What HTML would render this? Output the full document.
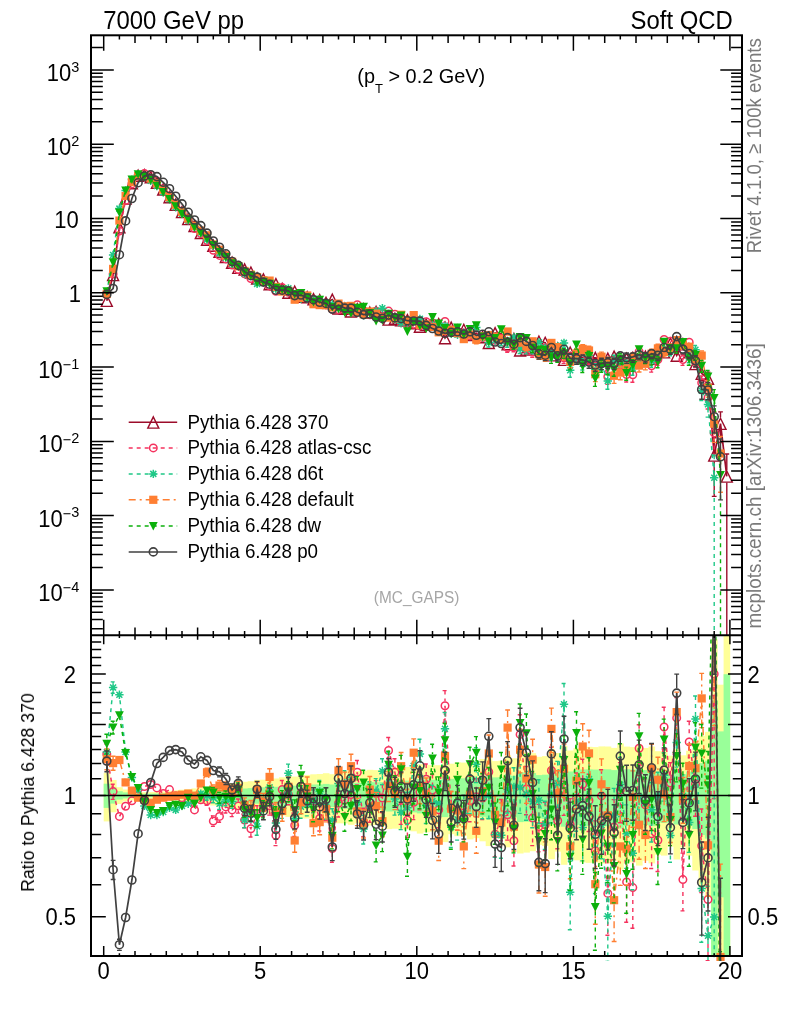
<!DOCTYPE html>
<html><head><meta charset="utf-8"><title>plot</title><style>html,body{margin:0;padding:0;background:#fff}svg{display:block}</style></head><body>
<svg width="786" height="1024" viewBox="0 0 786 1024" font-family="'Liberation Sans', sans-serif">
<rect width="786" height="1024" fill="#fff"/>
<defs><clipPath id="cm"><rect x="91.0" y="35.3" width="651.0" height="599.9"/></clipPath><clipPath id="cr"><rect x="91.0" y="635.2" width="651.0" height="325.8"/></clipPath></defs>
<g clip-path="url(#cr)">
<rect x="103.7" y="772.8" width="6.6" height="48.6" fill="#ffff99"/>
<rect x="110.0" y="780.0" width="6.6" height="32.3" fill="#ffff99"/>
<rect x="116.2" y="787.2" width="6.6" height="16.8" fill="#ffff99"/>
<rect x="122.5" y="789.5" width="6.6" height="11.9" fill="#ffff99"/>
<rect x="128.7" y="790.6" width="6.6" height="9.8" fill="#ffff99"/>
<rect x="135.0" y="792.1" width="6.6" height="6.6" fill="#ffff99"/>
<rect x="141.3" y="792.2" width="6.6" height="6.6" fill="#ffff99"/>
<rect x="147.5" y="792.1" width="6.6" height="6.8" fill="#ffff99"/>
<rect x="153.8" y="791.8" width="6.6" height="7.3" fill="#ffff99"/>
<rect x="160.1" y="791.4" width="6.6" height="8.2" fill="#ffff99"/>
<rect x="166.3" y="790.9" width="6.6" height="9.2" fill="#ffff99"/>
<rect x="172.6" y="790.3" width="6.6" height="10.4" fill="#ffff99"/>
<rect x="178.8" y="789.7" width="6.6" height="11.6" fill="#ffff99"/>
<rect x="185.1" y="789.1" width="6.6" height="12.9" fill="#ffff99"/>
<rect x="191.4" y="788.4" width="6.6" height="14.4" fill="#ffff99"/>
<rect x="197.6" y="787.6" width="6.6" height="16.0" fill="#ffff99"/>
<rect x="203.9" y="786.7" width="6.6" height="17.8" fill="#ffff99"/>
<rect x="210.2" y="785.9" width="6.6" height="19.6" fill="#ffff99"/>
<rect x="216.4" y="785.0" width="6.6" height="21.5" fill="#ffff99"/>
<rect x="222.7" y="784.1" width="6.6" height="23.3" fill="#ffff99"/>
<rect x="228.9" y="783.1" width="6.6" height="25.4" fill="#ffff99"/>
<rect x="235.2" y="782.2" width="6.6" height="27.6" fill="#ffff99"/>
<rect x="241.5" y="781.8" width="6.6" height="28.3" fill="#ffff99"/>
<rect x="247.7" y="781.2" width="6.6" height="29.7" fill="#ffff99"/>
<rect x="254.0" y="779.9" width="6.6" height="32.5" fill="#ffff99"/>
<rect x="260.2" y="779.7" width="6.6" height="33.1" fill="#ffff99"/>
<rect x="266.5" y="778.5" width="6.6" height="35.6" fill="#ffff99"/>
<rect x="272.8" y="778.5" width="6.6" height="35.6" fill="#ffff99"/>
<rect x="279.0" y="777.3" width="6.6" height="38.3" fill="#ffff99"/>
<rect x="285.3" y="776.3" width="6.6" height="40.6" fill="#ffff99"/>
<rect x="291.6" y="776.6" width="6.6" height="39.9" fill="#ffff99"/>
<rect x="297.8" y="775.1" width="6.6" height="43.3" fill="#ffff99"/>
<rect x="304.1" y="774.9" width="6.6" height="43.6" fill="#ffff99"/>
<rect x="310.3" y="774.3" width="6.6" height="45.1" fill="#ffff99"/>
<rect x="316.6" y="774.0" width="6.6" height="45.8" fill="#ffff99"/>
<rect x="322.9" y="773.2" width="6.6" height="47.7" fill="#ffff99"/>
<rect x="329.1" y="774.2" width="6.6" height="45.4" fill="#ffff99"/>
<rect x="335.4" y="771.3" width="6.6" height="52.0" fill="#ffff99"/>
<rect x="341.7" y="771.3" width="6.6" height="52.1" fill="#ffff99"/>
<rect x="347.9" y="770.3" width="6.6" height="54.5" fill="#ffff99"/>
<rect x="354.2" y="771.1" width="6.6" height="52.5" fill="#ffff99"/>
<rect x="360.4" y="771.0" width="6.6" height="52.7" fill="#ffff99"/>
<rect x="366.7" y="769.8" width="6.6" height="55.7" fill="#ffff99"/>
<rect x="373.0" y="770.1" width="6.6" height="54.9" fill="#ffff99"/>
<rect x="379.2" y="769.7" width="6.6" height="55.8" fill="#ffff99"/>
<rect x="385.5" y="767.1" width="6.6" height="62.0" fill="#ffff99"/>
<rect x="391.8" y="767.5" width="6.6" height="61.2" fill="#ffff99"/>
<rect x="398.0" y="766.8" width="6.6" height="62.8" fill="#ffff99"/>
<rect x="404.3" y="766.9" width="6.6" height="62.6" fill="#ffff99"/>
<rect x="410.5" y="765.7" width="6.6" height="65.6" fill="#ffff99"/>
<rect x="416.8" y="764.1" width="6.6" height="69.5" fill="#ffff99"/>
<rect x="423.1" y="764.9" width="6.6" height="67.4" fill="#ffff99"/>
<rect x="429.3" y="765.2" width="6.6" height="66.6" fill="#ffff99"/>
<rect x="435.6" y="765.2" width="6.6" height="66.6" fill="#ffff99"/>
<rect x="441.8" y="758.6" width="6.6" height="83.5" fill="#ffff99"/>
<rect x="448.1" y="763.7" width="6.6" height="70.5" fill="#ffff99"/>
<rect x="454.4" y="762.4" width="6.6" height="73.8" fill="#ffff99"/>
<rect x="460.6" y="762.6" width="6.6" height="73.1" fill="#ffff99"/>
<rect x="466.9" y="760.2" width="6.6" height="79.2" fill="#ffff99"/>
<rect x="473.2" y="761.0" width="6.6" height="77.2" fill="#ffff99"/>
<rect x="479.4" y="759.1" width="6.6" height="82.2" fill="#ffff99"/>
<rect x="485.7" y="756.1" width="6.6" height="90.0" fill="#ffff99"/>
<rect x="491.9" y="761.1" width="6.6" height="77.0" fill="#ffff99"/>
<rect x="498.2" y="760.7" width="6.6" height="78.1" fill="#ffff99"/>
<rect x="504.5" y="755.4" width="6.6" height="91.9" fill="#ffff99"/>
<rect x="510.7" y="758.3" width="6.6" height="84.4" fill="#ffff99"/>
<rect x="517.0" y="751.8" width="6.6" height="101.7" fill="#ffff99"/>
<rect x="523.3" y="752.4" width="6.6" height="100.2" fill="#ffff99"/>
<rect x="529.5" y="753.2" width="6.6" height="98.0" fill="#ffff99"/>
<rect x="535.8" y="756.8" width="6.6" height="88.1" fill="#ffff99"/>
<rect x="542.0" y="756.1" width="6.6" height="89.9" fill="#ffff99"/>
<rect x="548.3" y="748.8" width="6.6" height="110.4" fill="#ffff99"/>
<rect x="554.6" y="753.0" width="6.6" height="98.6" fill="#ffff99"/>
<rect x="560.8" y="745.8" width="6.6" height="119.0" fill="#ffff99"/>
<rect x="567.1" y="750.5" width="6.6" height="105.4" fill="#ffff99"/>
<rect x="573.4" y="748.2" width="6.6" height="112.1" fill="#ffff99"/>
<rect x="579.6" y="747.0" width="6.6" height="115.5" fill="#ffff99"/>
<rect x="585.9" y="746.8" width="6.6" height="116.1" fill="#ffff99"/>
<rect x="592.1" y="747.1" width="6.6" height="115.4" fill="#ffff99"/>
<rect x="598.4" y="746.4" width="6.6" height="117.2" fill="#ffff99"/>
<rect x="604.7" y="746.5" width="6.6" height="116.9" fill="#ffff99"/>
<rect x="610.9" y="747.9" width="6.6" height="112.8" fill="#ffff99"/>
<rect x="617.2" y="743.4" width="6.6" height="126.2" fill="#ffff99"/>
<rect x="623.4" y="746.6" width="6.6" height="116.8" fill="#ffff99"/>
<rect x="629.7" y="747.1" width="6.6" height="115.3" fill="#ffff99"/>
<rect x="636.0" y="745.5" width="6.6" height="120.1" fill="#ffff99"/>
<rect x="642.2" y="748.0" width="6.6" height="112.7" fill="#ffff99"/>
<rect x="648.5" y="746.5" width="6.6" height="116.9" fill="#ffff99"/>
<rect x="654.8" y="751.2" width="6.6" height="103.5" fill="#ffff99"/>
<rect x="661.0" y="750.7" width="6.6" height="104.9" fill="#ffff99"/>
<rect x="667.3" y="755.7" width="6.6" height="91.0" fill="#ffff99"/>
<rect x="673.5" y="748.6" width="6.6" height="110.9" fill="#ffff99"/>
<rect x="679.8" y="755.3" width="6.6" height="92.1" fill="#ffff99"/>
<rect x="686.1" y="750.7" width="6.6" height="105.0" fill="#ffff99"/>
<rect x="692.3" y="743.0" width="6.6" height="127.5" fill="#ffff99"/>
<rect x="698.6" y="735.8" width="6.6" height="150.6" fill="#ffff99"/>
<rect x="704.9" y="731.8" width="6.6" height="164.5" fill="#ffff99"/>
<rect x="711.1" y="639.2" width="6.6" height="316.8" fill="#ffff99"/>
<rect x="717.4" y="684.7" width="6.6" height="271.3" fill="#ffff99"/>
<rect x="723.6" y="635.2" width="6.6" height="320.8" fill="#ffff99"/>
<rect x="103.7" y="783.7" width="6.6" height="24.2" fill="#99ff99"/>
<rect x="110.0" y="787.5" width="6.6" height="16.1" fill="#99ff99"/>
<rect x="116.2" y="791.2" width="6.6" height="8.4" fill="#99ff99"/>
<rect x="122.5" y="792.4" width="6.6" height="6.0" fill="#99ff99"/>
<rect x="128.7" y="793.0" width="6.6" height="4.9" fill="#99ff99"/>
<rect x="135.0" y="793.8" width="6.6" height="3.3" fill="#99ff99"/>
<rect x="141.3" y="793.8" width="6.6" height="3.3" fill="#99ff99"/>
<rect x="147.5" y="793.7" width="6.6" height="3.4" fill="#99ff99"/>
<rect x="153.8" y="793.6" width="6.6" height="3.7" fill="#99ff99"/>
<rect x="160.1" y="793.4" width="6.6" height="4.1" fill="#99ff99"/>
<rect x="166.3" y="793.1" width="6.6" height="4.6" fill="#99ff99"/>
<rect x="172.6" y="792.8" width="6.6" height="5.2" fill="#99ff99"/>
<rect x="178.8" y="792.5" width="6.6" height="5.8" fill="#99ff99"/>
<rect x="185.1" y="792.2" width="6.6" height="6.5" fill="#99ff99"/>
<rect x="191.4" y="791.8" width="6.6" height="7.2" fill="#99ff99"/>
<rect x="197.6" y="791.4" width="6.6" height="8.0" fill="#99ff99"/>
<rect x="203.9" y="791.0" width="6.6" height="8.9" fill="#99ff99"/>
<rect x="210.2" y="790.6" width="6.6" height="9.8" fill="#99ff99"/>
<rect x="216.4" y="790.1" width="6.6" height="10.7" fill="#99ff99"/>
<rect x="222.7" y="789.7" width="6.6" height="11.6" fill="#99ff99"/>
<rect x="228.9" y="789.2" width="6.6" height="12.7" fill="#99ff99"/>
<rect x="235.2" y="788.7" width="6.6" height="13.8" fill="#99ff99"/>
<rect x="241.5" y="788.5" width="6.6" height="14.1" fill="#99ff99"/>
<rect x="247.7" y="788.1" width="6.6" height="14.8" fill="#99ff99"/>
<rect x="254.0" y="787.5" width="6.6" height="16.2" fill="#99ff99"/>
<rect x="260.2" y="787.3" width="6.6" height="16.5" fill="#99ff99"/>
<rect x="266.5" y="786.8" width="6.6" height="17.7" fill="#99ff99"/>
<rect x="272.8" y="786.8" width="6.6" height="17.7" fill="#99ff99"/>
<rect x="279.0" y="786.1" width="6.6" height="19.1" fill="#99ff99"/>
<rect x="285.3" y="785.6" width="6.6" height="20.2" fill="#99ff99"/>
<rect x="291.6" y="785.7" width="6.6" height="19.9" fill="#99ff99"/>
<rect x="297.8" y="784.9" width="6.6" height="21.6" fill="#99ff99"/>
<rect x="304.1" y="784.9" width="6.6" height="21.7" fill="#99ff99"/>
<rect x="310.3" y="784.5" width="6.6" height="22.4" fill="#99ff99"/>
<rect x="316.6" y="784.4" width="6.6" height="22.8" fill="#99ff99"/>
<rect x="322.9" y="783.9" width="6.6" height="23.7" fill="#99ff99"/>
<rect x="329.1" y="784.5" width="6.6" height="22.6" fill="#99ff99"/>
<rect x="335.4" y="782.9" width="6.6" height="25.9" fill="#99ff99"/>
<rect x="341.7" y="782.9" width="6.6" height="25.9" fill="#99ff99"/>
<rect x="347.9" y="782.4" width="6.6" height="27.1" fill="#99ff99"/>
<rect x="354.2" y="782.8" width="6.6" height="26.1" fill="#99ff99"/>
<rect x="360.4" y="782.8" width="6.6" height="26.2" fill="#99ff99"/>
<rect x="366.7" y="782.1" width="6.6" height="27.7" fill="#99ff99"/>
<rect x="373.0" y="782.3" width="6.6" height="27.3" fill="#99ff99"/>
<rect x="379.2" y="782.1" width="6.6" height="27.7" fill="#99ff99"/>
<rect x="385.5" y="780.7" width="6.6" height="30.8" fill="#99ff99"/>
<rect x="391.8" y="780.9" width="6.6" height="30.4" fill="#99ff99"/>
<rect x="398.0" y="780.5" width="6.6" height="31.1" fill="#99ff99"/>
<rect x="404.3" y="780.6" width="6.6" height="31.1" fill="#99ff99"/>
<rect x="410.5" y="779.9" width="6.6" height="32.5" fill="#99ff99"/>
<rect x="416.8" y="779.0" width="6.6" height="34.4" fill="#99ff99"/>
<rect x="423.1" y="779.5" width="6.6" height="33.4" fill="#99ff99"/>
<rect x="429.3" y="779.7" width="6.6" height="33.0" fill="#99ff99"/>
<rect x="435.6" y="779.7" width="6.6" height="33.0" fill="#99ff99"/>
<rect x="441.8" y="776.0" width="6.6" height="41.1" fill="#99ff99"/>
<rect x="448.1" y="778.8" width="6.6" height="34.9" fill="#99ff99"/>
<rect x="454.4" y="778.1" width="6.6" height="36.5" fill="#99ff99"/>
<rect x="460.6" y="778.3" width="6.6" height="36.1" fill="#99ff99"/>
<rect x="466.9" y="776.9" width="6.6" height="39.1" fill="#99ff99"/>
<rect x="473.2" y="777.4" width="6.6" height="38.1" fill="#99ff99"/>
<rect x="479.4" y="776.3" width="6.6" height="40.5" fill="#99ff99"/>
<rect x="485.7" y="774.7" width="6.6" height="44.3" fill="#99ff99"/>
<rect x="491.9" y="777.4" width="6.6" height="38.0" fill="#99ff99"/>
<rect x="498.2" y="777.2" width="6.6" height="38.6" fill="#99ff99"/>
<rect x="504.5" y="774.3" width="6.6" height="45.2" fill="#99ff99"/>
<rect x="510.7" y="775.8" width="6.6" height="41.6" fill="#99ff99"/>
<rect x="517.0" y="772.3" width="6.6" height="49.8" fill="#99ff99"/>
<rect x="523.3" y="772.6" width="6.6" height="49.1" fill="#99ff99"/>
<rect x="529.5" y="773.0" width="6.6" height="48.0" fill="#99ff99"/>
<rect x="535.8" y="775.1" width="6.6" height="43.4" fill="#99ff99"/>
<rect x="542.0" y="774.7" width="6.6" height="44.2" fill="#99ff99"/>
<rect x="548.3" y="770.5" width="6.6" height="53.8" fill="#99ff99"/>
<rect x="554.6" y="772.9" width="6.6" height="48.3" fill="#99ff99"/>
<rect x="560.8" y="768.9" width="6.6" height="57.8" fill="#99ff99"/>
<rect x="567.1" y="771.5" width="6.6" height="51.5" fill="#99ff99"/>
<rect x="573.4" y="770.2" width="6.6" height="54.6" fill="#99ff99"/>
<rect x="579.6" y="769.5" width="6.6" height="56.2" fill="#99ff99"/>
<rect x="585.9" y="769.4" width="6.6" height="56.5" fill="#99ff99"/>
<rect x="592.1" y="769.6" width="6.6" height="56.2" fill="#99ff99"/>
<rect x="598.4" y="769.2" width="6.6" height="57.0" fill="#99ff99"/>
<rect x="604.7" y="769.3" width="6.6" height="56.9" fill="#99ff99"/>
<rect x="610.9" y="770.1" width="6.6" height="55.0" fill="#99ff99"/>
<rect x="617.2" y="767.5" width="6.6" height="61.1" fill="#99ff99"/>
<rect x="623.4" y="769.3" width="6.6" height="56.8" fill="#99ff99"/>
<rect x="629.7" y="769.6" width="6.6" height="56.1" fill="#99ff99"/>
<rect x="636.0" y="768.7" width="6.6" height="58.3" fill="#99ff99"/>
<rect x="642.2" y="770.1" width="6.6" height="54.9" fill="#99ff99"/>
<rect x="648.5" y="769.3" width="6.6" height="56.9" fill="#99ff99"/>
<rect x="654.8" y="771.9" width="6.6" height="50.6" fill="#99ff99"/>
<rect x="661.0" y="771.6" width="6.6" height="51.3" fill="#99ff99"/>
<rect x="667.3" y="774.4" width="6.6" height="44.8" fill="#99ff99"/>
<rect x="673.5" y="770.4" width="6.6" height="54.1" fill="#99ff99"/>
<rect x="679.8" y="774.2" width="6.6" height="45.3" fill="#99ff99"/>
<rect x="686.1" y="771.6" width="6.6" height="51.3" fill="#99ff99"/>
<rect x="692.3" y="767.3" width="6.6" height="61.7" fill="#99ff99"/>
<rect x="698.6" y="763.1" width="6.6" height="72.0" fill="#99ff99"/>
<rect x="704.9" y="760.7" width="6.6" height="77.9" fill="#99ff99"/>
<rect x="711.1" y="700.5" width="6.6" height="255.5" fill="#99ff99"/>
<rect x="717.4" y="731.4" width="6.6" height="165.9" fill="#99ff99"/>
<rect x="723.6" y="674.2" width="6.6" height="281.8" fill="#99ff99"/>
</g>
<g clip-path="url(#cr)">
<polyline points="106.8,753.9 113.1,791.6 119.4,816.4 125.6,806.3 131.9,800.8 138.1,795.7 144.4,786.5 150.7,784.5 156.9,787.9 163.2,793.6 169.5,789.6 175.7,795.7 182.0,797.7 188.2,799.7 194.5,809.9 200.8,799.7 207.0,800.8 213.3,821.1 219.5,816.4 225.8,806.9 232.1,809.9 238.3,805.9 244.6,820.1 250.9,828.7 257.1,814.0 263.4,807.7 269.6,805.7 275.9,835.4 282.2,789.6 288.4,794.5 294.7,825.2 301.0,793.2 307.2,795.2 313.5,800.8 319.7,818.4 326.0,807.5 332.3,848.6 338.5,803.3 344.8,799.7 351.0,794.6 357.3,772.3 363.6,821.9 369.8,807.3 376.1,793.6 382.4,798.0 388.6,750.5 394.9,772.3 401.1,807.6 407.4,820.1 413.7,802.3 419.9,792.1 426.2,779.2 432.5,790.0 438.7,809.7 445.0,705.8 451.2,808.7 457.5,810.0 463.8,813.1 470.0,800.7 476.3,796.8 482.6,798.0 488.8,772.0 495.1,834.2 501.3,818.9 507.6,814.7 513.9,840.7 520.1,734.4 526.4,789.0 532.6,818.0 538.9,826.5 545.2,824.7 551.4,770.5 557.7,820.8 564.0,785.1 570.2,824.4 576.5,798.4 582.7,784.4 589.0,800.5 595.3,850.8 601.5,795.9 607.8,893.4 614.1,827.1 620.3,790.1 626.6,881.9 632.8,887.6 639.1,748.3 645.4,804.9 651.6,833.8 657.9,840.3 664.1,727.0 670.4,783.1 676.7,717.9 682.9,879.6 689.2,741.9 695.5,783.9 701.7,845.8 708.0,899.5 714.2,674.0" fill="none" stroke="#f5325e" stroke-width="1.5" stroke-dasharray="4 4"/>
<path d="M106.8 744.0 L106.8 749.4 M104.4 744.0 L109.2 744.0 M106.8 758.4 L106.8 764.4 M104.4 764.4 L109.2 764.4 M113.1 784.2 L113.1 787.1 M110.7 784.2 L115.5 784.2 M113.1 796.1 L113.1 799.4 M110.7 799.4 L115.5 799.4 M207.0 805.3 L207.0 805.4 M204.6 805.4 L209.4 805.4 M213.3 815.9 L213.3 816.6 M210.9 815.9 L215.7 815.9 M213.3 825.6 L213.3 826.4 M210.9 826.4 L215.7 826.4 M219.5 810.8 L219.5 811.9 M217.1 810.8 L221.9 810.8 M219.5 820.9 L219.5 822.2 M217.1 822.2 L221.9 822.2 M225.8 801.0 L225.8 802.4 M223.4 801.0 L228.2 801.0 M225.8 811.4 L225.8 813.0 M223.4 813.0 L228.2 813.0 M232.1 803.4 L232.1 805.4 M229.7 803.4 L234.5 803.4 M232.1 814.4 L232.1 816.6 M229.7 816.6 L234.5 816.6 M238.3 799.0 L238.3 801.4 M235.9 799.0 L240.7 799.0 M238.3 810.4 L238.3 813.1 M235.9 813.1 L240.7 813.1 M244.6 812.7 L244.6 815.6 M242.2 812.7 L247.0 812.7 M244.6 824.6 L244.6 827.8 M242.2 827.8 L247.0 827.8 M250.9 820.7 L250.9 824.2 M248.5 820.7 L253.3 820.7 M250.9 833.2 L250.9 837.0 M248.5 837.0 L253.3 837.0 M257.1 805.7 L257.1 809.5 M254.7 805.7 L259.5 805.7 M257.1 818.5 L257.1 822.8 M254.7 822.8 L259.5 822.8 M263.4 799.4 L263.4 803.2 M261.0 799.4 L265.8 799.4 M263.4 812.2 L263.4 816.4 M261.0 816.4 L265.8 816.4 M269.6 796.8 L269.6 801.2 M267.2 796.8 L272.0 796.8 M269.6 810.2 L269.6 815.1 M267.2 815.1 L272.0 815.1 M275.9 825.7 L275.9 830.9 M273.5 825.7 L278.3 825.7 M275.9 839.9 L275.9 845.6 M273.5 845.6 L278.3 845.6 M282.2 780.5 L282.2 785.1 M279.8 780.5 L284.6 780.5 M282.2 794.1 L282.2 799.2 M279.8 799.2 L284.6 799.2 M288.4 784.7 L288.4 790.0 M286.0 784.7 L290.8 784.7 M288.4 799.0 L288.4 804.8 M286.0 804.8 L290.8 804.8 M294.7 814.7 L294.7 820.7 M292.3 814.7 L297.1 814.7 M294.7 829.7 L294.7 836.4 M292.3 836.4 L297.1 836.4 M301.0 782.8 L301.0 788.7 M298.6 782.8 L303.4 782.8 M301.0 797.7 L301.0 804.2 M298.6 804.2 L303.4 804.2 M307.2 784.7 L307.2 790.7 M304.8 784.7 L309.6 784.7 M307.2 799.7 L307.2 806.4 M304.8 806.4 L309.6 806.4 M313.5 789.7 L313.5 796.3 M311.1 789.7 L315.9 789.7 M313.5 805.3 L313.5 812.5 M311.1 812.5 L315.9 812.5 M319.7 806.6 L319.7 813.9 M317.3 806.6 L322.1 806.6 M319.7 822.9 L319.7 831.0 M317.3 831.0 L322.1 831.0 M326.0 795.7 L326.0 803.0 M323.6 795.7 L328.4 795.7 M326.0 812.0 L326.0 820.2 M323.6 820.2 L328.4 820.2 M332.3 835.9 L332.3 844.1 M329.9 835.9 L334.7 835.9 M332.3 853.1 L332.3 862.3 M329.9 862.3 L334.7 862.3 M338.5 790.6 L338.5 798.8 M336.1 790.6 L340.9 790.6 M338.5 807.8 L338.5 817.0 M336.1 817.0 L340.9 817.0 M344.8 787.1 L344.8 795.2 M342.4 787.1 L347.2 787.1 M344.8 804.2 L344.8 813.3 M342.4 813.3 L347.2 813.3 M351.0 781.6 L351.0 790.1 M348.6 781.6 L353.4 781.6 M351.0 799.1 L351.0 808.6 M348.6 808.6 L353.4 808.6 M357.3 760.5 L357.3 767.8 M354.9 760.5 L359.7 760.5 M357.3 776.8 L357.3 785.0 M354.9 785.0 L359.7 785.0 M363.6 808.3 L363.6 817.4 M361.2 808.3 L366.0 808.3 M363.6 826.4 L363.6 836.6 M361.2 836.6 L366.0 836.6 M369.8 793.6 L369.8 802.8 M367.4 793.6 L372.2 793.6 M369.8 811.8 L369.8 822.2 M367.4 822.2 L372.2 822.2 M376.1 780.6 L376.1 789.1 M373.7 780.6 L378.5 780.6 M376.1 798.1 L376.1 807.7 M373.7 807.7 L378.5 807.7 M382.4 784.6 L382.4 793.5 M380.0 784.6 L384.8 784.6 M382.4 802.5 L382.4 812.5 M380.0 812.5 L384.8 812.5 M388.6 737.5 L388.6 746.0 M386.2 737.5 L391.0 737.5 M388.6 755.0 L388.6 764.5 M386.2 764.5 L391.0 764.5 M394.9 758.7 L394.9 767.8 M392.5 758.7 L397.3 758.7 M394.9 776.8 L394.9 787.1 M392.5 787.1 L397.3 787.1 M401.1 792.2 L401.1 803.1 M398.7 792.2 L403.5 792.2 M401.1 812.1 L401.1 824.4 M398.7 824.4 L403.5 824.4 M407.4 804.2 L407.4 815.6 M405.0 804.2 L409.8 804.2 M407.4 824.6 L407.4 837.6 M405.0 837.6 L409.8 837.6 M413.7 786.5 L413.7 797.8 M411.3 786.5 L416.1 786.5 M413.7 806.8 L413.7 819.6 M411.3 819.6 L416.1 819.6 M419.9 775.9 L419.9 787.6 M417.5 775.9 L422.3 775.9 M419.9 796.6 L419.9 809.9 M417.5 809.9 L422.3 809.9 M426.2 764.0 L426.2 774.7 M423.8 764.0 L428.6 764.0 M426.2 783.7 L426.2 795.8 M423.8 795.8 L428.6 795.8 M432.5 774.5 L432.5 785.5 M430.1 774.5 L434.9 774.5 M432.5 794.5 L432.5 807.0 M430.1 807.0 L434.9 807.0 M438.7 793.3 L438.7 805.2 M436.3 793.3 L441.1 793.3 M438.7 814.2 L438.7 827.7 M436.3 827.7 L441.1 827.7 M445.0 690.6 L445.0 701.3 M442.6 690.6 L447.4 690.6 M445.0 710.3 L445.0 722.4 M442.6 722.4 L447.4 722.4 M451.2 791.5 L451.2 804.2 M448.8 791.5 L453.6 791.5 M451.2 813.2 L451.2 827.8 M448.8 827.8 L453.6 827.8 M457.5 792.0 L457.5 805.5 M455.1 792.0 L459.9 792.0 M457.5 814.5 L457.5 830.1 M455.1 830.1 L459.9 830.1 M463.8 795.1 L463.8 808.6 M461.4 795.1 L466.2 795.1 M463.8 817.6 L463.8 833.2 M461.4 833.2 L466.2 833.2 M470.0 782.0 L470.0 796.2 M467.6 782.0 L472.4 782.0 M470.0 805.2 L470.0 821.7 M467.6 821.7 L472.4 821.7 M476.3 778.7 L476.3 792.3 M473.9 778.7 L478.7 778.7 M476.3 801.3 L476.3 816.9 M473.9 816.9 L478.7 816.9 M482.6 778.7 L482.6 793.5 M480.2 778.7 L485.0 778.7 M482.6 802.5 L482.6 819.6 M480.2 819.6 L485.0 819.6 M488.8 752.5 L488.8 767.5 M486.4 752.5 L491.2 752.5 M488.8 776.5 L488.8 793.9 M486.4 793.9 L491.2 793.9 M495.1 814.2 L495.1 829.7 M492.7 814.2 L497.5 814.2 M495.1 838.7 L495.1 856.7 M492.7 856.7 L497.5 856.7 M501.3 799.5 L501.3 814.4 M498.9 799.5 L503.7 799.5 M501.3 823.4 L501.3 840.7 M498.9 840.7 L503.7 840.7 M507.6 792.4 L507.6 810.2 M505.2 792.4 L510.0 792.4 M507.6 819.2 L507.6 840.1 M505.2 840.1 L510.0 840.1 M513.9 818.6 L513.9 836.2 M511.5 818.6 L516.3 818.6 M513.9 845.2 L513.9 866.0 M511.5 866.0 L516.3 866.0 M520.1 714.8 L520.1 729.9 M517.7 714.8 L522.5 714.8 M520.1 738.9 L520.1 756.5 M517.7 756.5 L522.5 756.5 M526.4 766.5 L526.4 784.5 M524.0 766.5 L528.8 766.5 M526.4 793.5 L526.4 814.7 M524.0 814.7 L528.8 814.7 M532.6 794.3 L532.6 813.5 M530.2 794.3 L535.0 794.3 M532.6 822.5 L532.6 845.6 M530.2 845.6 L535.0 845.6 M538.9 804.4 L538.9 822.0 M536.5 804.4 L541.3 804.4 M538.9 831.0 L538.9 851.8 M536.5 851.8 L541.3 851.8 M545.2 802.3 L545.2 820.2 M542.8 802.3 L547.6 802.3 M545.2 829.2 L545.2 850.5 M542.8 850.5 L547.6 850.5 M551.4 747.2 L551.4 766.0 M549.0 747.2 L553.8 747.2 M551.4 775.0 L551.4 797.3 M549.0 797.3 L553.8 797.3 M557.7 796.7 L557.7 816.3 M555.3 796.7 L560.1 796.7 M557.7 825.3 L557.7 848.7 M555.3 848.7 L560.1 848.7 M564.0 759.3 L564.0 780.6 M561.6 759.3 L566.4 759.3 M564.0 789.6 L564.0 815.4 M561.6 815.4 L566.4 815.4 M570.2 798.6 L570.2 819.9 M567.8 798.6 L572.6 798.6 M570.2 828.9 L570.2 854.7 M567.8 854.7 L572.6 854.7 M576.5 773.0 L576.5 793.9 M574.1 773.0 L578.9 773.0 M576.5 802.9 L576.5 828.1 M574.1 828.1 L578.9 828.1 M582.7 759.2 L582.7 779.9 M580.3 759.2 L585.1 759.2 M582.7 788.9 L582.7 813.7 M580.3 813.7 L585.1 813.7 M589.0 774.2 L589.0 796.0 M586.6 774.2 L591.4 774.2 M589.0 805.0 L589.0 831.5 M586.6 831.5 L591.4 831.5 M595.3 820.9 L595.3 846.3 M592.9 820.9 L597.7 820.9 M595.3 855.3 L595.3 886.9 M592.9 886.9 L597.7 886.9 M601.5 769.7 L601.5 791.4 M599.1 769.7 L603.9 769.7 M601.5 800.4 L601.5 826.8 M599.1 826.8 L603.9 826.8 M607.8 859.6 L607.8 888.9 M605.4 859.6 L610.2 859.6 M607.8 897.9 L607.8 935.3 M605.4 935.3 L610.2 935.3 M614.1 799.6 L614.1 822.6 M611.7 799.6 L616.5 799.6 M614.1 831.6 L614.1 859.8 M611.7 859.8 L616.5 859.8 M620.3 762.6 L620.3 785.6 M617.9 762.6 L622.7 762.6 M620.3 794.6 L620.3 822.8 M617.9 822.8 L622.7 822.8 M626.6 849.1 L626.6 877.4 M624.2 849.1 L629.0 849.1 M626.6 886.4 L626.6 922.3 M624.2 922.3 L629.0 922.3 M632.8 854.7 L632.8 883.1 M630.4 854.7 L635.2 854.7 M632.8 892.1 L632.8 928.2 M630.4 928.2 L635.2 928.2 M639.1 724.7 L639.1 743.8 M636.7 724.7 L641.5 724.7 M639.1 752.8 L639.1 775.6 M636.7 775.6 L641.5 775.6 M645.4 778.9 L645.4 800.4 M643.0 778.9 L647.8 778.9 M645.4 809.4 L645.4 835.4 M643.0 835.4 L647.8 835.4 M651.6 804.9 L651.6 829.3 M649.2 804.9 L654.0 804.9 M651.6 838.3 L651.6 868.5 M649.2 868.5 L654.0 868.5 M657.9 813.8 L657.9 835.8 M655.5 813.8 L660.3 813.8 M657.9 844.8 L657.9 871.5 M655.5 871.5 L660.3 871.5 M664.1 707.2 L664.1 722.5 M661.7 707.2 L666.5 707.2 M664.1 731.5 L664.1 749.3 M661.7 749.3 L666.5 749.3 M670.4 762.8 L670.4 778.6 M668.0 762.8 L672.8 762.8 M670.4 787.6 L670.4 806.0 M668.0 806.0 L672.8 806.0 M676.7 697.6 L676.7 713.4 M674.3 697.6 L679.1 697.6 M676.7 722.4 L676.7 740.8 M674.3 740.8 L679.1 740.8 M682.9 853.1 L682.9 875.1 M680.5 853.1 L685.3 853.1 M682.9 884.1 L682.9 910.9 M680.5 910.9 L685.3 910.9 M689.2 721.3 L689.2 737.4 M686.8 721.3 L691.6 721.3 M689.2 746.4 L689.2 765.3 M686.8 765.3 L691.6 765.3 M695.5 756.6 L695.5 779.4 M693.1 756.6 L697.9 756.6 M695.5 788.4 L695.5 816.2 M693.1 816.2 L697.9 816.2 M701.7 809.0 L701.7 841.3 M699.3 809.0 L704.1 809.0 M701.7 850.3 L701.7 892.5 M699.3 892.5 L704.1 892.5 M708.0 854.3 L708.0 895.0 M705.6 854.3 L710.4 854.3 M708.0 904.0 L708.0 960.7 M705.6 960.7 L710.4 960.7 M714.2 602.0 L714.2 669.5 M711.8 602.0 L716.6 602.0 M714.2 678.5 L714.2 798.5 M711.8 798.5 L716.6 798.5 " fill="none" stroke="#f5325e" stroke-width="1.4" stroke-dasharray="4 4"/>
<circle cx="106.8" cy="753.9" r="3.75" fill="none" stroke="#f5325e" stroke-width="1.5"/>
<circle cx="113.1" cy="791.6" r="3.75" fill="none" stroke="#f5325e" stroke-width="1.5"/>
<circle cx="119.4" cy="816.4" r="3.75" fill="none" stroke="#f5325e" stroke-width="1.5"/>
<circle cx="125.6" cy="806.3" r="3.75" fill="none" stroke="#f5325e" stroke-width="1.5"/>
<circle cx="131.9" cy="800.8" r="3.75" fill="none" stroke="#f5325e" stroke-width="1.5"/>
<circle cx="138.1" cy="795.7" r="3.75" fill="none" stroke="#f5325e" stroke-width="1.5"/>
<circle cx="144.4" cy="786.5" r="3.75" fill="none" stroke="#f5325e" stroke-width="1.5"/>
<circle cx="150.7" cy="784.5" r="3.75" fill="none" stroke="#f5325e" stroke-width="1.5"/>
<circle cx="156.9" cy="787.9" r="3.75" fill="none" stroke="#f5325e" stroke-width="1.5"/>
<circle cx="163.2" cy="793.6" r="3.75" fill="none" stroke="#f5325e" stroke-width="1.5"/>
<circle cx="169.5" cy="789.6" r="3.75" fill="none" stroke="#f5325e" stroke-width="1.5"/>
<circle cx="175.7" cy="795.7" r="3.75" fill="none" stroke="#f5325e" stroke-width="1.5"/>
<circle cx="182.0" cy="797.7" r="3.75" fill="none" stroke="#f5325e" stroke-width="1.5"/>
<circle cx="188.2" cy="799.7" r="3.75" fill="none" stroke="#f5325e" stroke-width="1.5"/>
<circle cx="194.5" cy="809.9" r="3.75" fill="none" stroke="#f5325e" stroke-width="1.5"/>
<circle cx="200.8" cy="799.7" r="3.75" fill="none" stroke="#f5325e" stroke-width="1.5"/>
<circle cx="207.0" cy="800.8" r="3.75" fill="none" stroke="#f5325e" stroke-width="1.5"/>
<circle cx="213.3" cy="821.1" r="3.75" fill="none" stroke="#f5325e" stroke-width="1.5"/>
<circle cx="219.5" cy="816.4" r="3.75" fill="none" stroke="#f5325e" stroke-width="1.5"/>
<circle cx="225.8" cy="806.9" r="3.75" fill="none" stroke="#f5325e" stroke-width="1.5"/>
<circle cx="232.1" cy="809.9" r="3.75" fill="none" stroke="#f5325e" stroke-width="1.5"/>
<circle cx="238.3" cy="805.9" r="3.75" fill="none" stroke="#f5325e" stroke-width="1.5"/>
<circle cx="244.6" cy="820.1" r="3.75" fill="none" stroke="#f5325e" stroke-width="1.5"/>
<circle cx="250.9" cy="828.7" r="3.75" fill="none" stroke="#f5325e" stroke-width="1.5"/>
<circle cx="257.1" cy="814.0" r="3.75" fill="none" stroke="#f5325e" stroke-width="1.5"/>
<circle cx="263.4" cy="807.7" r="3.75" fill="none" stroke="#f5325e" stroke-width="1.5"/>
<circle cx="269.6" cy="805.7" r="3.75" fill="none" stroke="#f5325e" stroke-width="1.5"/>
<circle cx="275.9" cy="835.4" r="3.75" fill="none" stroke="#f5325e" stroke-width="1.5"/>
<circle cx="282.2" cy="789.6" r="3.75" fill="none" stroke="#f5325e" stroke-width="1.5"/>
<circle cx="288.4" cy="794.5" r="3.75" fill="none" stroke="#f5325e" stroke-width="1.5"/>
<circle cx="294.7" cy="825.2" r="3.75" fill="none" stroke="#f5325e" stroke-width="1.5"/>
<circle cx="301.0" cy="793.2" r="3.75" fill="none" stroke="#f5325e" stroke-width="1.5"/>
<circle cx="307.2" cy="795.2" r="3.75" fill="none" stroke="#f5325e" stroke-width="1.5"/>
<circle cx="313.5" cy="800.8" r="3.75" fill="none" stroke="#f5325e" stroke-width="1.5"/>
<circle cx="319.7" cy="818.4" r="3.75" fill="none" stroke="#f5325e" stroke-width="1.5"/>
<circle cx="326.0" cy="807.5" r="3.75" fill="none" stroke="#f5325e" stroke-width="1.5"/>
<circle cx="332.3" cy="848.6" r="3.75" fill="none" stroke="#f5325e" stroke-width="1.5"/>
<circle cx="338.5" cy="803.3" r="3.75" fill="none" stroke="#f5325e" stroke-width="1.5"/>
<circle cx="344.8" cy="799.7" r="3.75" fill="none" stroke="#f5325e" stroke-width="1.5"/>
<circle cx="351.0" cy="794.6" r="3.75" fill="none" stroke="#f5325e" stroke-width="1.5"/>
<circle cx="357.3" cy="772.3" r="3.75" fill="none" stroke="#f5325e" stroke-width="1.5"/>
<circle cx="363.6" cy="821.9" r="3.75" fill="none" stroke="#f5325e" stroke-width="1.5"/>
<circle cx="369.8" cy="807.3" r="3.75" fill="none" stroke="#f5325e" stroke-width="1.5"/>
<circle cx="376.1" cy="793.6" r="3.75" fill="none" stroke="#f5325e" stroke-width="1.5"/>
<circle cx="382.4" cy="798.0" r="3.75" fill="none" stroke="#f5325e" stroke-width="1.5"/>
<circle cx="388.6" cy="750.5" r="3.75" fill="none" stroke="#f5325e" stroke-width="1.5"/>
<circle cx="394.9" cy="772.3" r="3.75" fill="none" stroke="#f5325e" stroke-width="1.5"/>
<circle cx="401.1" cy="807.6" r="3.75" fill="none" stroke="#f5325e" stroke-width="1.5"/>
<circle cx="407.4" cy="820.1" r="3.75" fill="none" stroke="#f5325e" stroke-width="1.5"/>
<circle cx="413.7" cy="802.3" r="3.75" fill="none" stroke="#f5325e" stroke-width="1.5"/>
<circle cx="419.9" cy="792.1" r="3.75" fill="none" stroke="#f5325e" stroke-width="1.5"/>
<circle cx="426.2" cy="779.2" r="3.75" fill="none" stroke="#f5325e" stroke-width="1.5"/>
<circle cx="432.5" cy="790.0" r="3.75" fill="none" stroke="#f5325e" stroke-width="1.5"/>
<circle cx="438.7" cy="809.7" r="3.75" fill="none" stroke="#f5325e" stroke-width="1.5"/>
<circle cx="445.0" cy="705.8" r="3.75" fill="none" stroke="#f5325e" stroke-width="1.5"/>
<circle cx="451.2" cy="808.7" r="3.75" fill="none" stroke="#f5325e" stroke-width="1.5"/>
<circle cx="457.5" cy="810.0" r="3.75" fill="none" stroke="#f5325e" stroke-width="1.5"/>
<circle cx="463.8" cy="813.1" r="3.75" fill="none" stroke="#f5325e" stroke-width="1.5"/>
<circle cx="470.0" cy="800.7" r="3.75" fill="none" stroke="#f5325e" stroke-width="1.5"/>
<circle cx="476.3" cy="796.8" r="3.75" fill="none" stroke="#f5325e" stroke-width="1.5"/>
<circle cx="482.6" cy="798.0" r="3.75" fill="none" stroke="#f5325e" stroke-width="1.5"/>
<circle cx="488.8" cy="772.0" r="3.75" fill="none" stroke="#f5325e" stroke-width="1.5"/>
<circle cx="495.1" cy="834.2" r="3.75" fill="none" stroke="#f5325e" stroke-width="1.5"/>
<circle cx="501.3" cy="818.9" r="3.75" fill="none" stroke="#f5325e" stroke-width="1.5"/>
<circle cx="507.6" cy="814.7" r="3.75" fill="none" stroke="#f5325e" stroke-width="1.5"/>
<circle cx="513.9" cy="840.7" r="3.75" fill="none" stroke="#f5325e" stroke-width="1.5"/>
<circle cx="520.1" cy="734.4" r="3.75" fill="none" stroke="#f5325e" stroke-width="1.5"/>
<circle cx="526.4" cy="789.0" r="3.75" fill="none" stroke="#f5325e" stroke-width="1.5"/>
<circle cx="532.6" cy="818.0" r="3.75" fill="none" stroke="#f5325e" stroke-width="1.5"/>
<circle cx="538.9" cy="826.5" r="3.75" fill="none" stroke="#f5325e" stroke-width="1.5"/>
<circle cx="545.2" cy="824.7" r="3.75" fill="none" stroke="#f5325e" stroke-width="1.5"/>
<circle cx="551.4" cy="770.5" r="3.75" fill="none" stroke="#f5325e" stroke-width="1.5"/>
<circle cx="557.7" cy="820.8" r="3.75" fill="none" stroke="#f5325e" stroke-width="1.5"/>
<circle cx="564.0" cy="785.1" r="3.75" fill="none" stroke="#f5325e" stroke-width="1.5"/>
<circle cx="570.2" cy="824.4" r="3.75" fill="none" stroke="#f5325e" stroke-width="1.5"/>
<circle cx="576.5" cy="798.4" r="3.75" fill="none" stroke="#f5325e" stroke-width="1.5"/>
<circle cx="582.7" cy="784.4" r="3.75" fill="none" stroke="#f5325e" stroke-width="1.5"/>
<circle cx="589.0" cy="800.5" r="3.75" fill="none" stroke="#f5325e" stroke-width="1.5"/>
<circle cx="595.3" cy="850.8" r="3.75" fill="none" stroke="#f5325e" stroke-width="1.5"/>
<circle cx="601.5" cy="795.9" r="3.75" fill="none" stroke="#f5325e" stroke-width="1.5"/>
<circle cx="607.8" cy="893.4" r="3.75" fill="none" stroke="#f5325e" stroke-width="1.5"/>
<circle cx="614.1" cy="827.1" r="3.75" fill="none" stroke="#f5325e" stroke-width="1.5"/>
<circle cx="620.3" cy="790.1" r="3.75" fill="none" stroke="#f5325e" stroke-width="1.5"/>
<circle cx="626.6" cy="881.9" r="3.75" fill="none" stroke="#f5325e" stroke-width="1.5"/>
<circle cx="632.8" cy="887.6" r="3.75" fill="none" stroke="#f5325e" stroke-width="1.5"/>
<circle cx="639.1" cy="748.3" r="3.75" fill="none" stroke="#f5325e" stroke-width="1.5"/>
<circle cx="645.4" cy="804.9" r="3.75" fill="none" stroke="#f5325e" stroke-width="1.5"/>
<circle cx="651.6" cy="833.8" r="3.75" fill="none" stroke="#f5325e" stroke-width="1.5"/>
<circle cx="657.9" cy="840.3" r="3.75" fill="none" stroke="#f5325e" stroke-width="1.5"/>
<circle cx="664.1" cy="727.0" r="3.75" fill="none" stroke="#f5325e" stroke-width="1.5"/>
<circle cx="670.4" cy="783.1" r="3.75" fill="none" stroke="#f5325e" stroke-width="1.5"/>
<circle cx="676.7" cy="717.9" r="3.75" fill="none" stroke="#f5325e" stroke-width="1.5"/>
<circle cx="682.9" cy="879.6" r="3.75" fill="none" stroke="#f5325e" stroke-width="1.5"/>
<circle cx="689.2" cy="741.9" r="3.75" fill="none" stroke="#f5325e" stroke-width="1.5"/>
<circle cx="695.5" cy="783.9" r="3.75" fill="none" stroke="#f5325e" stroke-width="1.5"/>
<circle cx="701.7" cy="845.8" r="3.75" fill="none" stroke="#f5325e" stroke-width="1.5"/>
<circle cx="708.0" cy="899.5" r="3.75" fill="none" stroke="#f5325e" stroke-width="1.5"/>
<circle cx="714.2" cy="674.0" r="3.75" fill="none" stroke="#f5325e" stroke-width="1.5"/>
<polyline points="106.8,752.0 113.1,687.5 119.4,694.7 125.6,752.0 131.9,777.4 138.1,789.6 144.4,805.9 150.7,815.0 156.9,815.0 163.2,812.0 169.5,807.9 175.7,809.9 182.0,805.9 188.2,803.8 194.5,799.7 200.8,793.6 207.0,795.7 213.3,797.7 219.5,803.8 225.8,799.7 232.1,801.8 238.3,787.5 244.6,820.1 250.9,814.0 257.1,826.2 263.4,806.1 269.6,787.3 275.9,823.1 282.2,808.2 288.4,773.3 294.7,818.7 301.0,806.7 307.2,804.4 313.5,801.0 319.7,791.4 326.0,806.5 332.3,820.4 338.5,783.6 344.8,782.8 351.0,777.3 357.3,802.2 363.6,829.0 369.8,795.0 376.1,791.6 382.4,771.2 388.6,766.0 394.9,799.1 401.1,812.5 407.4,807.7 413.7,765.8 419.9,753.9 426.2,805.5 432.5,801.3 438.7,803.4 445.0,728.7 451.2,827.3 457.5,819.4 463.8,813.3 470.0,793.1 476.3,764.2 482.6,797.1 488.8,795.3 495.1,834.8 501.3,835.2 507.6,789.4 513.9,786.9 520.1,787.4 526.4,794.2 532.6,801.6 538.9,800.3 545.2,823.7 551.4,794.0 557.7,783.2 564.0,704.3 570.2,892.2 576.5,801.3 582.7,827.4 589.0,779.0 595.3,856.9 601.5,825.0 607.8,916.3 614.1,815.1 620.3,784.6 626.6,833.8 632.8,853.3 639.1,796.8 645.4,803.5 651.6,809.8 657.9,795.7 664.1,775.2 670.4,835.4 676.7,742.4 682.9,796.1 689.2,822.4 695.5,719.0 701.7,888.5 708.0,935.7 714.2,917.0" fill="none" stroke="#1fc887" stroke-width="1.5" stroke-dasharray="4 4"/>
<path d="M106.8 742.1 L106.8 747.8 M104.4 742.1 L109.2 742.1 M106.8 756.2 L106.8 762.4 M104.4 762.4 L109.2 762.4 M113.1 681.9 L113.1 683.3 M110.7 681.9 L115.5 681.9 M113.1 691.7 L113.1 693.2 M110.7 693.2 L115.5 693.2 M207.0 791.3 L207.0 791.5 M204.6 791.3 L209.4 791.3 M207.0 799.9 L207.0 800.2 M204.6 800.2 L209.4 800.2 M213.3 792.8 L213.3 793.5 M210.9 792.8 L215.7 792.8 M213.3 801.9 L213.3 802.7 M210.9 802.7 L215.7 802.7 M219.5 798.4 L219.5 799.6 M217.1 798.4 L221.9 798.4 M219.5 808.0 L219.5 809.4 M217.1 809.4 L221.9 809.4 M225.8 793.9 L225.8 795.5 M223.4 793.9 L228.2 793.9 M225.8 803.9 L225.8 805.7 M223.4 805.7 L228.2 805.7 M232.1 795.5 L232.1 797.6 M229.7 795.5 L234.5 795.5 M232.1 806.0 L232.1 808.4 M229.7 808.4 L234.5 808.4 M238.3 780.9 L238.3 783.3 M235.9 780.9 L240.7 780.9 M238.3 791.7 L238.3 794.4 M235.9 794.4 L240.7 794.4 M244.6 812.7 L244.6 815.9 M242.2 812.7 L247.0 812.7 M244.6 824.3 L244.6 827.8 M242.2 827.8 L247.0 827.8 M250.9 806.4 L250.9 809.8 M248.5 806.4 L253.3 806.4 M250.9 818.2 L250.9 822.0 M248.5 822.0 L253.3 822.0 M257.1 817.6 L257.1 822.0 M254.7 817.6 L259.5 817.6 M257.1 830.4 L257.1 835.3 M254.7 835.3 L259.5 835.3 M263.4 797.8 L263.4 801.9 M261.0 797.8 L265.8 797.8 M263.4 810.3 L263.4 814.8 M261.0 814.8 L265.8 814.8 M269.6 778.9 L269.6 783.1 M267.2 778.9 L272.0 778.9 M269.6 791.5 L269.6 796.2 M267.2 796.2 L272.0 796.2 M275.9 813.8 L275.9 818.9 M273.5 813.8 L278.3 813.8 M275.9 827.3 L275.9 833.0 M273.5 833.0 L278.3 833.0 M282.2 798.6 L282.2 804.0 M279.8 798.6 L284.6 798.6 M282.2 812.4 L282.2 818.4 M279.8 818.4 L284.6 818.4 M288.4 764.1 L288.4 769.1 M286.0 764.1 L290.8 764.1 M288.4 777.5 L288.4 783.1 M286.0 783.1 L290.8 783.1 M294.7 808.4 L294.7 814.5 M292.3 808.4 L297.1 808.4 M294.7 822.9 L294.7 829.7 M292.3 829.7 L297.1 829.7 M301.0 795.9 L301.0 802.5 M298.6 795.9 L303.4 795.9 M301.0 810.9 L301.0 818.2 M298.6 818.2 L303.4 818.2 M307.2 793.6 L307.2 800.2 M304.8 793.6 L309.6 793.6 M307.2 808.6 L307.2 815.9 M304.8 815.9 L309.6 815.9 M313.5 790.0 L313.5 796.8 M311.1 790.0 L315.9 790.0 M313.5 805.2 L313.5 812.8 M311.1 812.8 L315.9 812.8 M319.7 780.5 L319.7 787.2 M317.3 780.5 L322.1 780.5 M319.7 795.6 L319.7 803.1 M317.3 803.1 L322.1 803.1 M326.0 794.7 L326.0 802.3 M323.6 794.7 L328.4 794.7 M326.0 810.7 L326.0 819.2 M323.6 819.2 L328.4 819.2 M332.3 808.7 L332.3 816.2 M329.9 808.7 L334.7 808.7 M332.3 824.6 L332.3 832.9 M329.9 832.9 L334.7 832.9 M338.5 771.5 L338.5 779.4 M336.1 771.5 L340.9 771.5 M338.5 787.8 L338.5 796.5 M336.1 796.5 L340.9 796.5 M344.8 770.8 L344.8 778.6 M342.4 770.8 L347.2 770.8 M344.8 787.0 L344.8 795.8 M342.4 795.8 L347.2 795.8 M351.0 764.9 L351.0 773.1 M348.6 764.9 L353.4 764.9 M351.0 781.5 L351.0 790.7 M348.6 790.7 L353.4 790.7 M357.3 789.4 L357.3 798.0 M354.9 789.4 L359.7 789.4 M357.3 806.4 L357.3 816.1 M354.9 816.1 L359.7 816.1 M363.6 815.2 L363.6 824.8 M361.2 815.2 L366.0 815.2 M363.6 833.2 L363.6 844.0 M361.2 844.0 L366.0 844.0 M369.8 781.7 L369.8 790.8 M367.4 781.7 L372.2 781.7 M369.8 799.2 L369.8 809.4 M367.4 809.4 L372.2 809.4 M376.1 778.6 L376.1 787.4 M373.7 778.6 L378.5 778.6 M376.1 795.8 L376.1 805.6 M373.7 805.6 L378.5 805.6 M382.4 758.8 L382.4 767.0 M380.0 758.8 L384.8 758.8 M382.4 775.4 L382.4 784.6 M380.0 784.6 L384.8 784.6 M388.6 752.5 L388.6 761.8 M386.2 752.5 L391.0 752.5 M388.6 770.2 L388.6 780.7 M386.2 780.7 L391.0 780.7 M394.9 784.4 L394.9 794.9 M392.5 784.4 L397.3 784.4 M394.9 803.3 L394.9 815.1 M392.5 815.1 L397.3 815.1 M401.1 796.9 L401.1 808.3 M398.7 796.9 L403.5 796.9 M401.1 816.7 L401.1 829.6 M398.7 829.6 L403.5 829.6 M407.4 792.4 L407.4 803.5 M405.0 792.4 L409.8 792.4 M407.4 811.9 L407.4 824.6 M405.0 824.6 L409.8 824.6 M413.7 751.5 L413.7 761.6 M411.3 751.5 L416.1 751.5 M413.7 770.0 L413.7 781.4 M411.3 781.4 L416.1 781.4 M419.9 739.3 L419.9 749.7 M417.5 739.3 L422.3 739.3 M419.9 758.1 L419.9 769.9 M417.5 769.9 L422.3 769.9 M426.2 789.2 L426.2 801.3 M423.8 789.2 L428.6 789.2 M426.2 809.7 L426.2 823.5 M423.8 823.5 L428.6 823.5 M432.5 785.3 L432.5 797.1 M430.1 785.3 L434.9 785.3 M432.5 805.5 L432.5 818.9 M430.1 818.9 L434.9 818.9 M438.7 787.3 L438.7 799.2 M436.3 787.3 L441.1 787.3 M438.7 807.6 L438.7 821.1 M436.3 821.1 L441.1 821.1 M445.0 712.5 L445.0 724.5 M442.6 712.5 L447.4 712.5 M445.0 732.9 L445.0 746.5 M442.6 746.5 L447.4 746.5 M451.2 809.2 L451.2 823.1 M448.8 809.2 L453.6 809.2 M451.2 831.5 L451.2 847.5 M448.8 847.5 L453.6 847.5 M457.5 800.9 L457.5 815.2 M455.1 800.9 L459.9 800.9 M457.5 823.6 L457.5 840.1 M455.1 840.1 L459.9 840.1 M463.8 795.3 L463.8 809.1 M461.4 795.3 L466.2 795.3 M463.8 817.5 L463.8 833.3 M461.4 833.3 L466.2 833.3 M470.0 774.8 L470.0 788.9 M467.6 774.8 L472.4 774.8 M470.0 797.3 L470.0 813.6 M467.6 813.6 L472.4 813.6 M476.3 747.6 L476.3 760.0 M473.9 747.6 L478.7 747.6 M476.3 768.4 L476.3 782.5 M473.9 782.5 L478.7 782.5 M482.6 777.9 L482.6 792.9 M480.2 777.9 L485.0 777.9 M482.6 801.3 L482.6 818.7 M480.2 818.7 L485.0 818.7 M488.8 774.5 L488.8 791.1 M486.4 774.5 L491.2 774.5 M488.8 799.5 L488.8 818.8 M486.4 818.8 L491.2 818.8 M495.1 814.8 L495.1 830.6 M492.7 814.8 L497.5 814.8 M495.1 839.0 L495.1 857.4 M492.7 857.4 L497.5 857.4 M501.3 814.9 L501.3 831.0 M498.9 814.9 L503.7 814.9 M501.3 839.4 L501.3 858.2 M498.9 858.2 L503.7 858.2 M507.6 768.6 L507.6 785.2 M505.2 768.6 L510.0 768.6 M507.6 793.6 L507.6 813.0 M505.2 813.0 L510.0 813.0 M513.9 767.7 L513.9 782.7 M511.5 767.7 L516.3 767.7 M513.9 791.1 L513.9 808.3 M511.5 808.3 L516.3 808.3 M520.1 764.8 L520.1 783.2 M517.7 764.8 L522.5 764.8 M520.1 791.6 L520.1 813.4 M517.7 813.4 L522.5 813.4 M526.4 771.4 L526.4 790.0 M524.0 771.4 L528.8 771.4 M526.4 798.4 L526.4 820.3 M524.0 820.3 L528.8 820.3 M532.6 778.8 L532.6 797.4 M530.2 778.8 L535.0 778.8 M532.6 805.8 L532.6 827.7 M530.2 827.7 L535.0 827.7 M538.9 779.7 L538.9 796.1 M536.5 779.7 L541.3 779.7 M538.9 804.5 L538.9 823.7 M536.5 823.7 L541.3 823.7 M545.2 801.3 L545.2 819.5 M542.8 801.3 L547.6 801.3 M545.2 827.9 L545.2 849.4 M542.8 849.4 L547.6 849.4 M551.4 769.3 L551.4 789.8 M549.0 769.3 L553.8 769.3 M551.4 798.2 L551.4 822.9 M549.0 822.9 L553.8 822.9 M557.7 761.4 L557.7 779.0 M555.3 761.4 L560.1 761.4 M557.7 787.4 L557.7 808.1 M555.3 808.1 L560.1 808.1 M564.0 683.5 L564.0 700.1 M561.6 683.5 L566.4 683.5 M564.0 708.5 L564.0 727.9 M561.6 727.9 L566.4 727.9 M570.2 861.3 L570.2 888.0 M567.8 861.3 L572.6 861.3 M570.2 896.4 L570.2 929.7 M567.8 929.7 L572.6 929.7 M576.5 775.7 L576.5 797.1 M574.1 775.7 L578.9 775.7 M576.5 805.5 L576.5 831.3 M574.1 831.3 L578.9 831.3 M582.7 799.2 L582.7 823.2 M580.3 799.2 L585.1 799.2 M582.7 831.6 L582.7 860.9 M580.3 860.9 L585.1 860.9 M589.0 754.2 L589.0 774.8 M586.6 754.2 L591.4 754.2 M589.0 783.2 L589.0 808.0 M586.6 808.0 L591.4 808.0 M595.3 826.5 L595.3 852.7 M592.9 826.5 L597.7 826.5 M595.3 861.1 L595.3 893.6 M592.9 893.6 L597.7 893.6 M601.5 796.7 L601.5 820.8 M599.1 796.7 L603.9 796.7 M601.5 829.2 L601.5 858.8 M599.1 858.8 L603.9 858.8 M607.8 880.4 L607.8 912.1 M605.4 880.4 L610.2 880.4 M607.8 920.5 L607.8 961.5 M605.4 961.5 L610.2 961.5 M614.1 788.4 L614.1 810.9 M611.7 788.4 L616.5 788.4 M614.1 819.3 L614.1 846.6 M611.7 846.6 L616.5 846.6 M620.3 757.5 L620.3 780.4 M617.9 757.5 L622.7 757.5 M620.3 788.8 L620.3 816.6 M617.9 816.6 L622.7 816.6 M626.6 804.9 L626.6 829.6 M624.2 804.9 L629.0 804.9 M626.6 838.0 L626.6 868.4 M624.2 868.4 L629.0 868.4 M632.8 823.2 L632.8 849.1 M630.4 823.2 L635.2 823.2 M632.8 857.5 L632.8 889.7 M630.4 889.7 L635.2 889.7 M639.1 770.0 L639.1 792.6 M636.7 770.0 L641.5 770.0 M639.1 801.0 L639.1 828.5 M636.7 828.5 L641.5 828.5 M645.4 777.6 L645.4 799.3 M643.0 777.6 L647.8 777.6 M645.4 807.7 L645.4 833.9 M643.0 833.9 L647.8 833.9 M651.6 782.6 L651.6 805.6 M649.2 782.6 L654.0 782.6 M651.6 814.0 L651.6 842.0 M649.2 842.0 L654.0 842.0 M657.9 772.2 L657.9 791.5 M655.5 772.2 L660.3 772.2 M657.9 799.9 L657.9 822.9 M655.5 822.9 L660.3 822.9 M664.1 752.7 L664.1 771.0 M661.7 752.7 L666.5 752.7 M664.1 779.4 L664.1 801.1 M661.7 801.1 L666.5 801.1 M670.4 812.0 L670.4 831.2 M668.0 812.0 L672.8 812.0 M670.4 839.6 L670.4 862.3 M668.0 862.3 L672.8 862.3 M676.7 720.7 L676.7 738.2 M674.3 720.7 L679.1 720.7 M676.7 746.6 L676.7 767.1 M674.3 767.1 L679.1 767.1 M682.9 774.9 L682.9 791.9 M680.5 774.9 L685.3 774.9 M682.9 800.3 L682.9 820.2 M680.5 820.2 L685.3 820.2 M689.2 796.8 L689.2 818.2 M686.8 796.8 L691.6 796.8 M689.2 826.6 L689.2 852.4 M686.8 852.4 L691.6 852.4 M695.5 696.0 L695.5 714.8 M693.1 696.0 L697.9 696.0 M695.5 723.2 L695.5 745.4 M693.1 745.4 L697.9 745.4 M701.7 847.4 L701.7 884.3 M699.3 847.4 L704.1 847.4 M701.7 892.7 L701.7 942.2 M699.3 942.2 L704.1 942.2 M708.0 886.2 L708.0 931.5 M705.6 886.2 L710.4 886.2 M708.0 939.9 L708.0 996.0 M705.6 996.0 L710.4 996.0 M714.2 795.6 L714.2 912.8 M711.8 795.6 L716.6 795.6 M714.2 921.2 L714.2 996.0 M711.8 996.0 L716.6 996.0 " fill="none" stroke="#1fc887" stroke-width="1.4" stroke-dasharray="4 4"/>
<path d="M102.6 752.0 L111.0 752.0 M103.9 749.0 L109.8 755.0 M106.8 747.8 L106.8 756.2 M109.8 749.0 L103.9 755.0 " stroke="#1fc887" stroke-width="1.5" fill="none"/>
<path d="M108.9 687.5 L117.3 687.5 M110.1 684.5 L116.1 690.5 M113.1 683.3 L113.1 691.7 M116.1 684.5 L110.1 690.5 " stroke="#1fc887" stroke-width="1.5" fill="none"/>
<path d="M115.2 694.7 L123.6 694.7 M116.4 691.7 L122.3 697.7 M119.4 690.5 L119.4 698.9 M122.3 691.7 L116.4 697.7 " stroke="#1fc887" stroke-width="1.5" fill="none"/>
<path d="M121.4 752.0 L129.8 752.0 M122.6 749.0 L128.6 755.0 M125.6 747.8 L125.6 756.2 M128.6 749.0 L122.6 755.0 " stroke="#1fc887" stroke-width="1.5" fill="none"/>
<path d="M127.7 777.4 L136.1 777.4 M128.9 774.4 L134.8 780.4 M131.9 773.2 L131.9 781.6 M134.8 774.4 L128.9 780.4 " stroke="#1fc887" stroke-width="1.5" fill="none"/>
<path d="M133.9 789.6 L142.3 789.6 M135.2 786.6 L141.1 792.6 M138.1 785.4 L138.1 793.8 M141.1 786.6 L135.2 792.6 " stroke="#1fc887" stroke-width="1.5" fill="none"/>
<path d="M140.2 805.9 L148.6 805.9 M141.4 802.9 L147.4 808.9 M144.4 801.7 L144.4 810.1 M147.4 802.9 L141.4 808.9 " stroke="#1fc887" stroke-width="1.5" fill="none"/>
<path d="M146.5 815.0 L154.9 815.0 M147.7 812.0 L153.6 818.0 M150.7 810.8 L150.7 819.2 M153.6 812.0 L147.7 818.0 " stroke="#1fc887" stroke-width="1.5" fill="none"/>
<path d="M152.7 815.0 L161.1 815.0 M154.0 812.0 L159.9 818.0 M156.9 810.8 L156.9 819.2 M159.9 812.0 L154.0 818.0 " stroke="#1fc887" stroke-width="1.5" fill="none"/>
<path d="M159.0 812.0 L167.4 812.0 M160.2 809.0 L166.2 815.0 M163.2 807.8 L163.2 816.2 M166.2 809.0 L160.2 815.0 " stroke="#1fc887" stroke-width="1.5" fill="none"/>
<path d="M165.3 807.9 L173.7 807.9 M166.5 804.9 L172.4 810.9 M169.5 803.7 L169.5 812.1 M172.4 804.9 L166.5 810.9 " stroke="#1fc887" stroke-width="1.5" fill="none"/>
<path d="M171.5 809.9 L179.9 809.9 M172.7 806.9 L178.7 812.9 M175.7 805.7 L175.7 814.1 M178.7 806.9 L172.7 812.9 " stroke="#1fc887" stroke-width="1.5" fill="none"/>
<path d="M177.8 805.9 L186.2 805.9 M179.0 802.9 L184.9 808.9 M182.0 801.7 L182.0 810.1 M184.9 802.9 L179.0 808.9 " stroke="#1fc887" stroke-width="1.5" fill="none"/>
<path d="M184.0 803.8 L192.4 803.8 M185.3 800.8 L191.2 806.8 M188.2 799.6 L188.2 808.0 M191.2 800.8 L185.3 806.8 " stroke="#1fc887" stroke-width="1.5" fill="none"/>
<path d="M190.3 799.7 L198.7 799.7 M191.5 796.7 L197.5 802.7 M194.5 795.5 L194.5 803.9 M197.5 796.7 L191.5 802.7 " stroke="#1fc887" stroke-width="1.5" fill="none"/>
<path d="M196.6 793.6 L205.0 793.6 M197.8 790.6 L203.7 796.6 M200.8 789.4 L200.8 797.8 M203.7 790.6 L197.8 796.6 " stroke="#1fc887" stroke-width="1.5" fill="none"/>
<path d="M202.8 795.7 L211.2 795.7 M204.1 792.7 L210.0 798.7 M207.0 791.5 L207.0 799.9 M210.0 792.7 L204.1 798.7 " stroke="#1fc887" stroke-width="1.5" fill="none"/>
<path d="M209.1 797.7 L217.5 797.7 M210.3 794.7 L216.3 800.7 M213.3 793.5 L213.3 801.9 M216.3 794.7 L210.3 800.7 " stroke="#1fc887" stroke-width="1.5" fill="none"/>
<path d="M215.3 803.8 L223.7 803.8 M216.6 800.8 L222.5 806.8 M219.5 799.6 L219.5 808.0 M222.5 800.8 L216.6 806.8 " stroke="#1fc887" stroke-width="1.5" fill="none"/>
<path d="M221.6 799.7 L230.0 799.7 M222.8 796.7 L228.8 802.7 M225.8 795.5 L225.8 803.9 M228.8 796.7 L222.8 802.7 " stroke="#1fc887" stroke-width="1.5" fill="none"/>
<path d="M227.9 801.8 L236.3 801.8 M229.1 798.8 L235.0 804.8 M232.1 797.6 L232.1 806.0 M235.0 798.8 L229.1 804.8 " stroke="#1fc887" stroke-width="1.5" fill="none"/>
<path d="M234.1 787.5 L242.5 787.5 M235.4 784.5 L241.3 790.5 M238.3 783.3 L238.3 791.7 M241.3 784.5 L235.4 790.5 " stroke="#1fc887" stroke-width="1.5" fill="none"/>
<path d="M240.4 820.1 L248.8 820.1 M241.6 817.1 L247.6 823.1 M244.6 815.9 L244.6 824.3 M247.6 817.1 L241.6 823.1 " stroke="#1fc887" stroke-width="1.5" fill="none"/>
<path d="M246.7 814.0 L255.1 814.0 M247.9 811.0 L253.8 817.0 M250.9 809.8 L250.9 818.2 M253.8 811.0 L247.9 817.0 " stroke="#1fc887" stroke-width="1.5" fill="none"/>
<path d="M252.9 826.2 L261.3 826.2 M254.1 823.2 L260.1 829.2 M257.1 822.0 L257.1 830.4 M260.1 823.2 L254.1 829.2 " stroke="#1fc887" stroke-width="1.5" fill="none"/>
<path d="M259.2 806.1 L267.6 806.1 M260.4 803.1 L266.4 809.1 M263.4 801.9 L263.4 810.3 M266.4 803.1 L260.4 809.1 " stroke="#1fc887" stroke-width="1.5" fill="none"/>
<path d="M265.4 787.3 L273.8 787.3 M266.7 784.4 L272.6 790.3 M269.6 783.1 L269.6 791.5 M272.6 784.4 L266.7 790.3 " stroke="#1fc887" stroke-width="1.5" fill="none"/>
<path d="M271.7 823.1 L280.1 823.1 M272.9 820.1 L278.9 826.1 M275.9 818.9 L275.9 827.3 M278.9 820.1 L272.9 826.1 " stroke="#1fc887" stroke-width="1.5" fill="none"/>
<path d="M278.0 808.2 L286.4 808.2 M279.2 805.3 L285.1 811.2 M282.2 804.0 L282.2 812.4 M285.1 805.3 L279.2 811.2 " stroke="#1fc887" stroke-width="1.5" fill="none"/>
<path d="M284.2 773.3 L292.6 773.3 M285.5 770.3 L291.4 776.3 M288.4 769.1 L288.4 777.5 M291.4 770.3 L285.5 776.3 " stroke="#1fc887" stroke-width="1.5" fill="none"/>
<path d="M290.5 818.7 L298.9 818.7 M291.7 815.8 L297.7 821.7 M294.7 814.5 L294.7 822.9 M297.7 815.8 L291.7 821.7 " stroke="#1fc887" stroke-width="1.5" fill="none"/>
<path d="M296.8 806.7 L305.2 806.7 M298.0 803.7 L303.9 809.7 M301.0 802.5 L301.0 810.9 M303.9 803.7 L298.0 809.7 " stroke="#1fc887" stroke-width="1.5" fill="none"/>
<path d="M303.0 804.4 L311.4 804.4 M304.2 801.5 L310.2 807.4 M307.2 800.2 L307.2 808.6 M310.2 801.5 L304.2 807.4 " stroke="#1fc887" stroke-width="1.5" fill="none"/>
<path d="M309.3 801.0 L317.7 801.0 M310.5 798.0 L316.4 804.0 M313.5 796.8 L313.5 805.2 M316.4 798.0 L310.5 804.0 " stroke="#1fc887" stroke-width="1.5" fill="none"/>
<path d="M315.5 791.4 L323.9 791.4 M316.8 788.5 L322.7 794.4 M319.7 787.2 L319.7 795.6 M322.7 788.5 L316.8 794.4 " stroke="#1fc887" stroke-width="1.5" fill="none"/>
<path d="M321.8 806.5 L330.2 806.5 M323.0 803.5 L329.0 809.5 M326.0 802.3 L326.0 810.7 M329.0 803.5 L323.0 809.5 " stroke="#1fc887" stroke-width="1.5" fill="none"/>
<path d="M328.1 820.4 L336.5 820.4 M329.3 817.4 L335.2 823.3 M332.3 816.2 L332.3 824.6 M335.2 817.4 L329.3 823.3 " stroke="#1fc887" stroke-width="1.5" fill="none"/>
<path d="M334.3 783.6 L342.7 783.6 M335.6 780.6 L341.5 786.6 M338.5 779.4 L338.5 787.8 M341.5 780.6 L335.6 786.6 " stroke="#1fc887" stroke-width="1.5" fill="none"/>
<path d="M340.6 782.8 L349.0 782.8 M341.8 779.9 L347.8 785.8 M344.8 778.6 L344.8 787.0 M347.8 779.9 L341.8 785.8 " stroke="#1fc887" stroke-width="1.5" fill="none"/>
<path d="M346.8 777.3 L355.2 777.3 M348.1 774.4 L354.0 780.3 M351.0 773.1 L351.0 781.5 M354.0 774.4 L348.1 780.3 " stroke="#1fc887" stroke-width="1.5" fill="none"/>
<path d="M353.1 802.2 L361.5 802.2 M354.3 799.3 L360.3 805.2 M357.3 798.0 L357.3 806.4 M360.3 799.3 L354.3 805.2 " stroke="#1fc887" stroke-width="1.5" fill="none"/>
<path d="M359.4 829.0 L367.8 829.0 M360.6 826.1 L366.5 832.0 M363.6 824.8 L363.6 833.2 M366.5 826.1 L360.6 832.0 " stroke="#1fc887" stroke-width="1.5" fill="none"/>
<path d="M365.6 795.0 L374.0 795.0 M366.9 792.0 L372.8 798.0 M369.8 790.8 L369.8 799.2 M372.8 792.0 L366.9 798.0 " stroke="#1fc887" stroke-width="1.5" fill="none"/>
<path d="M371.9 791.6 L380.3 791.6 M373.1 788.6 L379.1 794.6 M376.1 787.4 L376.1 795.8 M379.1 788.6 L373.1 794.6 " stroke="#1fc887" stroke-width="1.5" fill="none"/>
<path d="M378.2 771.2 L386.6 771.2 M379.4 768.2 L385.3 774.2 M382.4 767.0 L382.4 775.4 M385.3 768.2 L379.4 774.2 " stroke="#1fc887" stroke-width="1.5" fill="none"/>
<path d="M384.4 766.0 L392.8 766.0 M385.7 763.1 L391.6 769.0 M388.6 761.8 L388.6 770.2 M391.6 763.1 L385.7 769.0 " stroke="#1fc887" stroke-width="1.5" fill="none"/>
<path d="M390.7 799.1 L399.1 799.1 M391.9 796.1 L397.9 802.0 M394.9 794.9 L394.9 803.3 M397.9 796.1 L391.9 802.0 " stroke="#1fc887" stroke-width="1.5" fill="none"/>
<path d="M396.9 812.5 L405.3 812.5 M398.2 809.5 L404.1 815.4 M401.1 808.3 L401.1 816.7 M404.1 809.5 L398.2 815.4 " stroke="#1fc887" stroke-width="1.5" fill="none"/>
<path d="M403.2 807.7 L411.6 807.7 M404.4 804.8 L410.4 810.7 M407.4 803.5 L407.4 811.9 M410.4 804.8 L404.4 810.7 " stroke="#1fc887" stroke-width="1.5" fill="none"/>
<path d="M409.5 765.8 L417.9 765.8 M410.7 762.9 L416.6 768.8 M413.7 761.6 L413.7 770.0 M416.6 762.9 L410.7 768.8 " stroke="#1fc887" stroke-width="1.5" fill="none"/>
<path d="M415.7 753.9 L424.1 753.9 M417.0 751.0 L422.9 756.9 M419.9 749.7 L419.9 758.1 M422.9 751.0 L417.0 756.9 " stroke="#1fc887" stroke-width="1.5" fill="none"/>
<path d="M422.0 805.5 L430.4 805.5 M423.2 802.5 L429.2 808.5 M426.2 801.3 L426.2 809.7 M429.2 802.5 L423.2 808.5 " stroke="#1fc887" stroke-width="1.5" fill="none"/>
<path d="M428.3 801.3 L436.7 801.3 M429.5 798.3 L435.4 804.3 M432.5 797.1 L432.5 805.5 M435.4 798.3 L429.5 804.3 " stroke="#1fc887" stroke-width="1.5" fill="none"/>
<path d="M434.5 803.4 L442.9 803.4 M435.7 800.4 L441.7 806.4 M438.7 799.2 L438.7 807.6 M441.7 800.4 L435.7 806.4 " stroke="#1fc887" stroke-width="1.5" fill="none"/>
<path d="M440.8 728.7 L449.2 728.7 M442.0 725.7 L447.9 731.7 M445.0 724.5 L445.0 732.9 M447.9 725.7 L442.0 731.7 " stroke="#1fc887" stroke-width="1.5" fill="none"/>
<path d="M447.0 827.3 L455.4 827.3 M448.3 824.3 L454.2 830.3 M451.2 823.1 L451.2 831.5 M454.2 824.3 L448.3 830.3 " stroke="#1fc887" stroke-width="1.5" fill="none"/>
<path d="M453.3 819.4 L461.7 819.4 M454.5 816.4 L460.5 822.4 M457.5 815.2 L457.5 823.6 M460.5 816.4 L454.5 822.4 " stroke="#1fc887" stroke-width="1.5" fill="none"/>
<path d="M459.6 813.3 L468.0 813.3 M460.8 810.3 L466.7 816.2 M463.8 809.1 L463.8 817.5 M466.7 810.3 L460.8 816.2 " stroke="#1fc887" stroke-width="1.5" fill="none"/>
<path d="M465.8 793.1 L474.2 793.1 M467.1 790.2 L473.0 796.1 M470.0 788.9 L470.0 797.3 M473.0 790.2 L467.1 796.1 " stroke="#1fc887" stroke-width="1.5" fill="none"/>
<path d="M472.1 764.2 L480.5 764.2 M473.3 761.2 L479.3 767.2 M476.3 760.0 L476.3 768.4 M479.3 761.2 L473.3 767.2 " stroke="#1fc887" stroke-width="1.5" fill="none"/>
<path d="M478.4 797.1 L486.8 797.1 M479.6 794.2 L485.5 800.1 M482.6 792.9 L482.6 801.3 M485.5 794.2 L479.6 800.1 " stroke="#1fc887" stroke-width="1.5" fill="none"/>
<path d="M484.6 795.3 L493.0 795.3 M485.8 792.3 L491.8 798.2 M488.8 791.1 L488.8 799.5 M491.8 792.3 L485.8 798.2 " stroke="#1fc887" stroke-width="1.5" fill="none"/>
<path d="M490.9 834.8 L499.3 834.8 M492.1 831.9 L498.0 837.8 M495.1 830.6 L495.1 839.0 M498.0 831.9 L492.1 837.8 " stroke="#1fc887" stroke-width="1.5" fill="none"/>
<path d="M497.1 835.2 L505.5 835.2 M498.4 832.3 L504.3 838.2 M501.3 831.0 L501.3 839.4 M504.3 832.3 L498.4 838.2 " stroke="#1fc887" stroke-width="1.5" fill="none"/>
<path d="M503.4 789.4 L511.8 789.4 M504.6 786.4 L510.6 792.4 M507.6 785.2 L507.6 793.6 M510.6 786.4 L504.6 792.4 " stroke="#1fc887" stroke-width="1.5" fill="none"/>
<path d="M509.7 786.9 L518.1 786.9 M510.9 783.9 L516.8 789.8 M513.9 782.7 L513.9 791.1 M516.8 783.9 L510.9 789.8 " stroke="#1fc887" stroke-width="1.5" fill="none"/>
<path d="M515.9 787.4 L524.3 787.4 M517.2 784.4 L523.1 790.4 M520.1 783.2 L520.1 791.6 M523.1 784.4 L517.2 790.4 " stroke="#1fc887" stroke-width="1.5" fill="none"/>
<path d="M522.2 794.2 L530.6 794.2 M523.4 791.2 L529.4 797.1 M526.4 790.0 L526.4 798.4 M529.4 791.2 L523.4 797.1 " stroke="#1fc887" stroke-width="1.5" fill="none"/>
<path d="M528.4 801.6 L536.8 801.6 M529.7 798.6 L535.6 804.6 M532.6 797.4 L532.6 805.8 M535.6 798.6 L529.7 804.6 " stroke="#1fc887" stroke-width="1.5" fill="none"/>
<path d="M534.7 800.3 L543.1 800.3 M535.9 797.3 L541.9 803.2 M538.9 796.1 L538.9 804.5 M541.9 797.3 L535.9 803.2 " stroke="#1fc887" stroke-width="1.5" fill="none"/>
<path d="M541.0 823.7 L549.4 823.7 M542.2 820.7 L548.1 826.7 M545.2 819.5 L545.2 827.9 M548.1 820.7 L542.2 826.7 " stroke="#1fc887" stroke-width="1.5" fill="none"/>
<path d="M547.2 794.0 L555.6 794.0 M548.5 791.1 L554.4 797.0 M551.4 789.8 L551.4 798.2 M554.4 791.1 L548.5 797.0 " stroke="#1fc887" stroke-width="1.5" fill="none"/>
<path d="M553.5 783.2 L561.9 783.2 M554.7 780.3 L560.7 786.2 M557.7 779.0 L557.7 787.4 M560.7 780.3 L554.7 786.2 " stroke="#1fc887" stroke-width="1.5" fill="none"/>
<path d="M559.8 704.3 L568.2 704.3 M561.0 701.3 L566.9 707.3 M564.0 700.1 L564.0 708.5 M566.9 701.3 L561.0 707.3 " stroke="#1fc887" stroke-width="1.5" fill="none"/>
<path d="M566.0 892.2 L574.4 892.2 M567.2 889.2 L573.2 895.2 M570.2 888.0 L570.2 896.4 M573.2 889.2 L567.2 895.2 " stroke="#1fc887" stroke-width="1.5" fill="none"/>
<path d="M572.3 801.3 L580.7 801.3 M573.5 798.4 L579.5 804.3 M576.5 797.1 L576.5 805.5 M579.5 798.4 L573.5 804.3 " stroke="#1fc887" stroke-width="1.5" fill="none"/>
<path d="M578.5 827.4 L586.9 827.4 M579.8 824.4 L585.7 830.3 M582.7 823.2 L582.7 831.6 M585.7 824.4 L579.8 830.3 " stroke="#1fc887" stroke-width="1.5" fill="none"/>
<path d="M584.8 779.0 L593.2 779.0 M586.0 776.1 L592.0 782.0 M589.0 774.8 L589.0 783.2 M592.0 776.1 L586.0 782.0 " stroke="#1fc887" stroke-width="1.5" fill="none"/>
<path d="M591.1 856.9 L599.5 856.9 M592.3 853.9 L598.2 859.8 M595.3 852.7 L595.3 861.1 M598.2 853.9 L592.3 859.8 " stroke="#1fc887" stroke-width="1.5" fill="none"/>
<path d="M597.3 825.0 L605.7 825.0 M598.6 822.0 L604.5 828.0 M601.5 820.8 L601.5 829.2 M604.5 822.0 L598.6 828.0 " stroke="#1fc887" stroke-width="1.5" fill="none"/>
<path d="M603.6 916.3 L612.0 916.3 M604.8 913.3 L610.8 919.3 M607.8 912.1 L607.8 920.5 M610.8 913.3 L604.8 919.3 " stroke="#1fc887" stroke-width="1.5" fill="none"/>
<path d="M609.9 815.1 L618.3 815.1 M611.1 812.1 L617.0 818.1 M614.1 810.9 L614.1 819.3 M617.0 812.1 L611.1 818.1 " stroke="#1fc887" stroke-width="1.5" fill="none"/>
<path d="M616.1 784.6 L624.5 784.6 M617.3 781.6 L623.3 787.5 M620.3 780.4 L620.3 788.8 M623.3 781.6 L617.3 787.5 " stroke="#1fc887" stroke-width="1.5" fill="none"/>
<path d="M622.4 833.8 L630.8 833.8 M623.6 830.8 L629.5 836.8 M626.6 829.6 L626.6 838.0 M629.5 830.8 L623.6 836.8 " stroke="#1fc887" stroke-width="1.5" fill="none"/>
<path d="M628.6 853.3 L637.0 853.3 M629.9 850.3 L635.8 856.3 M632.8 849.1 L632.8 857.5 M635.8 850.3 L629.9 856.3 " stroke="#1fc887" stroke-width="1.5" fill="none"/>
<path d="M634.9 796.8 L643.3 796.8 M636.1 793.9 L642.1 799.8 M639.1 792.6 L639.1 801.0 M642.1 793.9 L636.1 799.8 " stroke="#1fc887" stroke-width="1.5" fill="none"/>
<path d="M641.2 803.5 L649.6 803.5 M642.4 800.5 L648.3 806.5 M645.4 799.3 L645.4 807.7 M648.3 800.5 L642.4 806.5 " stroke="#1fc887" stroke-width="1.5" fill="none"/>
<path d="M647.4 809.8 L655.8 809.8 M648.7 806.8 L654.6 812.8 M651.6 805.6 L651.6 814.0 M654.6 806.8 L648.7 812.8 " stroke="#1fc887" stroke-width="1.5" fill="none"/>
<path d="M653.7 795.7 L662.1 795.7 M654.9 792.7 L660.9 798.7 M657.9 791.5 L657.9 799.9 M660.9 792.7 L654.9 798.7 " stroke="#1fc887" stroke-width="1.5" fill="none"/>
<path d="M659.9 775.2 L668.3 775.2 M661.2 772.3 L667.1 778.2 M664.1 771.0 L664.1 779.4 M667.1 772.3 L661.2 778.2 " stroke="#1fc887" stroke-width="1.5" fill="none"/>
<path d="M666.2 835.4 L674.6 835.4 M667.4 832.4 L673.4 838.3 M670.4 831.2 L670.4 839.6 M673.4 832.4 L667.4 838.3 " stroke="#1fc887" stroke-width="1.5" fill="none"/>
<path d="M672.5 742.4 L680.9 742.4 M673.7 739.4 L679.6 745.3 M676.7 738.2 L676.7 746.6 M679.6 739.4 L673.7 745.3 " stroke="#1fc887" stroke-width="1.5" fill="none"/>
<path d="M678.7 796.1 L687.1 796.1 M680.0 793.1 L685.9 799.1 M682.9 791.9 L682.9 800.3 M685.9 793.1 L680.0 799.1 " stroke="#1fc887" stroke-width="1.5" fill="none"/>
<path d="M685.0 822.4 L693.4 822.4 M686.2 819.4 L692.2 825.4 M689.2 818.2 L689.2 826.6 M692.2 819.4 L686.2 825.4 " stroke="#1fc887" stroke-width="1.5" fill="none"/>
<path d="M691.3 719.0 L699.7 719.0 M692.5 716.0 L698.4 722.0 M695.5 714.8 L695.5 723.2 M698.4 716.0 L692.5 722.0 " stroke="#1fc887" stroke-width="1.5" fill="none"/>
<path d="M697.5 888.5 L705.9 888.5 M698.8 885.5 L704.7 891.5 M701.7 884.3 L701.7 892.7 M704.7 885.5 L698.8 891.5 " stroke="#1fc887" stroke-width="1.5" fill="none"/>
<path d="M703.8 935.7 L712.2 935.7 M705.0 932.7 L711.0 938.7 M708.0 931.5 L708.0 939.9 M711.0 932.7 L705.0 938.7 " stroke="#1fc887" stroke-width="1.5" fill="none"/>
<path d="M710.0 917.0 L718.4 917.0 M711.3 914.0 L717.2 920.0 M714.2 912.8 L714.2 921.2 M717.2 914.0 L711.3 920.0 " stroke="#1fc887" stroke-width="1.5" fill="none"/>
<polyline points="106.8,759.0 113.1,763.1 119.4,760.0 125.6,782.4 131.9,790.6 138.1,797.7 144.4,799.7 150.7,802.8 156.9,799.7 163.2,797.7 169.5,796.7 175.7,795.7 182.0,794.7 188.2,793.6 194.5,795.7 200.8,783.5 207.0,772.3 213.3,789.6 219.5,785.5 225.8,787.5 232.1,791.6 238.3,788.0 244.6,805.0 250.9,808.0 257.1,790.0 263.4,801.6 269.6,776.9 275.9,811.5 282.2,810.9 288.4,786.8 294.7,840.5 301.0,802.4 307.2,787.3 313.5,823.2 319.7,822.1 326.0,809.2 332.3,837.7 338.5,770.5 344.8,784.2 351.0,766.2 357.3,811.4 363.6,823.2 369.8,789.6 376.1,805.9 382.4,821.2 388.6,785.9 394.9,793.8 401.1,766.2 407.4,798.0 413.7,752.7 419.9,786.2 426.2,793.9 432.5,811.6 438.7,840.7 445.0,756.0 451.2,808.7 457.5,810.2 463.8,846.4 470.0,794.5 476.3,830.8 482.6,791.2 488.8,753.5 495.1,814.8 501.3,822.5 507.6,727.6 513.9,826.7 520.1,749.7 526.4,778.5 532.6,759.6 538.9,864.5 545.2,867.0 551.4,728.9 557.7,793.1 564.0,768.8 570.2,846.4 576.5,780.8 582.7,746.5 589.0,753.4 595.3,884.2 601.5,784.3 607.8,815.3 614.1,900.2 620.3,846.4 626.6,848.7 632.8,796.9 639.1,824.7 645.4,835.0 651.6,768.7 657.9,779.7 664.1,794.1 670.4,817.1 676.7,712.1 682.9,798.9 689.2,766.0 695.5,768.2 701.7,698.4 708.0,845.3 714.2,623.8 720.5,957.0" fill="none" stroke="#ff7f32" stroke-width="1.5" stroke-dasharray="7 4 2 4"/>
<path d="M106.8 749.0 L106.8 754.9 M104.4 749.0 L109.2 749.0 M106.8 763.1 L106.8 769.7 M104.4 769.7 L109.2 769.7 M113.1 756.2 L113.1 759.0 M110.7 756.2 L115.5 756.2 M113.1 767.2 L113.1 770.3 M110.7 770.3 L115.5 770.3 M207.0 768.2 L207.0 768.2 M204.6 768.2 L209.4 768.2 M207.0 776.4 L207.0 776.5 M204.6 776.5 L209.4 776.5 M213.3 784.9 L213.3 785.5 M210.9 784.9 L215.7 784.9 M213.3 793.7 L213.3 794.5 M210.9 794.5 L215.7 794.5 M219.5 780.4 L219.5 781.4 M217.1 780.4 L221.9 780.4 M219.5 789.6 L219.5 790.8 M217.1 790.8 L221.9 790.8 M225.8 781.9 L225.8 783.4 M223.4 781.9 L228.2 781.9 M225.8 791.6 L225.8 793.3 M223.4 793.3 L228.2 793.3 M232.1 785.4 L232.1 787.5 M229.7 785.4 L234.5 785.4 M232.1 795.7 L232.1 798.0 M229.7 798.0 L234.5 798.0 M238.3 781.4 L238.3 783.9 M235.9 781.4 L240.7 781.4 M238.3 792.1 L238.3 794.9 M235.9 794.9 L240.7 794.9 M244.6 797.9 L244.6 800.9 M242.2 797.9 L247.0 797.9 M244.6 809.1 L244.6 812.4 M242.2 812.4 L247.0 812.4 M250.9 800.5 L250.9 803.9 M248.5 800.5 L253.3 800.5 M250.9 812.1 L250.9 815.8 M248.5 815.8 L253.3 815.8 M257.1 782.2 L257.1 785.9 M254.7 782.2 L259.5 782.2 M257.1 794.1 L257.1 798.2 M254.7 798.2 L259.5 798.2 M263.4 793.4 L263.4 797.5 M261.0 793.4 L265.8 793.4 M263.4 805.7 L263.4 810.2 M261.0 810.2 L265.8 810.2 M269.6 768.7 L269.6 772.8 M267.2 768.7 L272.0 768.7 M269.6 781.0 L269.6 785.5 M267.2 785.5 L272.0 785.5 M275.9 802.5 L275.9 807.4 M273.5 802.5 L278.3 802.5 M275.9 815.6 L275.9 821.0 M273.5 821.0 L278.3 821.0 M282.2 801.2 L282.2 806.8 M279.8 801.2 L284.6 801.2 M282.2 815.0 L282.2 821.2 M279.8 821.2 L284.6 821.2 M288.4 777.2 L288.4 782.7 M286.0 777.2 L290.8 777.2 M288.4 790.9 L288.4 797.0 M286.0 797.0 L290.8 797.0 M294.7 829.5 L294.7 836.4 M292.3 829.5 L297.1 829.5 M294.7 844.6 L294.7 852.2 M292.3 852.2 L297.1 852.2 M301.0 791.7 L301.0 798.3 M298.6 791.7 L303.4 791.7 M301.0 806.5 L301.0 813.7 M298.6 813.7 L303.4 813.7 M307.2 777.0 L307.2 783.2 M304.8 777.0 L309.6 777.0 M307.2 791.4 L307.2 798.2 M304.8 798.2 L309.6 798.2 M313.5 811.5 L313.5 819.1 M311.1 811.5 L315.9 811.5 M313.5 827.3 L313.5 835.8 M311.1 835.8 L315.9 835.8 M319.7 810.2 L319.7 818.0 M317.3 810.2 L322.1 810.2 M319.7 826.2 L319.7 834.8 M317.3 834.8 L322.1 834.8 M326.0 797.3 L326.0 805.1 M323.6 797.3 L328.4 797.3 M326.0 813.3 L326.0 821.9 M323.6 821.9 L328.4 821.9 M332.3 825.4 L332.3 833.6 M329.9 825.4 L334.7 825.4 M332.3 841.8 L332.3 850.9 M329.9 850.9 L334.7 850.9 M338.5 758.8 L338.5 766.4 M336.1 758.8 L340.9 758.8 M338.5 774.6 L338.5 782.9 M336.1 782.9 L340.9 782.9 M344.8 772.1 L344.8 780.1 M342.4 772.1 L347.2 772.1 M344.8 788.3 L344.8 797.2 M342.4 797.2 L347.2 797.2 M351.0 754.2 L351.0 762.1 M348.6 754.2 L353.4 754.2 M351.0 770.3 L351.0 779.1 M348.6 779.1 L353.4 779.1 M357.3 798.3 L357.3 807.3 M354.9 798.3 L359.7 798.3 M357.3 815.5 L357.3 825.6 M354.9 825.6 L359.7 825.6 M363.6 809.6 L363.6 819.1 M361.2 809.6 L366.0 809.6 M363.6 827.3 L363.6 838.0 M361.2 838.0 L366.0 838.0 M369.8 776.5 L369.8 785.5 M367.4 776.5 L372.2 776.5 M369.8 793.7 L369.8 803.7 M367.4 803.7 L372.2 803.7 M376.1 792.4 L376.1 801.8 M373.7 792.4 L378.5 792.4 M376.1 810.0 L376.1 820.5 M373.7 820.5 L378.5 820.5 M382.4 807.0 L382.4 817.1 M380.0 807.0 L384.8 807.0 M382.4 825.3 L382.4 836.8 M380.0 836.8 L384.8 836.8 M388.6 771.6 L388.6 781.8 M386.2 771.6 L391.0 771.6 M388.6 790.0 L388.6 801.5 M386.2 801.5 L391.0 801.5 M394.9 779.3 L394.9 789.7 M392.5 779.3 L397.3 779.3 M394.9 797.9 L394.9 809.6 M392.5 809.6 L397.3 809.6 M401.1 752.5 L401.1 762.1 M398.7 752.5 L403.5 752.5 M401.1 770.3 L401.1 781.1 M398.7 781.1 L403.5 781.1 M407.4 783.1 L407.4 793.9 M405.0 783.1 L409.8 783.1 M407.4 802.1 L407.4 814.4 M405.0 814.4 L409.8 814.4 M413.7 738.9 L413.7 748.6 M411.3 738.9 L416.1 738.9 M413.7 756.8 L413.7 767.7 M411.3 767.7 L416.1 767.7 M419.9 770.3 L419.9 782.1 M417.5 770.3 L422.3 770.3 M419.9 790.3 L419.9 803.8 M417.5 803.8 L422.3 803.8 M426.2 778.0 L426.2 789.8 M423.8 778.0 L428.6 778.0 M426.2 798.0 L426.2 811.3 M423.8 811.3 L428.6 811.3 M432.5 795.2 L432.5 807.5 M430.1 795.2 L434.9 795.2 M432.5 815.7 L432.5 829.8 M430.1 829.8 L434.9 829.8 M438.7 822.9 L438.7 836.6 M436.3 822.9 L441.1 822.9 M438.7 844.8 L438.7 860.5 M436.3 860.5 L441.1 860.5 M445.0 738.6 L445.0 751.9 M442.6 738.6 L447.4 738.6 M445.0 760.1 L445.0 775.3 M442.6 775.3 L447.4 775.3 M451.2 791.5 L451.2 804.6 M448.8 791.5 L453.6 791.5 M451.2 812.8 L451.2 827.8 M448.8 827.8 L453.6 827.8 M457.5 792.1 L457.5 806.1 M455.1 792.1 L459.9 792.1 M457.5 814.3 L457.5 830.2 M455.1 830.2 L459.9 830.2 M463.8 826.7 L463.8 842.3 M461.4 826.7 L466.2 826.7 M463.8 850.5 L463.8 868.6 M461.4 868.6 L466.2 868.6 M470.0 776.0 L470.0 790.4 M467.6 776.0 L472.4 776.0 M470.0 798.6 L470.0 815.0 M467.6 815.0 L472.4 815.0 M476.3 811.0 L476.3 826.7 M473.9 811.0 L478.7 811.0 M476.3 834.9 L476.3 853.2 M473.9 853.2 L478.7 853.2 M482.6 772.4 L482.6 787.1 M480.2 772.4 L485.0 772.4 M482.6 795.3 L482.6 812.4 M480.2 812.4 L485.0 812.4 M488.8 735.0 L488.8 749.4 M486.4 735.0 L491.2 735.0 M488.8 757.6 L488.8 774.3 M486.4 774.3 L491.2 774.3 M495.1 795.8 L495.1 810.7 M492.7 795.8 L497.5 795.8 M495.1 818.9 L495.1 836.0 M492.7 836.0 L497.5 836.0 M501.3 802.9 L501.3 818.4 M498.9 802.9 L503.7 802.9 M501.3 826.6 L501.3 844.6 M498.9 844.6 L503.7 844.6 M507.6 710.0 L507.6 723.5 M505.2 710.0 L510.0 710.0 M507.6 731.7 L507.6 747.2 M505.2 747.2 L510.0 747.2 M513.9 805.4 L513.9 822.6 M511.5 805.4 L516.3 805.4 M513.9 830.8 L513.9 851.0 M511.5 851.0 L516.3 851.0 M520.1 729.3 L520.1 745.6 M517.7 729.3 L522.5 729.3 M520.1 753.8 L520.1 772.9 M517.7 772.9 L522.5 772.9 M526.4 756.6 L526.4 774.4 M524.0 756.6 L528.8 756.6 M526.4 782.6 L526.4 803.4 M524.0 803.4 L528.8 803.4 M532.6 739.3 L532.6 755.5 M530.2 739.3 L535.0 739.3 M532.6 763.7 L532.6 782.6 M530.2 782.6 L535.0 782.6 M538.9 840.0 L538.9 860.4 M536.5 840.0 L541.3 840.0 M538.9 868.6 L538.9 893.0 M536.5 893.0 L541.3 893.0 M545.2 841.9 L545.2 862.9 M542.8 841.9 L547.6 841.9 M545.2 871.1 L545.2 896.3 M542.8 896.3 L547.6 896.3 M551.4 708.1 L551.4 724.8 M549.0 708.1 L553.8 708.1 M551.4 733.0 L551.4 752.6 M549.0 752.6 L553.8 752.6 M557.7 770.8 L557.7 789.0 M555.3 770.8 L560.1 770.8 M557.7 797.2 L557.7 818.8 M555.3 818.8 L560.1 818.8 M564.0 744.1 L564.0 764.7 M561.6 744.1 L566.4 744.1 M564.0 772.9 L564.0 797.6 M561.6 797.6 L566.4 797.6 M570.2 819.1 L570.2 842.3 M567.8 819.1 L572.6 819.1 M570.2 850.5 L570.2 878.8 M567.8 878.8 L572.6 878.8 M576.5 756.6 L576.5 776.7 M574.1 756.6 L578.9 756.6 M576.5 784.9 L576.5 808.9 M574.1 808.9 L578.9 808.9 M582.7 723.8 L582.7 742.4 M580.3 723.8 L585.1 723.8 M582.7 750.6 L582.7 772.6 M580.3 772.6 L585.1 772.6 M589.0 730.2 L589.0 749.3 M586.6 730.2 L591.4 730.2 M589.0 757.5 L589.0 780.2 M586.6 780.2 L591.4 780.2 M595.3 851.6 L595.3 880.1 M592.9 851.6 L597.7 851.6 M595.3 888.3 L595.3 924.3 M592.9 924.3 L597.7 924.3 M601.5 758.9 L601.5 780.2 M599.1 758.9 L603.9 758.9 M601.5 788.4 L601.5 814.1 M599.1 814.1 L603.9 814.1 M607.8 787.8 L607.8 811.2 M605.4 787.8 L610.2 787.8 M607.8 819.4 L607.8 848.0 M605.4 848.0 L610.2 848.0 M614.1 866.8 L614.1 896.1 M611.7 866.8 L616.5 866.8 M614.1 904.3 L614.1 941.5 M611.7 941.5 L616.5 941.5 M620.3 814.5 L620.3 842.3 M617.9 814.5 L622.7 814.5 M620.3 850.5 L620.3 885.4 M617.9 885.4 L622.7 885.4 M626.6 818.6 L626.6 844.6 M624.2 818.6 L629.0 818.6 M626.6 852.8 L626.6 885.0 M624.2 885.0 L629.0 885.0 M632.8 770.9 L632.8 792.8 M630.4 770.9 L635.2 770.9 M632.8 801.0 L632.8 827.3 M630.4 827.3 L635.2 827.3 M639.1 795.8 L639.1 820.6 M636.7 795.8 L641.5 795.8 M639.1 828.8 L639.1 859.3 M636.7 859.3 L641.5 859.3 M645.4 806.9 L645.4 830.9 M643.0 806.9 L647.8 806.9 M645.4 839.1 L645.4 868.5 M643.0 868.5 L647.8 868.5 M651.6 744.3 L651.6 764.6 M649.2 744.3 L654.0 744.3 M651.6 772.8 L651.6 797.0 M649.2 797.0 L654.0 797.0 M657.9 757.2 L657.9 775.6 M655.5 757.2 L660.3 757.2 M657.9 783.8 L657.9 805.6 M655.5 805.6 L660.3 805.6 M664.1 770.4 L664.1 790.0 M661.7 770.4 L666.5 770.4 M664.1 798.2 L664.1 821.6 M661.7 821.6 L666.5 821.6 M670.4 794.8 L670.4 813.0 M668.0 794.8 L672.8 794.8 M670.4 821.2 L670.4 842.5 M668.0 842.5 L672.8 842.5 M676.7 692.1 L676.7 708.0 M674.3 692.1 L679.1 692.1 M676.7 716.2 L676.7 734.6 M674.3 734.6 L679.1 734.6 M682.9 777.5 L682.9 794.8 M680.5 777.5 L685.3 777.5 M682.9 803.0 L682.9 823.3 M680.5 823.3 L685.3 823.3 M689.2 744.0 L689.2 761.9 M686.8 744.0 L691.6 744.0 M689.2 770.1 L689.2 791.2 M686.8 791.2 L691.6 791.2 M695.5 742.0 L695.5 764.1 M693.1 742.0 L697.9 742.0 M695.5 772.3 L695.5 799.0 M693.1 799.0 L697.9 799.0 M701.7 673.4 L701.7 694.3 M699.3 673.4 L704.1 673.4 M701.7 702.5 L701.7 727.6 M699.3 727.6 L704.1 727.6 M708.0 805.9 L708.0 841.2 M705.6 805.9 L710.4 805.9 M708.0 849.4 L708.0 896.3 M705.6 896.3 L710.4 896.3 M714.2 559.8 L714.2 619.7 M711.8 559.8 L716.6 559.8 M714.2 627.9 L714.2 725.6 M711.8 725.6 L716.6 725.6 M720.5 864.1 L720.5 952.9 M718.1 864.1 L722.9 864.1 M720.5 961.1 L720.5 996.0 M718.1 996.0 L722.9 996.0 " fill="none" stroke="#ff7f32" stroke-width="1.4" stroke-dasharray="7 4 2 4"/>
<rect x="102.7" y="754.9" width="8.2" height="8.2" fill="#ff7f32"/>
<rect x="109.0" y="759.0" width="8.2" height="8.2" fill="#ff7f32"/>
<rect x="115.3" y="755.9" width="8.2" height="8.2" fill="#ff7f32"/>
<rect x="121.5" y="778.3" width="8.2" height="8.2" fill="#ff7f32"/>
<rect x="127.8" y="786.5" width="8.2" height="8.2" fill="#ff7f32"/>
<rect x="134.0" y="793.6" width="8.2" height="8.2" fill="#ff7f32"/>
<rect x="140.3" y="795.6" width="8.2" height="8.2" fill="#ff7f32"/>
<rect x="146.6" y="798.7" width="8.2" height="8.2" fill="#ff7f32"/>
<rect x="152.8" y="795.6" width="8.2" height="8.2" fill="#ff7f32"/>
<rect x="159.1" y="793.6" width="8.2" height="8.2" fill="#ff7f32"/>
<rect x="165.4" y="792.6" width="8.2" height="8.2" fill="#ff7f32"/>
<rect x="171.6" y="791.6" width="8.2" height="8.2" fill="#ff7f32"/>
<rect x="177.9" y="790.6" width="8.2" height="8.2" fill="#ff7f32"/>
<rect x="184.1" y="789.5" width="8.2" height="8.2" fill="#ff7f32"/>
<rect x="190.4" y="791.6" width="8.2" height="8.2" fill="#ff7f32"/>
<rect x="196.7" y="779.4" width="8.2" height="8.2" fill="#ff7f32"/>
<rect x="202.9" y="768.2" width="8.2" height="8.2" fill="#ff7f32"/>
<rect x="209.2" y="785.5" width="8.2" height="8.2" fill="#ff7f32"/>
<rect x="215.4" y="781.4" width="8.2" height="8.2" fill="#ff7f32"/>
<rect x="221.7" y="783.4" width="8.2" height="8.2" fill="#ff7f32"/>
<rect x="228.0" y="787.5" width="8.2" height="8.2" fill="#ff7f32"/>
<rect x="234.2" y="783.9" width="8.2" height="8.2" fill="#ff7f32"/>
<rect x="240.5" y="800.9" width="8.2" height="8.2" fill="#ff7f32"/>
<rect x="246.8" y="803.9" width="8.2" height="8.2" fill="#ff7f32"/>
<rect x="253.0" y="785.9" width="8.2" height="8.2" fill="#ff7f32"/>
<rect x="259.3" y="797.5" width="8.2" height="8.2" fill="#ff7f32"/>
<rect x="265.5" y="772.8" width="8.2" height="8.2" fill="#ff7f32"/>
<rect x="271.8" y="807.4" width="8.2" height="8.2" fill="#ff7f32"/>
<rect x="278.1" y="806.8" width="8.2" height="8.2" fill="#ff7f32"/>
<rect x="284.3" y="782.7" width="8.2" height="8.2" fill="#ff7f32"/>
<rect x="290.6" y="836.4" width="8.2" height="8.2" fill="#ff7f32"/>
<rect x="296.9" y="798.3" width="8.2" height="8.2" fill="#ff7f32"/>
<rect x="303.1" y="783.2" width="8.2" height="8.2" fill="#ff7f32"/>
<rect x="309.4" y="819.1" width="8.2" height="8.2" fill="#ff7f32"/>
<rect x="315.6" y="818.0" width="8.2" height="8.2" fill="#ff7f32"/>
<rect x="321.9" y="805.1" width="8.2" height="8.2" fill="#ff7f32"/>
<rect x="328.2" y="833.6" width="8.2" height="8.2" fill="#ff7f32"/>
<rect x="334.4" y="766.4" width="8.2" height="8.2" fill="#ff7f32"/>
<rect x="340.7" y="780.1" width="8.2" height="8.2" fill="#ff7f32"/>
<rect x="346.9" y="762.1" width="8.2" height="8.2" fill="#ff7f32"/>
<rect x="353.2" y="807.3" width="8.2" height="8.2" fill="#ff7f32"/>
<rect x="359.5" y="819.1" width="8.2" height="8.2" fill="#ff7f32"/>
<rect x="365.7" y="785.5" width="8.2" height="8.2" fill="#ff7f32"/>
<rect x="372.0" y="801.8" width="8.2" height="8.2" fill="#ff7f32"/>
<rect x="378.3" y="817.1" width="8.2" height="8.2" fill="#ff7f32"/>
<rect x="384.5" y="781.8" width="8.2" height="8.2" fill="#ff7f32"/>
<rect x="390.8" y="789.7" width="8.2" height="8.2" fill="#ff7f32"/>
<rect x="397.0" y="762.1" width="8.2" height="8.2" fill="#ff7f32"/>
<rect x="403.3" y="793.9" width="8.2" height="8.2" fill="#ff7f32"/>
<rect x="409.6" y="748.6" width="8.2" height="8.2" fill="#ff7f32"/>
<rect x="415.8" y="782.1" width="8.2" height="8.2" fill="#ff7f32"/>
<rect x="422.1" y="789.8" width="8.2" height="8.2" fill="#ff7f32"/>
<rect x="428.4" y="807.5" width="8.2" height="8.2" fill="#ff7f32"/>
<rect x="434.6" y="836.6" width="8.2" height="8.2" fill="#ff7f32"/>
<rect x="440.9" y="751.9" width="8.2" height="8.2" fill="#ff7f32"/>
<rect x="447.1" y="804.6" width="8.2" height="8.2" fill="#ff7f32"/>
<rect x="453.4" y="806.1" width="8.2" height="8.2" fill="#ff7f32"/>
<rect x="459.7" y="842.3" width="8.2" height="8.2" fill="#ff7f32"/>
<rect x="465.9" y="790.4" width="8.2" height="8.2" fill="#ff7f32"/>
<rect x="472.2" y="826.7" width="8.2" height="8.2" fill="#ff7f32"/>
<rect x="478.5" y="787.1" width="8.2" height="8.2" fill="#ff7f32"/>
<rect x="484.7" y="749.4" width="8.2" height="8.2" fill="#ff7f32"/>
<rect x="491.0" y="810.7" width="8.2" height="8.2" fill="#ff7f32"/>
<rect x="497.2" y="818.4" width="8.2" height="8.2" fill="#ff7f32"/>
<rect x="503.5" y="723.5" width="8.2" height="8.2" fill="#ff7f32"/>
<rect x="509.8" y="822.6" width="8.2" height="8.2" fill="#ff7f32"/>
<rect x="516.0" y="745.6" width="8.2" height="8.2" fill="#ff7f32"/>
<rect x="522.3" y="774.4" width="8.2" height="8.2" fill="#ff7f32"/>
<rect x="528.5" y="755.5" width="8.2" height="8.2" fill="#ff7f32"/>
<rect x="534.8" y="860.4" width="8.2" height="8.2" fill="#ff7f32"/>
<rect x="541.1" y="862.9" width="8.2" height="8.2" fill="#ff7f32"/>
<rect x="547.3" y="724.8" width="8.2" height="8.2" fill="#ff7f32"/>
<rect x="553.6" y="789.0" width="8.2" height="8.2" fill="#ff7f32"/>
<rect x="559.9" y="764.7" width="8.2" height="8.2" fill="#ff7f32"/>
<rect x="566.1" y="842.3" width="8.2" height="8.2" fill="#ff7f32"/>
<rect x="572.4" y="776.7" width="8.2" height="8.2" fill="#ff7f32"/>
<rect x="578.6" y="742.4" width="8.2" height="8.2" fill="#ff7f32"/>
<rect x="584.9" y="749.3" width="8.2" height="8.2" fill="#ff7f32"/>
<rect x="591.2" y="880.1" width="8.2" height="8.2" fill="#ff7f32"/>
<rect x="597.4" y="780.2" width="8.2" height="8.2" fill="#ff7f32"/>
<rect x="603.7" y="811.2" width="8.2" height="8.2" fill="#ff7f32"/>
<rect x="610.0" y="896.1" width="8.2" height="8.2" fill="#ff7f32"/>
<rect x="616.2" y="842.3" width="8.2" height="8.2" fill="#ff7f32"/>
<rect x="622.5" y="844.6" width="8.2" height="8.2" fill="#ff7f32"/>
<rect x="628.7" y="792.8" width="8.2" height="8.2" fill="#ff7f32"/>
<rect x="635.0" y="820.6" width="8.2" height="8.2" fill="#ff7f32"/>
<rect x="641.3" y="830.9" width="8.2" height="8.2" fill="#ff7f32"/>
<rect x="647.5" y="764.6" width="8.2" height="8.2" fill="#ff7f32"/>
<rect x="653.8" y="775.6" width="8.2" height="8.2" fill="#ff7f32"/>
<rect x="660.0" y="790.0" width="8.2" height="8.2" fill="#ff7f32"/>
<rect x="666.3" y="813.0" width="8.2" height="8.2" fill="#ff7f32"/>
<rect x="672.6" y="708.0" width="8.2" height="8.2" fill="#ff7f32"/>
<rect x="678.8" y="794.8" width="8.2" height="8.2" fill="#ff7f32"/>
<rect x="685.1" y="761.9" width="8.2" height="8.2" fill="#ff7f32"/>
<rect x="691.4" y="764.1" width="8.2" height="8.2" fill="#ff7f32"/>
<rect x="697.6" y="694.3" width="8.2" height="8.2" fill="#ff7f32"/>
<rect x="703.9" y="841.2" width="8.2" height="8.2" fill="#ff7f32"/>
<rect x="710.1" y="619.7" width="8.2" height="8.2" fill="#ff7f32"/>
<rect x="716.4" y="952.9" width="8.2" height="8.2" fill="#ff7f32"/>
<polyline points="106.8,743.8 113.1,727.5 119.4,715.3 125.6,752.9 131.9,776.9 138.1,787.9 144.4,801.8 150.7,809.9 156.9,813.0 163.2,810.9 169.5,805.9 175.7,804.8 182.0,805.9 188.2,797.7 194.5,803.8 200.8,797.7 207.0,790.6 213.3,792.6 219.5,797.7 225.8,796.7 232.1,799.7 238.3,789.6 244.6,809.9 250.9,813.0 257.1,818.1 263.4,809.1 269.6,794.4 275.9,815.9 282.2,800.0 288.4,791.5 294.7,810.0 301.0,775.3 307.2,796.4 313.5,809.7 319.7,792.7 326.0,799.5 332.3,835.8 338.5,798.3 344.8,817.0 351.0,806.1 357.3,789.0 363.6,782.4 369.8,797.9 376.1,845.5 382.4,835.4 388.6,764.7 394.9,790.0 401.1,769.2 407.4,856.7 413.7,787.4 419.9,790.9 426.2,816.0 432.5,758.5 438.7,792.5 445.0,740.2 451.2,829.0 457.5,779.7 463.8,821.4 470.0,764.3 476.3,752.7 482.6,792.7 488.8,787.8 495.1,822.4 501.3,769.5 507.6,782.6 513.9,828.5 520.1,723.0 526.4,733.3 532.6,793.8 538.9,840.0 545.2,833.9 551.4,809.5 557.7,841.1 564.0,760.0 570.2,856.7 576.5,733.0 582.7,839.5 589.0,782.9 595.3,907.1 601.5,833.5 607.8,846.4 614.1,865.9 620.3,769.7 626.6,873.9 632.8,835.0 639.1,736.2 645.4,803.8 651.6,799.4 657.9,852.1 664.1,739.6 670.4,819.9 676.7,756.1 682.9,783.8 689.2,835.0 695.5,747.6 701.7,753.4 708.0,785.3 714.2,484.0 720.5,1073.0" fill="none" stroke="#0bb00b" stroke-width="1.5" stroke-dasharray="4 4"/>
<path d="M106.8 734.2 L106.8 739.4 M104.4 734.2 L109.2 734.2 M106.8 748.2 L106.8 754.0 M104.4 754.0 L109.2 754.0 M113.1 721.3 L113.1 723.1 M110.7 721.3 L115.5 721.3 M113.1 731.9 L113.1 734.0 M110.7 734.0 L115.5 734.0 M207.0 795.0 L207.0 795.0 M204.6 795.0 L209.4 795.0 M213.3 787.8 L213.3 788.2 M210.9 787.8 L215.7 787.8 M213.3 797.0 L213.3 797.5 M210.9 797.5 L215.7 797.5 M219.5 792.4 L219.5 793.3 M217.1 792.4 L221.9 792.4 M219.5 802.1 L219.5 803.2 M217.1 803.2 L221.9 803.2 M225.8 791.0 L225.8 792.3 M223.4 791.0 L228.2 791.0 M225.8 801.1 L225.8 802.6 M223.4 802.6 L228.2 802.6 M232.1 793.4 L232.1 795.3 M229.7 793.4 L234.5 793.4 M232.1 804.1 L232.1 806.2 M229.7 806.2 L234.5 806.2 M238.3 783.0 L238.3 785.2 M235.9 783.0 L240.7 783.0 M238.3 794.0 L238.3 796.5 M235.9 796.5 L240.7 796.5 M244.6 802.7 L244.6 805.5 M242.2 802.7 L247.0 802.7 M244.6 814.3 L244.6 817.4 M242.2 817.4 L247.0 817.4 M250.9 805.4 L250.9 808.6 M248.5 805.4 L253.3 805.4 M250.9 817.4 L250.9 821.0 M248.5 821.0 L253.3 821.0 M257.1 809.7 L257.1 813.7 M254.7 809.7 L259.5 809.7 M257.1 822.5 L257.1 827.0 M254.7 827.0 L259.5 827.0 M263.4 800.8 L263.4 804.7 M261.0 800.8 L265.8 800.8 M263.4 813.5 L263.4 817.9 M261.0 817.9 L265.8 817.9 M269.6 785.8 L269.6 790.0 M267.2 785.8 L272.0 785.8 M269.6 798.8 L269.6 803.5 M267.2 803.5 L272.0 803.5 M275.9 806.7 L275.9 811.5 M273.5 806.7 L278.3 806.7 M275.9 820.3 L275.9 825.5 M273.5 825.5 L278.3 825.5 M282.2 790.6 L282.2 795.6 M279.8 790.6 L284.6 790.6 M282.2 804.4 L282.2 809.9 M279.8 809.9 L284.6 809.9 M288.4 781.7 L288.4 787.1 M286.0 781.7 L290.8 781.7 M288.4 795.9 L288.4 801.7 M286.0 801.7 L290.8 801.7 M294.7 799.9 L294.7 805.6 M292.3 799.9 L297.1 799.9 M294.7 814.4 L294.7 820.6 M292.3 820.6 L297.1 820.6 M301.0 765.4 L301.0 770.9 M298.6 765.4 L303.4 765.4 M301.0 779.7 L301.0 785.8 M298.6 785.8 L303.4 785.8 M307.2 785.8 L307.2 792.0 M304.8 785.8 L309.6 785.8 M307.2 800.8 L307.2 807.6 M304.8 807.6 L309.6 807.6 M313.5 798.4 L313.5 805.3 M311.1 798.4 L315.9 798.4 M313.5 814.1 L313.5 821.8 M311.1 821.8 L315.9 821.8 M319.7 781.8 L319.7 788.3 M317.3 781.8 L322.1 781.8 M319.7 797.1 L319.7 804.4 M317.3 804.4 L322.1 804.4 M326.0 787.9 L326.0 795.1 M323.6 787.9 L328.4 787.9 M326.0 803.9 L326.0 811.9 M323.6 811.9 L328.4 811.9 M332.3 823.6 L332.3 831.4 M329.9 823.6 L334.7 823.6 M332.3 840.2 L332.3 848.9 M329.9 848.9 L334.7 848.9 M338.5 785.7 L338.5 793.9 M336.1 785.7 L340.9 785.7 M338.5 802.7 L338.5 811.8 M336.1 811.8 L340.9 811.8 M344.8 803.8 L344.8 812.6 M342.4 803.8 L347.2 803.8 M344.8 821.4 L344.8 831.3 M342.4 831.3 L347.2 831.3 M351.0 792.7 L351.0 801.7 M348.6 792.7 L353.4 792.7 M351.0 810.5 L351.0 820.7 M348.6 820.7 L353.4 820.7 M357.3 776.6 L357.3 784.6 M354.9 776.6 L359.7 776.6 M357.3 793.4 L357.3 802.3 M354.9 802.3 L359.7 802.3 M363.6 770.2 L363.6 778.0 M361.2 770.2 L366.0 770.2 M363.6 786.8 L363.6 795.5 M361.2 795.5 L366.0 795.5 M369.8 784.5 L369.8 793.5 M367.4 784.5 L372.2 784.5 M369.8 802.3 L369.8 812.4 M367.4 812.4 L372.2 812.4 M376.1 830.5 L376.1 841.1 M373.7 830.5 L378.5 830.5 M376.1 849.9 L376.1 861.9 M373.7 861.9 L378.5 861.9 M382.4 820.6 L382.4 831.0 M380.0 820.6 L384.8 820.6 M382.4 839.8 L382.4 851.6 M380.0 851.6 L384.8 851.6 M388.6 751.2 L388.6 760.3 M386.2 751.2 L391.0 751.2 M388.6 769.1 L388.6 779.3 M386.2 779.3 L391.0 779.3 M394.9 775.7 L394.9 785.6 M392.5 775.7 L397.3 775.7 M394.9 794.4 L394.9 805.6 M392.5 805.6 L397.3 805.6 M401.1 755.4 L401.1 764.8 M398.7 755.4 L403.5 755.4 M401.1 773.6 L401.1 784.2 M398.7 784.2 L403.5 784.2 M407.4 839.2 L407.4 852.3 M405.0 839.2 L409.8 839.2 M407.4 861.1 L407.4 876.2 M405.0 876.2 L409.8 876.2 M413.7 772.3 L413.7 783.0 M411.3 772.3 L416.1 772.3 M413.7 791.8 L413.7 804.0 M411.3 804.0 L416.1 804.0 M419.9 774.8 L419.9 786.5 M417.5 774.8 L422.3 774.8 M419.9 795.3 L419.9 808.7 M417.5 808.7 L422.3 808.7 M426.2 799.2 L426.2 811.6 M423.8 799.2 L428.6 799.2 M426.2 820.4 L426.2 834.6 M423.8 834.6 L428.6 834.6 M432.5 744.3 L432.5 754.1 M430.1 744.3 L434.9 744.3 M432.5 762.9 L432.5 774.0 M430.1 774.0 L434.9 774.0 M438.7 776.9 L438.7 788.1 M436.3 776.9 L441.1 776.9 M438.7 796.9 L438.7 809.6 M436.3 809.6 L441.1 809.6 M445.0 723.5 L445.0 735.8 M442.6 723.5 L447.4 723.5 M445.0 744.6 L445.0 758.6 M442.6 758.6 L447.4 758.6 M451.2 810.8 L451.2 824.6 M448.8 810.8 L453.6 810.8 M451.2 833.4 L451.2 849.2 M448.8 849.2 L453.6 849.2 M457.5 763.1 L457.5 775.3 M455.1 763.1 L459.9 763.1 M457.5 784.1 L457.5 798.0 M455.1 798.0 L459.9 798.0 M463.8 803.0 L463.8 817.0 M461.4 803.0 L466.2 803.0 M463.8 825.8 L463.8 841.9 M461.4 841.9 L466.2 841.9 M470.0 747.3 L470.0 759.9 M467.6 747.3 L472.4 747.3 M470.0 768.7 L470.0 783.0 M467.6 783.0 L472.4 783.0 M476.3 736.6 L476.3 748.3 M473.9 736.6 L478.7 736.6 M476.3 757.1 L476.3 770.4 M473.9 770.4 L478.7 770.4 M482.6 773.7 L482.6 788.3 M480.2 773.7 L485.0 773.7 M482.6 797.1 L482.6 813.9 M480.2 813.9 L485.0 813.9 M488.8 767.5 L488.8 783.4 M486.4 767.5 L491.2 767.5 M488.8 792.2 L488.8 810.8 M486.4 810.8 L491.2 810.8 M495.1 803.0 L495.1 818.0 M492.7 803.0 L497.5 803.0 M495.1 826.8 L495.1 844.2 M492.7 844.2 L497.5 844.2 M501.3 752.5 L501.3 765.1 M498.9 752.5 L503.7 752.5 M501.3 773.9 L501.3 788.3 M498.9 788.3 L503.7 788.3 M507.6 762.2 L507.6 778.2 M505.2 762.2 L510.0 762.2 M507.6 787.0 L507.6 805.7 M505.2 805.7 L510.0 805.7 M513.9 807.1 L513.9 824.1 M511.5 807.1 L516.3 807.1 M513.9 832.9 L513.9 852.9 M511.5 852.9 L516.3 852.9 M520.1 704.0 L520.1 718.6 M517.7 704.0 L522.5 704.0 M520.1 727.4 L520.1 744.4 M517.7 744.4 L522.5 744.4 M526.4 714.0 L526.4 728.9 M524.0 714.0 L528.8 714.0 M526.4 737.7 L526.4 755.0 M524.0 755.0 L528.8 755.0 M532.6 771.5 L532.6 789.4 M530.2 771.5 L535.0 771.5 M532.6 798.2 L532.6 819.3 M530.2 819.3 L535.0 819.3 M538.9 817.1 L538.9 835.6 M536.5 817.1 L541.3 817.1 M538.9 844.4 L538.9 866.4 M536.5 866.4 L541.3 866.4 M545.2 810.9 L545.2 829.5 M542.8 810.9 L547.6 810.9 M545.2 838.3 L545.2 860.3 M542.8 860.3 L547.6 860.3 M551.4 783.7 L551.4 805.1 M549.0 783.7 L553.8 783.7 M551.4 813.9 L551.4 839.8 M549.0 839.8 L553.8 839.8 M557.7 815.7 L557.7 836.7 M555.3 815.7 L560.1 815.7 M557.7 845.5 L557.7 870.9 M555.3 870.9 L560.1 870.9 M564.0 735.8 L564.0 755.6 M561.6 735.8 L566.4 735.8 M564.0 764.4 L564.0 788.0 M561.6 788.0 L566.4 788.0 M570.2 828.6 L570.2 852.3 M567.8 828.6 L572.6 828.6 M570.2 861.1 L570.2 890.2 M567.8 890.2 L572.6 890.2 M576.5 711.7 L576.5 728.6 M574.1 711.7 L578.9 711.7 M576.5 737.4 L576.5 757.3 M574.1 757.3 L578.9 757.3 M582.7 810.4 L582.7 835.1 M580.3 810.4 L585.1 810.4 M582.7 843.9 L582.7 874.4 M580.3 874.4 L585.1 874.4 M589.0 757.7 L589.0 778.5 M586.6 757.7 L591.4 757.7 M589.0 787.3 L589.0 812.2 M586.6 812.2 L591.4 812.2 M595.3 872.5 L595.3 902.7 M592.9 872.5 L597.7 872.5 M595.3 911.5 L595.3 950.3 M592.9 950.3 L597.7 950.3 M601.5 804.6 L601.5 829.1 M599.1 804.6 L603.9 804.6 M601.5 837.9 L601.5 868.3 M599.1 868.3 L603.9 868.3 M607.8 816.5 L607.8 842.0 M605.4 816.5 L610.2 816.5 M607.8 850.8 L607.8 882.5 M605.4 882.5 L610.2 882.5 M614.1 835.4 L614.1 861.5 M611.7 835.4 L616.5 835.4 M614.1 870.3 L614.1 902.9 M611.7 902.9 L616.5 902.9 M620.3 743.7 L620.3 765.3 M617.9 743.7 L622.7 743.7 M620.3 774.1 L620.3 800.4 M617.9 800.4 L622.7 800.4 M626.6 841.8 L626.6 869.5 M624.2 841.8 L629.0 841.8 M626.6 878.3 L626.6 913.2 M624.2 913.2 L629.0 913.2 M632.8 806.3 L632.8 830.6 M630.4 806.3 L635.2 806.3 M632.8 839.4 L632.8 869.3 M630.4 869.3 L635.2 869.3 M639.1 713.4 L639.1 731.8 M636.7 713.4 L641.5 713.4 M639.1 740.6 L639.1 762.5 M636.7 762.5 L641.5 762.5 M645.4 777.9 L645.4 799.4 M643.0 777.9 L647.8 777.9 M645.4 808.2 L645.4 834.2 M643.0 834.2 L647.8 834.2 M651.6 773.0 L651.6 795.0 M649.2 773.0 L654.0 773.0 M651.6 803.8 L651.6 830.6 M649.2 830.6 L654.0 830.6 M657.9 824.8 L657.9 847.7 M655.5 824.8 L660.3 824.8 M657.9 856.5 L657.9 884.5 M655.5 884.5 L660.3 884.5 M664.1 719.1 L664.1 735.2 M661.7 719.1 L666.5 719.1 M664.1 744.0 L664.1 762.8 M661.7 762.8 L666.5 762.8 M670.4 797.5 L670.4 815.5 M668.0 797.5 L672.8 797.5 M670.4 824.3 L670.4 845.6 M668.0 845.6 L672.8 845.6 M676.7 733.6 L676.7 751.7 M674.3 733.6 L679.1 733.6 M676.7 760.5 L676.7 781.9 M674.3 781.9 L679.1 781.9 M682.9 763.2 L682.9 779.4 M680.5 763.2 L685.3 763.2 M682.9 788.2 L682.9 807.0 M680.5 807.0 L685.3 807.0 M689.2 808.6 L689.2 830.6 M686.8 808.6 L691.6 808.6 M689.2 839.4 L689.2 866.2 M686.8 866.2 L691.6 866.2 M695.5 722.8 L695.5 743.2 M693.1 722.8 L697.9 722.8 M695.5 752.0 L695.5 776.5 M693.1 776.5 L697.9 776.5 M701.7 724.5 L701.7 749.0 M699.3 724.5 L704.1 724.5 M701.7 757.8 L701.7 788.1 M699.3 788.1 L704.1 788.1 M708.0 751.5 L708.0 780.9 M705.6 751.5 L710.4 751.5 M708.0 789.7 L708.0 827.2 M705.6 827.2 L710.4 827.2 M714.2 438.6 L714.2 479.6 M711.8 438.6 L716.6 438.6 M714.2 488.4 L714.2 545.4 M711.8 545.4 L716.6 545.4 M720.5 951.6 L720.5 1068.6 M718.1 951.6 L722.9 951.6 M720.5 1077.4 L720.5 996.0 M718.1 996.0 L722.9 996.0 " fill="none" stroke="#0bb00b" stroke-width="1.4" stroke-dasharray="4 4"/>
<path d="M102.4 739.8 L111.2 739.8 L106.8 748.4 Z" fill="#0bb00b"/>
<path d="M108.7 723.5 L117.5 723.5 L113.1 732.1 Z" fill="#0bb00b"/>
<path d="M115.0 711.3 L123.8 711.3 L119.4 719.9 Z" fill="#0bb00b"/>
<path d="M121.2 748.9 L130.0 748.9 L125.6 757.5 Z" fill="#0bb00b"/>
<path d="M127.5 772.9 L136.3 772.9 L131.9 781.5 Z" fill="#0bb00b"/>
<path d="M133.7 783.9 L142.5 783.9 L138.1 792.5 Z" fill="#0bb00b"/>
<path d="M140.0 797.8 L148.8 797.8 L144.4 806.4 Z" fill="#0bb00b"/>
<path d="M146.3 805.9 L155.1 805.9 L150.7 814.5 Z" fill="#0bb00b"/>
<path d="M152.5 809.0 L161.3 809.0 L156.9 817.6 Z" fill="#0bb00b"/>
<path d="M158.8 806.9 L167.6 806.9 L163.2 815.5 Z" fill="#0bb00b"/>
<path d="M165.1 801.9 L173.9 801.9 L169.5 810.5 Z" fill="#0bb00b"/>
<path d="M171.3 800.8 L180.1 800.8 L175.7 809.4 Z" fill="#0bb00b"/>
<path d="M177.6 801.9 L186.4 801.9 L182.0 810.5 Z" fill="#0bb00b"/>
<path d="M183.8 793.7 L192.6 793.7 L188.2 802.3 Z" fill="#0bb00b"/>
<path d="M190.1 799.8 L198.9 799.8 L194.5 808.4 Z" fill="#0bb00b"/>
<path d="M196.4 793.7 L205.2 793.7 L200.8 802.3 Z" fill="#0bb00b"/>
<path d="M202.6 786.6 L211.4 786.6 L207.0 795.2 Z" fill="#0bb00b"/>
<path d="M208.9 788.6 L217.7 788.6 L213.3 797.2 Z" fill="#0bb00b"/>
<path d="M215.1 793.7 L223.9 793.7 L219.5 802.3 Z" fill="#0bb00b"/>
<path d="M221.4 792.7 L230.2 792.7 L225.8 801.3 Z" fill="#0bb00b"/>
<path d="M227.7 795.7 L236.5 795.7 L232.1 804.3 Z" fill="#0bb00b"/>
<path d="M233.9 785.6 L242.7 785.6 L238.3 794.2 Z" fill="#0bb00b"/>
<path d="M240.2 805.9 L249.0 805.9 L244.6 814.5 Z" fill="#0bb00b"/>
<path d="M246.5 809.0 L255.3 809.0 L250.9 817.6 Z" fill="#0bb00b"/>
<path d="M252.7 814.1 L261.5 814.1 L257.1 822.7 Z" fill="#0bb00b"/>
<path d="M259.0 805.1 L267.8 805.1 L263.4 813.7 Z" fill="#0bb00b"/>
<path d="M265.2 790.4 L274.0 790.4 L269.6 799.0 Z" fill="#0bb00b"/>
<path d="M271.5 811.9 L280.3 811.9 L275.9 820.5 Z" fill="#0bb00b"/>
<path d="M277.8 796.0 L286.6 796.0 L282.2 804.6 Z" fill="#0bb00b"/>
<path d="M284.0 787.5 L292.8 787.5 L288.4 796.1 Z" fill="#0bb00b"/>
<path d="M290.3 806.0 L299.1 806.0 L294.7 814.6 Z" fill="#0bb00b"/>
<path d="M296.6 771.3 L305.4 771.3 L301.0 779.9 Z" fill="#0bb00b"/>
<path d="M302.8 792.4 L311.6 792.4 L307.2 801.0 Z" fill="#0bb00b"/>
<path d="M309.1 805.7 L317.9 805.7 L313.5 814.3 Z" fill="#0bb00b"/>
<path d="M315.3 788.7 L324.1 788.7 L319.7 797.3 Z" fill="#0bb00b"/>
<path d="M321.6 795.5 L330.4 795.5 L326.0 804.1 Z" fill="#0bb00b"/>
<path d="M327.9 831.8 L336.7 831.8 L332.3 840.4 Z" fill="#0bb00b"/>
<path d="M334.1 794.3 L342.9 794.3 L338.5 802.9 Z" fill="#0bb00b"/>
<path d="M340.4 813.0 L349.2 813.0 L344.8 821.6 Z" fill="#0bb00b"/>
<path d="M346.6 802.1 L355.4 802.1 L351.0 810.7 Z" fill="#0bb00b"/>
<path d="M352.9 785.0 L361.7 785.0 L357.3 793.6 Z" fill="#0bb00b"/>
<path d="M359.2 778.4 L368.0 778.4 L363.6 787.0 Z" fill="#0bb00b"/>
<path d="M365.4 793.9 L374.2 793.9 L369.8 802.5 Z" fill="#0bb00b"/>
<path d="M371.7 841.5 L380.5 841.5 L376.1 850.1 Z" fill="#0bb00b"/>
<path d="M378.0 831.4 L386.8 831.4 L382.4 840.0 Z" fill="#0bb00b"/>
<path d="M384.2 760.7 L393.0 760.7 L388.6 769.3 Z" fill="#0bb00b"/>
<path d="M390.5 786.0 L399.3 786.0 L394.9 794.6 Z" fill="#0bb00b"/>
<path d="M396.7 765.2 L405.5 765.2 L401.1 773.8 Z" fill="#0bb00b"/>
<path d="M403.0 852.7 L411.8 852.7 L407.4 861.3 Z" fill="#0bb00b"/>
<path d="M409.3 783.4 L418.1 783.4 L413.7 792.0 Z" fill="#0bb00b"/>
<path d="M415.5 786.9 L424.3 786.9 L419.9 795.5 Z" fill="#0bb00b"/>
<path d="M421.8 812.0 L430.6 812.0 L426.2 820.6 Z" fill="#0bb00b"/>
<path d="M428.1 754.5 L436.9 754.5 L432.5 763.1 Z" fill="#0bb00b"/>
<path d="M434.3 788.5 L443.1 788.5 L438.7 797.1 Z" fill="#0bb00b"/>
<path d="M440.6 736.2 L449.4 736.2 L445.0 744.8 Z" fill="#0bb00b"/>
<path d="M446.8 825.0 L455.6 825.0 L451.2 833.6 Z" fill="#0bb00b"/>
<path d="M453.1 775.7 L461.9 775.7 L457.5 784.3 Z" fill="#0bb00b"/>
<path d="M459.4 817.4 L468.2 817.4 L463.8 826.0 Z" fill="#0bb00b"/>
<path d="M465.6 760.3 L474.4 760.3 L470.0 768.9 Z" fill="#0bb00b"/>
<path d="M471.9 748.7 L480.7 748.7 L476.3 757.3 Z" fill="#0bb00b"/>
<path d="M478.2 788.7 L487.0 788.7 L482.6 797.3 Z" fill="#0bb00b"/>
<path d="M484.4 783.8 L493.2 783.8 L488.8 792.4 Z" fill="#0bb00b"/>
<path d="M490.7 818.4 L499.5 818.4 L495.1 827.0 Z" fill="#0bb00b"/>
<path d="M496.9 765.5 L505.7 765.5 L501.3 774.1 Z" fill="#0bb00b"/>
<path d="M503.2 778.6 L512.0 778.6 L507.6 787.2 Z" fill="#0bb00b"/>
<path d="M509.5 824.5 L518.3 824.5 L513.9 833.1 Z" fill="#0bb00b"/>
<path d="M515.7 719.0 L524.5 719.0 L520.1 727.6 Z" fill="#0bb00b"/>
<path d="M522.0 729.3 L530.8 729.3 L526.4 737.9 Z" fill="#0bb00b"/>
<path d="M528.2 789.8 L537.0 789.8 L532.6 798.4 Z" fill="#0bb00b"/>
<path d="M534.5 836.0 L543.3 836.0 L538.9 844.6 Z" fill="#0bb00b"/>
<path d="M540.8 829.9 L549.6 829.9 L545.2 838.5 Z" fill="#0bb00b"/>
<path d="M547.0 805.5 L555.8 805.5 L551.4 814.1 Z" fill="#0bb00b"/>
<path d="M553.3 837.1 L562.1 837.1 L557.7 845.7 Z" fill="#0bb00b"/>
<path d="M559.6 756.0 L568.4 756.0 L564.0 764.6 Z" fill="#0bb00b"/>
<path d="M565.8 852.7 L574.6 852.7 L570.2 861.3 Z" fill="#0bb00b"/>
<path d="M572.1 729.0 L580.9 729.0 L576.5 737.6 Z" fill="#0bb00b"/>
<path d="M578.3 835.5 L587.1 835.5 L582.7 844.1 Z" fill="#0bb00b"/>
<path d="M584.6 778.9 L593.4 778.9 L589.0 787.5 Z" fill="#0bb00b"/>
<path d="M590.9 903.1 L599.7 903.1 L595.3 911.7 Z" fill="#0bb00b"/>
<path d="M597.1 829.5 L605.9 829.5 L601.5 838.1 Z" fill="#0bb00b"/>
<path d="M603.4 842.4 L612.2 842.4 L607.8 851.0 Z" fill="#0bb00b"/>
<path d="M609.7 861.9 L618.5 861.9 L614.1 870.5 Z" fill="#0bb00b"/>
<path d="M615.9 765.7 L624.7 765.7 L620.3 774.3 Z" fill="#0bb00b"/>
<path d="M622.2 869.9 L631.0 869.9 L626.6 878.5 Z" fill="#0bb00b"/>
<path d="M628.4 831.0 L637.2 831.0 L632.8 839.6 Z" fill="#0bb00b"/>
<path d="M634.7 732.2 L643.5 732.2 L639.1 740.8 Z" fill="#0bb00b"/>
<path d="M641.0 799.8 L649.8 799.8 L645.4 808.4 Z" fill="#0bb00b"/>
<path d="M647.2 795.4 L656.0 795.4 L651.6 804.0 Z" fill="#0bb00b"/>
<path d="M653.5 848.1 L662.3 848.1 L657.9 856.7 Z" fill="#0bb00b"/>
<path d="M659.7 735.6 L668.5 735.6 L664.1 744.2 Z" fill="#0bb00b"/>
<path d="M666.0 815.9 L674.8 815.9 L670.4 824.5 Z" fill="#0bb00b"/>
<path d="M672.3 752.1 L681.1 752.1 L676.7 760.7 Z" fill="#0bb00b"/>
<path d="M678.5 779.8 L687.3 779.8 L682.9 788.4 Z" fill="#0bb00b"/>
<path d="M684.8 831.0 L693.6 831.0 L689.2 839.6 Z" fill="#0bb00b"/>
<path d="M691.1 743.6 L699.9 743.6 L695.5 752.2 Z" fill="#0bb00b"/>
<path d="M697.3 749.4 L706.1 749.4 L701.7 758.0 Z" fill="#0bb00b"/>
<path d="M703.6 781.3 L712.4 781.3 L708.0 789.9 Z" fill="#0bb00b"/>
<path d="M709.8 480.0 L718.6 480.0 L714.2 488.6 Z" fill="#0bb00b"/>
<path d="M716.1 1069.0 L724.9 1069.0 L720.5 1077.6 Z" fill="#0bb00b"/>
<polyline points="106.8,761.1 113.1,869.7 119.4,944.7 125.6,917.5 131.9,880.0 138.1,833.7 144.4,800.5 150.7,782.6 156.9,763.5 163.2,757.4 169.5,750.6 175.7,749.6 182.0,751.9 188.2,760.1 194.5,764.1 200.8,756.8 207.0,760.4 213.3,770.5 219.5,771.8 225.8,779.0 232.1,790.0 238.3,783.4 244.6,808.3 250.9,813.2 257.1,789.2 263.4,810.9 269.6,796.7 275.9,829.3 282.2,803.8 288.4,787.1 294.7,818.1 301.0,786.5 307.2,800.8 313.5,798.7 319.7,806.9 326.0,799.3 332.3,847.0 338.5,778.4 344.8,793.6 351.0,778.4 357.3,814.0 363.6,825.2 369.8,802.8 376.1,824.2 382.4,826.2 388.6,772.3 394.9,791.6 401.1,786.5 407.4,799.0 413.7,784.8 419.9,765.8 426.2,799.7 432.5,820.3 438.7,834.0 445.0,770.4 451.2,822.1 457.5,803.1 463.8,818.7 470.0,779.1 476.3,806.6 482.6,780.2 488.8,736.3 495.1,844.1 501.3,847.6 507.6,760.8 513.9,825.3 520.1,727.6 526.4,752.7 532.6,782.5 538.9,862.4 545.2,863.6 551.4,753.9 557.7,835.2 564.0,739.0 570.2,828.2 576.5,809.0 582.7,805.6 589.0,816.6 595.3,834.3 601.5,820.8 607.8,817.1 614.1,832.7 620.3,756.1 626.6,791.1 632.8,790.5 639.1,764.8 645.4,800.4 651.6,767.8 657.9,816.6 664.1,770.1 670.4,827.6 676.7,693.1 682.9,822.4 689.2,802.9 695.5,779.0 701.7,882.4 708.0,857.9 714.2,586.0 720.5,975.0" fill="none" stroke="#404040" stroke-width="1.7"/>
<path d="M106.8 751.0 L106.8 756.4 M104.4 751.0 L109.2 751.0 M106.8 765.8 L106.8 771.8 M104.4 771.8 L109.2 771.8 M113.1 860.4 L113.1 865.0 M110.7 860.4 L115.5 860.4 M113.1 874.4 L113.1 879.5 M110.7 879.5 L115.5 879.5 M119.4 939.2 L119.4 940.0 M117.0 939.2 L121.8 939.2 M119.4 949.4 L119.4 950.4 M117.0 950.4 L121.8 950.4 M219.5 766.9 L219.5 767.1 M217.1 766.9 L221.9 766.9 M219.5 776.5 L219.5 776.9 M217.1 776.9 L221.9 776.9 M225.8 773.5 L225.8 774.3 M223.4 773.5 L228.2 773.5 M225.8 783.7 L225.8 784.6 M223.4 784.6 L228.2 784.6 M232.1 783.9 L232.1 785.3 M229.7 783.9 L234.5 783.9 M232.1 794.7 L232.1 796.4 M229.7 796.4 L234.5 796.4 M238.3 776.9 L238.3 778.7 M235.9 776.9 L240.7 776.9 M238.3 788.1 L238.3 790.2 M235.9 790.2 L240.7 790.2 M244.6 801.1 L244.6 803.6 M242.2 801.1 L247.0 801.1 M244.6 813.0 L244.6 815.8 M242.2 815.8 L247.0 815.8 M250.9 805.6 L250.9 808.5 M248.5 805.6 L253.3 805.6 M250.9 817.9 L250.9 821.2 M248.5 821.2 L253.3 821.2 M257.1 781.4 L257.1 784.5 M254.7 781.4 L259.5 781.4 M257.1 793.9 L257.1 797.3 M254.7 797.3 L259.5 797.3 M263.4 802.5 L263.4 806.2 M261.0 802.5 L265.8 802.5 M263.4 815.6 L263.4 819.7 M261.0 819.7 L265.8 819.7 M269.6 788.0 L269.6 792.0 M267.2 788.0 L272.0 788.0 M269.6 801.4 L269.6 805.8 M267.2 805.8 L272.0 805.8 M275.9 819.8 L275.9 824.6 M273.5 819.8 L278.3 819.8 M275.9 834.0 L275.9 839.3 M273.5 839.3 L278.3 839.3 M282.2 794.3 L282.2 799.1 M279.8 794.3 L284.6 794.3 M282.2 808.5 L282.2 813.8 M279.8 813.8 L284.6 813.8 M288.4 777.5 L288.4 782.4 M286.0 777.5 L290.8 777.5 M288.4 791.8 L288.4 797.3 M286.0 797.3 L290.8 797.3 M294.7 807.8 L294.7 813.4 M292.3 807.8 L297.1 807.8 M294.7 822.8 L294.7 829.0 M292.3 829.0 L297.1 829.0 M301.0 776.3 L301.0 781.8 M298.6 776.3 L303.4 776.3 M301.0 791.2 L301.0 797.3 M298.6 797.3 L303.4 797.3 M307.2 790.1 L307.2 796.1 M304.8 790.1 L309.6 790.1 M307.2 805.5 L307.2 812.2 M304.8 812.2 L309.6 812.2 M313.5 787.7 L313.5 794.0 M311.1 787.7 L315.9 787.7 M313.5 803.4 L313.5 810.4 M311.1 810.4 L315.9 810.4 M319.7 795.5 L319.7 802.2 M317.3 795.5 L322.1 795.5 M319.7 811.6 L319.7 819.1 M317.3 819.1 L322.1 819.1 M326.0 787.7 L326.0 794.6 M323.6 787.7 L328.4 787.7 M326.0 804.0 L326.0 811.7 M323.6 811.7 L328.4 811.7 M332.3 834.4 L332.3 842.3 M329.9 834.4 L334.7 834.4 M332.3 851.7 L332.3 860.6 M329.9 860.6 L334.7 860.6 M338.5 766.5 L338.5 773.7 M336.1 766.5 L340.9 766.5 M338.5 783.1 L338.5 791.1 M336.1 791.1 L340.9 791.1 M344.8 781.2 L344.8 788.9 M342.4 781.2 L347.2 781.2 M344.8 798.3 L344.8 807.0 M342.4 807.0 L347.2 807.0 M351.0 766.0 L351.0 773.7 M348.6 766.0 L353.4 766.0 M351.0 783.1 L351.0 791.8 M348.6 791.8 L353.4 791.8 M357.3 800.8 L357.3 809.3 M354.9 800.8 L359.7 800.8 M357.3 818.7 L357.3 828.3 M354.9 828.3 L359.7 828.3 M363.6 811.5 L363.6 820.5 M361.2 811.5 L366.0 811.5 M363.6 829.9 L363.6 840.0 M361.2 840.0 L366.0 840.0 M369.8 789.2 L369.8 798.1 M367.4 789.2 L372.2 789.2 M369.8 807.5 L369.8 817.5 M367.4 817.5 L372.2 817.5 M376.1 810.0 L376.1 819.5 M373.7 810.0 L378.5 810.0 M376.1 828.9 L376.1 839.6 M373.7 839.6 L378.5 839.6 M382.4 811.7 L382.4 821.5 M380.0 811.7 L384.8 811.7 M382.4 830.9 L382.4 842.0 M380.0 842.0 L384.8 842.0 M388.6 758.5 L388.6 767.6 M386.2 758.5 L391.0 758.5 M388.6 777.0 L388.6 787.3 M386.2 787.3 L391.0 787.3 M394.9 777.2 L394.9 786.9 M392.5 777.2 L397.3 777.2 M394.9 796.3 L394.9 807.3 M392.5 807.3 L397.3 807.3 M401.1 772.0 L401.1 781.8 M398.7 772.0 L403.5 772.0 M401.1 791.2 L401.1 802.3 M398.7 802.3 L403.5 802.3 M407.4 784.0 L407.4 794.3 M405.0 784.0 L409.8 784.0 M407.4 803.7 L407.4 815.4 M405.0 815.4 L409.8 815.4 M413.7 769.7 L413.7 780.1 M411.3 769.7 L416.1 769.7 M413.7 789.5 L413.7 801.3 M411.3 801.3 L416.1 801.3 M419.9 750.7 L419.9 761.1 M417.5 750.7 L422.3 750.7 M419.9 770.5 L419.9 782.3 M417.5 782.3 L422.3 782.3 M426.2 783.6 L426.2 795.0 M423.8 783.6 L428.6 783.6 M426.2 804.4 L426.2 817.4 M423.8 817.4 L428.6 817.4 M432.5 803.5 L432.5 815.6 M430.1 803.5 L434.9 803.5 M432.5 825.0 L432.5 838.9 M430.1 838.9 L434.9 838.9 M438.7 816.5 L438.7 829.3 M436.3 816.5 L441.1 816.5 M438.7 838.7 L438.7 853.4 M436.3 853.4 L441.1 853.4 M445.0 752.3 L445.0 765.7 M442.6 752.3 L447.4 752.3 M445.0 775.1 L445.0 790.6 M442.6 790.6 L447.4 790.6 M451.2 804.3 L451.2 817.4 M448.8 804.3 L453.6 804.3 M451.2 826.8 L451.2 842.0 M448.8 842.0 L453.6 842.0 M457.5 785.4 L457.5 798.4 M455.1 785.4 L459.9 785.4 M457.5 807.8 L457.5 822.8 M455.1 822.8 L459.9 822.8 M463.8 800.4 L463.8 814.0 M461.4 800.4 L466.2 800.4 M463.8 823.4 L463.8 839.1 M461.4 839.1 L466.2 839.1 M470.0 761.4 L470.0 774.4 M467.6 761.4 L472.4 761.4 M470.0 783.8 L470.0 798.7 M467.6 798.7 L472.4 798.7 M476.3 788.0 L476.3 801.9 M473.9 788.0 L478.7 788.0 M476.3 811.3 L476.3 827.4 M473.9 827.4 L478.7 827.4 M482.6 761.9 L482.6 775.5 M480.2 761.9 L485.0 761.9 M482.6 784.9 L482.6 800.7 M480.2 800.7 L485.0 800.7 M488.8 718.6 L488.8 731.6 M486.4 718.6 L491.2 718.6 M488.8 741.0 L488.8 756.0 M486.4 756.0 L491.2 756.0 M495.1 823.6 L495.1 839.4 M492.7 823.6 L497.5 823.6 M495.1 848.8 L495.1 867.4 M492.7 867.4 L497.5 867.4 M501.3 826.6 L501.3 842.9 M498.9 826.6 L503.7 826.6 M501.3 852.3 L501.3 871.5 M498.9 871.5 L503.7 871.5 M507.6 741.6 L507.6 756.1 M505.2 741.6 L510.0 741.6 M507.6 765.5 L507.6 782.4 M505.2 782.4 L510.0 782.4 M513.9 804.1 L513.9 820.6 M511.5 804.1 L516.3 804.1 M513.9 830.0 L513.9 849.4 M511.5 849.4 L516.3 849.4 M520.1 708.3 L520.1 722.9 M517.7 708.3 L522.5 708.3 M520.1 732.3 L520.1 749.3 M517.7 749.3 L522.5 749.3 M526.4 732.3 L526.4 748.0 M524.0 732.3 L528.8 732.3 M526.4 757.4 L526.4 775.7 M524.0 775.7 L528.8 775.7 M532.6 760.9 L532.6 777.8 M530.2 760.9 L535.0 760.9 M532.6 787.2 L532.6 807.2 M530.2 807.2 L535.0 807.2 M538.9 838.0 L538.9 857.7 M536.5 838.0 L541.3 838.0 M538.9 867.1 L538.9 890.7 M536.5 890.7 L541.3 890.7 M545.2 838.7 L545.2 858.9 M542.8 838.7 L547.6 838.7 M545.2 868.3 L545.2 892.6 M542.8 892.6 L547.6 892.6 M551.4 731.7 L551.4 749.2 M549.0 731.7 L553.8 731.7 M551.4 758.6 L551.4 779.4 M549.0 779.4 L553.8 779.4 M557.7 810.2 L557.7 830.5 M555.3 810.2 L560.1 810.2 M557.7 839.9 L557.7 864.4 M555.3 864.4 L560.1 864.4 M564.0 716.2 L564.0 734.3 M561.6 716.2 L566.4 716.2 M564.0 743.7 L564.0 765.3 M561.6 765.3 L566.4 765.3 M570.2 802.1 L570.2 823.5 M567.8 802.1 L572.6 802.1 M570.2 832.9 L570.2 858.8 M567.8 858.8 L572.6 858.8 M576.5 782.9 L576.5 804.3 M574.1 782.9 L578.9 782.9 M576.5 813.7 L576.5 839.7 M574.1 839.7 L578.9 839.7 M582.7 779.0 L582.7 800.9 M580.3 779.0 L585.1 779.0 M582.7 810.3 L582.7 836.9 M580.3 836.9 L585.1 836.9 M589.0 789.1 L589.0 811.9 M586.6 789.1 L591.4 789.1 M589.0 821.3 L589.0 849.2 M586.6 849.2 L591.4 849.2 M595.3 805.7 L595.3 829.6 M592.9 805.7 L597.7 805.7 M595.3 839.0 L595.3 868.6 M592.9 868.6 L597.7 868.6 M601.5 792.8 L601.5 816.1 M599.1 792.8 L603.9 792.8 M601.5 825.5 L601.5 854.2 M599.1 854.2 L603.9 854.2 M607.8 789.4 L607.8 812.4 M605.4 789.4 L610.2 789.4 M607.8 821.8 L607.8 850.0 M605.4 850.0 L610.2 850.0 M614.1 804.7 L614.1 828.0 M611.7 804.7 L616.5 804.7 M614.1 837.4 L614.1 866.0 M611.7 866.0 L616.5 866.0 M620.3 731.0 L620.3 751.4 M617.9 731.0 L622.7 731.0 M620.3 760.8 L620.3 785.5 M617.9 785.5 L622.7 785.5 M626.6 765.3 L626.6 786.4 M624.2 765.3 L629.0 765.3 M626.6 795.8 L626.6 821.4 M624.2 821.4 L629.0 821.4 M632.8 765.0 L632.8 785.8 M630.4 765.0 L635.2 765.0 M632.8 795.2 L632.8 820.3 M630.4 820.3 L635.2 820.3 M639.1 740.1 L639.1 760.1 M636.7 740.1 L641.5 740.1 M639.1 769.5 L639.1 793.5 M636.7 793.5 L641.5 793.5 M645.4 774.7 L645.4 795.7 M643.0 774.7 L647.8 774.7 M645.4 805.1 L645.4 830.5 M643.0 830.5 L647.8 830.5 M651.6 743.5 L651.6 763.1 M649.2 743.5 L654.0 743.5 M651.6 772.5 L651.6 796.0 M649.2 796.0 L654.0 796.0 M657.9 791.7 L657.9 811.9 M655.5 791.7 L660.3 791.7 M657.9 821.3 L657.9 845.6 M655.5 845.6 L660.3 845.6 M664.1 747.9 L664.1 765.4 M661.7 747.9 L666.5 747.9 M664.1 774.8 L664.1 795.6 M661.7 795.6 L666.5 795.6 M670.4 804.8 L670.4 822.9 M668.0 804.8 L672.8 804.8 M670.4 832.3 L670.4 853.9 M668.0 853.9 L672.8 853.9 M676.7 674.1 L676.7 688.4 M674.3 674.1 L679.1 674.1 M676.7 697.8 L676.7 714.4 M674.3 714.4 L679.1 714.4 M682.9 799.6 L682.9 817.7 M680.5 799.6 L685.3 799.6 M682.9 827.1 L682.9 848.6 M680.5 848.6 L685.3 848.6 M689.2 778.6 L689.2 798.2 M686.8 778.6 L691.6 778.6 M689.2 807.6 L689.2 831.1 M686.8 831.1 L691.6 831.1 M695.5 752.1 L695.5 774.3 M693.1 752.1 L697.9 752.1 M695.5 783.7 L695.5 810.9 M693.1 810.9 L697.9 810.9 M701.7 842.0 L701.7 877.7 M699.3 842.0 L704.1 842.0 M701.7 887.1 L701.7 935.1 M699.3 935.1 L704.1 935.1 M708.0 817.2 L708.0 853.2 M705.6 817.2 L710.4 817.2 M708.0 862.6 L708.0 911.0 M705.6 911.0 L710.4 911.0 M714.2 527.6 L714.2 581.3 M711.8 527.6 L716.6 527.6 M714.2 590.7 L714.2 674.2 M711.8 674.2 L716.6 674.2 M720.5 878.3 L720.5 970.3 M718.1 878.3 L722.9 878.3 M720.5 979.7 L720.5 996.0 M718.1 996.0 L722.9 996.0 " fill="none" stroke="#404040" stroke-width="1.4"/>
<circle cx="106.8" cy="761.1" r="4.0" fill="none" stroke="#404040" stroke-width="1.6"/>
<circle cx="113.1" cy="869.7" r="4.0" fill="none" stroke="#404040" stroke-width="1.6"/>
<circle cx="119.4" cy="944.7" r="4.0" fill="none" stroke="#404040" stroke-width="1.6"/>
<circle cx="125.6" cy="917.5" r="4.0" fill="none" stroke="#404040" stroke-width="1.6"/>
<circle cx="131.9" cy="880.0" r="4.0" fill="none" stroke="#404040" stroke-width="1.6"/>
<circle cx="138.1" cy="833.7" r="4.0" fill="none" stroke="#404040" stroke-width="1.6"/>
<circle cx="144.4" cy="800.5" r="4.0" fill="none" stroke="#404040" stroke-width="1.6"/>
<circle cx="150.7" cy="782.6" r="4.0" fill="none" stroke="#404040" stroke-width="1.6"/>
<circle cx="156.9" cy="763.5" r="4.0" fill="none" stroke="#404040" stroke-width="1.6"/>
<circle cx="163.2" cy="757.4" r="4.0" fill="none" stroke="#404040" stroke-width="1.6"/>
<circle cx="169.5" cy="750.6" r="4.0" fill="none" stroke="#404040" stroke-width="1.6"/>
<circle cx="175.7" cy="749.6" r="4.0" fill="none" stroke="#404040" stroke-width="1.6"/>
<circle cx="182.0" cy="751.9" r="4.0" fill="none" stroke="#404040" stroke-width="1.6"/>
<circle cx="188.2" cy="760.1" r="4.0" fill="none" stroke="#404040" stroke-width="1.6"/>
<circle cx="194.5" cy="764.1" r="4.0" fill="none" stroke="#404040" stroke-width="1.6"/>
<circle cx="200.8" cy="756.8" r="4.0" fill="none" stroke="#404040" stroke-width="1.6"/>
<circle cx="207.0" cy="760.4" r="4.0" fill="none" stroke="#404040" stroke-width="1.6"/>
<circle cx="213.3" cy="770.5" r="4.0" fill="none" stroke="#404040" stroke-width="1.6"/>
<circle cx="219.5" cy="771.8" r="4.0" fill="none" stroke="#404040" stroke-width="1.6"/>
<circle cx="225.8" cy="779.0" r="4.0" fill="none" stroke="#404040" stroke-width="1.6"/>
<circle cx="232.1" cy="790.0" r="4.0" fill="none" stroke="#404040" stroke-width="1.6"/>
<circle cx="238.3" cy="783.4" r="4.0" fill="none" stroke="#404040" stroke-width="1.6"/>
<circle cx="244.6" cy="808.3" r="4.0" fill="none" stroke="#404040" stroke-width="1.6"/>
<circle cx="250.9" cy="813.2" r="4.0" fill="none" stroke="#404040" stroke-width="1.6"/>
<circle cx="257.1" cy="789.2" r="4.0" fill="none" stroke="#404040" stroke-width="1.6"/>
<circle cx="263.4" cy="810.9" r="4.0" fill="none" stroke="#404040" stroke-width="1.6"/>
<circle cx="269.6" cy="796.7" r="4.0" fill="none" stroke="#404040" stroke-width="1.6"/>
<circle cx="275.9" cy="829.3" r="4.0" fill="none" stroke="#404040" stroke-width="1.6"/>
<circle cx="282.2" cy="803.8" r="4.0" fill="none" stroke="#404040" stroke-width="1.6"/>
<circle cx="288.4" cy="787.1" r="4.0" fill="none" stroke="#404040" stroke-width="1.6"/>
<circle cx="294.7" cy="818.1" r="4.0" fill="none" stroke="#404040" stroke-width="1.6"/>
<circle cx="301.0" cy="786.5" r="4.0" fill="none" stroke="#404040" stroke-width="1.6"/>
<circle cx="307.2" cy="800.8" r="4.0" fill="none" stroke="#404040" stroke-width="1.6"/>
<circle cx="313.5" cy="798.7" r="4.0" fill="none" stroke="#404040" stroke-width="1.6"/>
<circle cx="319.7" cy="806.9" r="4.0" fill="none" stroke="#404040" stroke-width="1.6"/>
<circle cx="326.0" cy="799.3" r="4.0" fill="none" stroke="#404040" stroke-width="1.6"/>
<circle cx="332.3" cy="847.0" r="4.0" fill="none" stroke="#404040" stroke-width="1.6"/>
<circle cx="338.5" cy="778.4" r="4.0" fill="none" stroke="#404040" stroke-width="1.6"/>
<circle cx="344.8" cy="793.6" r="4.0" fill="none" stroke="#404040" stroke-width="1.6"/>
<circle cx="351.0" cy="778.4" r="4.0" fill="none" stroke="#404040" stroke-width="1.6"/>
<circle cx="357.3" cy="814.0" r="4.0" fill="none" stroke="#404040" stroke-width="1.6"/>
<circle cx="363.6" cy="825.2" r="4.0" fill="none" stroke="#404040" stroke-width="1.6"/>
<circle cx="369.8" cy="802.8" r="4.0" fill="none" stroke="#404040" stroke-width="1.6"/>
<circle cx="376.1" cy="824.2" r="4.0" fill="none" stroke="#404040" stroke-width="1.6"/>
<circle cx="382.4" cy="826.2" r="4.0" fill="none" stroke="#404040" stroke-width="1.6"/>
<circle cx="388.6" cy="772.3" r="4.0" fill="none" stroke="#404040" stroke-width="1.6"/>
<circle cx="394.9" cy="791.6" r="4.0" fill="none" stroke="#404040" stroke-width="1.6"/>
<circle cx="401.1" cy="786.5" r="4.0" fill="none" stroke="#404040" stroke-width="1.6"/>
<circle cx="407.4" cy="799.0" r="4.0" fill="none" stroke="#404040" stroke-width="1.6"/>
<circle cx="413.7" cy="784.8" r="4.0" fill="none" stroke="#404040" stroke-width="1.6"/>
<circle cx="419.9" cy="765.8" r="4.0" fill="none" stroke="#404040" stroke-width="1.6"/>
<circle cx="426.2" cy="799.7" r="4.0" fill="none" stroke="#404040" stroke-width="1.6"/>
<circle cx="432.5" cy="820.3" r="4.0" fill="none" stroke="#404040" stroke-width="1.6"/>
<circle cx="438.7" cy="834.0" r="4.0" fill="none" stroke="#404040" stroke-width="1.6"/>
<circle cx="445.0" cy="770.4" r="4.0" fill="none" stroke="#404040" stroke-width="1.6"/>
<circle cx="451.2" cy="822.1" r="4.0" fill="none" stroke="#404040" stroke-width="1.6"/>
<circle cx="457.5" cy="803.1" r="4.0" fill="none" stroke="#404040" stroke-width="1.6"/>
<circle cx="463.8" cy="818.7" r="4.0" fill="none" stroke="#404040" stroke-width="1.6"/>
<circle cx="470.0" cy="779.1" r="4.0" fill="none" stroke="#404040" stroke-width="1.6"/>
<circle cx="476.3" cy="806.6" r="4.0" fill="none" stroke="#404040" stroke-width="1.6"/>
<circle cx="482.6" cy="780.2" r="4.0" fill="none" stroke="#404040" stroke-width="1.6"/>
<circle cx="488.8" cy="736.3" r="4.0" fill="none" stroke="#404040" stroke-width="1.6"/>
<circle cx="495.1" cy="844.1" r="4.0" fill="none" stroke="#404040" stroke-width="1.6"/>
<circle cx="501.3" cy="847.6" r="4.0" fill="none" stroke="#404040" stroke-width="1.6"/>
<circle cx="507.6" cy="760.8" r="4.0" fill="none" stroke="#404040" stroke-width="1.6"/>
<circle cx="513.9" cy="825.3" r="4.0" fill="none" stroke="#404040" stroke-width="1.6"/>
<circle cx="520.1" cy="727.6" r="4.0" fill="none" stroke="#404040" stroke-width="1.6"/>
<circle cx="526.4" cy="752.7" r="4.0" fill="none" stroke="#404040" stroke-width="1.6"/>
<circle cx="532.6" cy="782.5" r="4.0" fill="none" stroke="#404040" stroke-width="1.6"/>
<circle cx="538.9" cy="862.4" r="4.0" fill="none" stroke="#404040" stroke-width="1.6"/>
<circle cx="545.2" cy="863.6" r="4.0" fill="none" stroke="#404040" stroke-width="1.6"/>
<circle cx="551.4" cy="753.9" r="4.0" fill="none" stroke="#404040" stroke-width="1.6"/>
<circle cx="557.7" cy="835.2" r="4.0" fill="none" stroke="#404040" stroke-width="1.6"/>
<circle cx="564.0" cy="739.0" r="4.0" fill="none" stroke="#404040" stroke-width="1.6"/>
<circle cx="570.2" cy="828.2" r="4.0" fill="none" stroke="#404040" stroke-width="1.6"/>
<circle cx="576.5" cy="809.0" r="4.0" fill="none" stroke="#404040" stroke-width="1.6"/>
<circle cx="582.7" cy="805.6" r="4.0" fill="none" stroke="#404040" stroke-width="1.6"/>
<circle cx="589.0" cy="816.6" r="4.0" fill="none" stroke="#404040" stroke-width="1.6"/>
<circle cx="595.3" cy="834.3" r="4.0" fill="none" stroke="#404040" stroke-width="1.6"/>
<circle cx="601.5" cy="820.8" r="4.0" fill="none" stroke="#404040" stroke-width="1.6"/>
<circle cx="607.8" cy="817.1" r="4.0" fill="none" stroke="#404040" stroke-width="1.6"/>
<circle cx="614.1" cy="832.7" r="4.0" fill="none" stroke="#404040" stroke-width="1.6"/>
<circle cx="620.3" cy="756.1" r="4.0" fill="none" stroke="#404040" stroke-width="1.6"/>
<circle cx="626.6" cy="791.1" r="4.0" fill="none" stroke="#404040" stroke-width="1.6"/>
<circle cx="632.8" cy="790.5" r="4.0" fill="none" stroke="#404040" stroke-width="1.6"/>
<circle cx="639.1" cy="764.8" r="4.0" fill="none" stroke="#404040" stroke-width="1.6"/>
<circle cx="645.4" cy="800.4" r="4.0" fill="none" stroke="#404040" stroke-width="1.6"/>
<circle cx="651.6" cy="767.8" r="4.0" fill="none" stroke="#404040" stroke-width="1.6"/>
<circle cx="657.9" cy="816.6" r="4.0" fill="none" stroke="#404040" stroke-width="1.6"/>
<circle cx="664.1" cy="770.1" r="4.0" fill="none" stroke="#404040" stroke-width="1.6"/>
<circle cx="670.4" cy="827.6" r="4.0" fill="none" stroke="#404040" stroke-width="1.6"/>
<circle cx="676.7" cy="693.1" r="4.0" fill="none" stroke="#404040" stroke-width="1.6"/>
<circle cx="682.9" cy="822.4" r="4.0" fill="none" stroke="#404040" stroke-width="1.6"/>
<circle cx="689.2" cy="802.9" r="4.0" fill="none" stroke="#404040" stroke-width="1.6"/>
<circle cx="695.5" cy="779.0" r="4.0" fill="none" stroke="#404040" stroke-width="1.6"/>
<circle cx="701.7" cy="882.4" r="4.0" fill="none" stroke="#404040" stroke-width="1.6"/>
<circle cx="708.0" cy="857.9" r="4.0" fill="none" stroke="#404040" stroke-width="1.6"/>
<circle cx="714.2" cy="586.0" r="4.0" fill="none" stroke="#404040" stroke-width="1.6"/>
<circle cx="720.5" cy="975.0" r="4.0" fill="none" stroke="#404040" stroke-width="1.6"/>
</g>
<line x1="91.0" y1="795.4" x2="742.0" y2="795.4" stroke="#000" stroke-width="1.5"/>
<g clip-path="url(#cm)">
<polyline points="106.8,300.7 113.1,274.8 119.4,227.1 125.6,198.4 131.9,183.0 138.1,175.6 144.4,175.1 150.7,177.1 156.9,182.4 163.2,189.3 169.5,196.9 175.7,204.6 182.0,211.9 188.2,218.8 194.5,225.8 200.8,232.8 207.0,239.5 213.3,245.6 219.5,251.5 225.8,256.8 232.1,262.5 238.3,267.6 244.6,269.3 250.9,272.4 257.1,278.2 263.4,279.3 269.6,284.0 275.9,284.0 282.2,288.7 288.4,292.5 294.7,291.4 301.0,296.6 307.2,297.0 313.5,299.1 319.7,300.1 326.0,302.7 332.3,299.6 338.5,308.2 344.8,308.4 351.0,311.2 357.3,308.9 363.6,309.1 369.8,312.6 376.1,311.7 382.4,312.7 388.6,319.4 394.9,318.6 401.1,320.2 407.4,320.0 413.7,322.9 419.9,326.6 426.2,324.6 432.5,323.9 438.7,323.9 445.0,338.0 451.2,327.5 457.5,330.4 463.8,329.7 470.0,334.8 476.3,333.2 482.6,337.1 488.8,342.7 495.1,333.0 501.3,333.9 507.6,344.0 513.9,338.7 520.1,350.2 526.4,349.3 532.6,347.9 538.9,341.4 545.2,342.7 551.4,355.2 557.7,348.3 564.0,359.7 570.2,352.4 576.5,356.1 582.7,357.9 589.0,358.2 595.3,357.8 601.5,358.8 607.8,358.6 614.1,356.5 620.3,363.2 626.6,358.6 632.8,357.8 639.1,360.2 645.4,356.5 651.6,358.7 657.9,351.3 664.1,352.1 670.4,343.4 676.7,355.5 682.9,344.1 689.2,352.2 695.5,363.8 701.7,373.5 708.0,378.5 714.2,455.3 720.5,423.7 726.8,476.4" fill="none" stroke="#9c0c2a" stroke-width="1.7"/>
<path d="M701.7 379.7 L701.7 380.8 M699.3 380.8 L704.1 380.8 M708.0 372.1 L708.0 372.3 M705.6 372.1 L710.4 372.1 M708.0 384.7 L708.0 386.5 M705.6 386.5 L710.4 386.5 M714.2 437.8 L714.2 449.1 M711.8 437.8 L716.6 437.8 M714.2 461.5 L714.2 496.4 M711.8 496.4 L716.6 496.4 M720.5 411.9 L720.5 417.5 M718.1 411.9 L722.9 411.9 M720.5 429.9 L720.5 442.5 M718.1 442.5 L722.9 442.5 M726.8 454.0 L726.8 470.2 M724.4 454.0 L729.2 454.0 M726.8 482.6 L726.8 675.2 M724.4 675.2 L729.2 675.2 " fill="none" stroke="#9c0c2a" stroke-width="1.4"/>
<path d="M101.3 306.4 L112.3 306.4 L106.8 295.3 Z" fill="none" stroke="#9c0c2a" stroke-width="1.4"/>
<path d="M107.6 280.6 L118.6 280.6 L113.1 269.4 Z" fill="none" stroke="#9c0c2a" stroke-width="1.4"/>
<path d="M113.9 232.9 L124.9 232.9 L119.4 221.7 Z" fill="none" stroke="#9c0c2a" stroke-width="1.4"/>
<path d="M120.1 204.1 L131.1 204.1 L125.6 193.0 Z" fill="none" stroke="#9c0c2a" stroke-width="1.4"/>
<path d="M126.4 188.7 L137.4 188.7 L131.9 177.6 Z" fill="none" stroke="#9c0c2a" stroke-width="1.4"/>
<path d="M132.6 181.3 L143.6 181.3 L138.1 170.2 Z" fill="none" stroke="#9c0c2a" stroke-width="1.4"/>
<path d="M138.9 180.9 L149.9 180.9 L144.4 169.7 Z" fill="none" stroke="#9c0c2a" stroke-width="1.4"/>
<path d="M145.2 182.8 L156.2 182.8 L150.7 171.7 Z" fill="none" stroke="#9c0c2a" stroke-width="1.4"/>
<path d="M151.4 188.2 L162.4 188.2 L156.9 177.0 Z" fill="none" stroke="#9c0c2a" stroke-width="1.4"/>
<path d="M157.7 195.0 L168.7 195.0 L163.2 183.9 Z" fill="none" stroke="#9c0c2a" stroke-width="1.4"/>
<path d="M164.0 202.7 L175.0 202.7 L169.5 191.5 Z" fill="none" stroke="#9c0c2a" stroke-width="1.4"/>
<path d="M170.2 210.4 L181.2 210.4 L175.7 199.2 Z" fill="none" stroke="#9c0c2a" stroke-width="1.4"/>
<path d="M176.5 217.6 L187.5 217.6 L182.0 206.5 Z" fill="none" stroke="#9c0c2a" stroke-width="1.4"/>
<path d="M182.7 224.6 L193.7 224.6 L188.2 213.4 Z" fill="none" stroke="#9c0c2a" stroke-width="1.4"/>
<path d="M189.0 231.5 L200.0 231.5 L194.5 220.4 Z" fill="none" stroke="#9c0c2a" stroke-width="1.4"/>
<path d="M195.3 238.5 L206.3 238.5 L200.8 227.4 Z" fill="none" stroke="#9c0c2a" stroke-width="1.4"/>
<path d="M201.5 245.3 L212.5 245.3 L207.0 234.1 Z" fill="none" stroke="#9c0c2a" stroke-width="1.4"/>
<path d="M207.8 251.3 L218.8 251.3 L213.3 240.2 Z" fill="none" stroke="#9c0c2a" stroke-width="1.4"/>
<path d="M214.0 257.3 L225.0 257.3 L219.5 246.1 Z" fill="none" stroke="#9c0c2a" stroke-width="1.4"/>
<path d="M220.3 262.6 L231.3 262.6 L225.8 251.4 Z" fill="none" stroke="#9c0c2a" stroke-width="1.4"/>
<path d="M226.6 268.2 L237.6 268.2 L232.1 257.1 Z" fill="none" stroke="#9c0c2a" stroke-width="1.4"/>
<path d="M232.8 273.4 L243.8 273.4 L238.3 262.2 Z" fill="none" stroke="#9c0c2a" stroke-width="1.4"/>
<path d="M239.1 275.0 L250.1 275.0 L244.6 263.9 Z" fill="none" stroke="#9c0c2a" stroke-width="1.4"/>
<path d="M245.4 278.1 L256.4 278.1 L250.9 267.0 Z" fill="none" stroke="#9c0c2a" stroke-width="1.4"/>
<path d="M251.6 284.0 L262.6 284.0 L257.1 272.8 Z" fill="none" stroke="#9c0c2a" stroke-width="1.4"/>
<path d="M257.9 285.0 L268.9 285.0 L263.4 273.9 Z" fill="none" stroke="#9c0c2a" stroke-width="1.4"/>
<path d="M264.1 289.8 L275.1 289.8 L269.6 278.6 Z" fill="none" stroke="#9c0c2a" stroke-width="1.4"/>
<path d="M270.4 289.7 L281.4 289.7 L275.9 278.6 Z" fill="none" stroke="#9c0c2a" stroke-width="1.4"/>
<path d="M276.7 294.4 L287.7 294.4 L282.2 283.3 Z" fill="none" stroke="#9c0c2a" stroke-width="1.4"/>
<path d="M282.9 298.2 L293.9 298.2 L288.4 287.1 Z" fill="none" stroke="#9c0c2a" stroke-width="1.4"/>
<path d="M289.2 297.2 L300.2 297.2 L294.7 286.0 Z" fill="none" stroke="#9c0c2a" stroke-width="1.4"/>
<path d="M295.5 302.4 L306.5 302.4 L301.0 291.2 Z" fill="none" stroke="#9c0c2a" stroke-width="1.4"/>
<path d="M301.7 302.8 L312.7 302.8 L307.2 291.6 Z" fill="none" stroke="#9c0c2a" stroke-width="1.4"/>
<path d="M308.0 304.9 L319.0 304.9 L313.5 293.7 Z" fill="none" stroke="#9c0c2a" stroke-width="1.4"/>
<path d="M314.2 305.9 L325.2 305.9 L319.7 294.7 Z" fill="none" stroke="#9c0c2a" stroke-width="1.4"/>
<path d="M320.5 308.4 L331.5 308.4 L326.0 297.3 Z" fill="none" stroke="#9c0c2a" stroke-width="1.4"/>
<path d="M326.8 305.3 L337.8 305.3 L332.3 294.2 Z" fill="none" stroke="#9c0c2a" stroke-width="1.4"/>
<path d="M333.0 314.0 L344.0 314.0 L338.5 302.8 Z" fill="none" stroke="#9c0c2a" stroke-width="1.4"/>
<path d="M339.3 314.2 L350.3 314.2 L344.8 303.0 Z" fill="none" stroke="#9c0c2a" stroke-width="1.4"/>
<path d="M345.5 317.0 L356.5 317.0 L351.0 305.8 Z" fill="none" stroke="#9c0c2a" stroke-width="1.4"/>
<path d="M351.8 314.7 L362.8 314.7 L357.3 303.5 Z" fill="none" stroke="#9c0c2a" stroke-width="1.4"/>
<path d="M358.1 314.8 L369.1 314.8 L363.6 303.7 Z" fill="none" stroke="#9c0c2a" stroke-width="1.4"/>
<path d="M364.3 318.3 L375.3 318.3 L369.8 307.2 Z" fill="none" stroke="#9c0c2a" stroke-width="1.4"/>
<path d="M370.6 317.4 L381.6 317.4 L376.1 306.3 Z" fill="none" stroke="#9c0c2a" stroke-width="1.4"/>
<path d="M376.9 318.4 L387.9 318.4 L382.4 307.3 Z" fill="none" stroke="#9c0c2a" stroke-width="1.4"/>
<path d="M383.1 325.1 L394.1 325.1 L388.6 314.0 Z" fill="none" stroke="#9c0c2a" stroke-width="1.4"/>
<path d="M389.4 324.3 L400.4 324.3 L394.9 313.2 Z" fill="none" stroke="#9c0c2a" stroke-width="1.4"/>
<path d="M395.6 325.9 L406.6 325.9 L401.1 314.8 Z" fill="none" stroke="#9c0c2a" stroke-width="1.4"/>
<path d="M401.9 325.8 L412.9 325.8 L407.4 314.6 Z" fill="none" stroke="#9c0c2a" stroke-width="1.4"/>
<path d="M408.2 328.7 L419.2 328.7 L413.7 317.5 Z" fill="none" stroke="#9c0c2a" stroke-width="1.4"/>
<path d="M414.4 332.3 L425.4 332.3 L419.9 321.2 Z" fill="none" stroke="#9c0c2a" stroke-width="1.4"/>
<path d="M420.7 330.4 L431.7 330.4 L426.2 319.2 Z" fill="none" stroke="#9c0c2a" stroke-width="1.4"/>
<path d="M427.0 329.7 L438.0 329.7 L432.5 318.5 Z" fill="none" stroke="#9c0c2a" stroke-width="1.4"/>
<path d="M433.2 329.7 L444.2 329.7 L438.7 318.5 Z" fill="none" stroke="#9c0c2a" stroke-width="1.4"/>
<path d="M439.5 343.8 L450.5 343.8 L445.0 332.6 Z" fill="none" stroke="#9c0c2a" stroke-width="1.4"/>
<path d="M445.7 333.2 L456.7 333.2 L451.2 322.1 Z" fill="none" stroke="#9c0c2a" stroke-width="1.4"/>
<path d="M452.0 336.1 L463.0 336.1 L457.5 325.0 Z" fill="none" stroke="#9c0c2a" stroke-width="1.4"/>
<path d="M458.3 335.5 L469.3 335.5 L463.8 324.3 Z" fill="none" stroke="#9c0c2a" stroke-width="1.4"/>
<path d="M464.5 340.5 L475.5 340.5 L470.0 329.4 Z" fill="none" stroke="#9c0c2a" stroke-width="1.4"/>
<path d="M470.8 338.9 L481.8 338.9 L476.3 327.8 Z" fill="none" stroke="#9c0c2a" stroke-width="1.4"/>
<path d="M477.1 342.8 L488.1 342.8 L482.6 331.7 Z" fill="none" stroke="#9c0c2a" stroke-width="1.4"/>
<path d="M483.3 348.5 L494.3 348.5 L488.8 337.3 Z" fill="none" stroke="#9c0c2a" stroke-width="1.4"/>
<path d="M489.6 338.8 L500.6 338.8 L495.1 327.6 Z" fill="none" stroke="#9c0c2a" stroke-width="1.4"/>
<path d="M495.8 339.7 L506.8 339.7 L501.3 328.5 Z" fill="none" stroke="#9c0c2a" stroke-width="1.4"/>
<path d="M502.1 349.7 L513.1 349.7 L507.6 338.6 Z" fill="none" stroke="#9c0c2a" stroke-width="1.4"/>
<path d="M508.4 344.5 L519.4 344.5 L513.9 333.3 Z" fill="none" stroke="#9c0c2a" stroke-width="1.4"/>
<path d="M514.6 356.0 L525.6 356.0 L520.1 344.8 Z" fill="none" stroke="#9c0c2a" stroke-width="1.4"/>
<path d="M520.9 355.1 L531.9 355.1 L526.4 343.9 Z" fill="none" stroke="#9c0c2a" stroke-width="1.4"/>
<path d="M527.1 353.7 L538.1 353.7 L532.6 342.5 Z" fill="none" stroke="#9c0c2a" stroke-width="1.4"/>
<path d="M533.4 347.2 L544.4 347.2 L538.9 336.0 Z" fill="none" stroke="#9c0c2a" stroke-width="1.4"/>
<path d="M539.7 348.4 L550.7 348.4 L545.2 337.3 Z" fill="none" stroke="#9c0c2a" stroke-width="1.4"/>
<path d="M545.9 360.9 L556.9 360.9 L551.4 349.8 Z" fill="none" stroke="#9c0c2a" stroke-width="1.4"/>
<path d="M552.2 354.1 L563.2 354.1 L557.7 342.9 Z" fill="none" stroke="#9c0c2a" stroke-width="1.4"/>
<path d="M558.5 365.4 L569.5 365.4 L564.0 354.3 Z" fill="none" stroke="#9c0c2a" stroke-width="1.4"/>
<path d="M564.7 358.2 L575.7 358.2 L570.2 347.0 Z" fill="none" stroke="#9c0c2a" stroke-width="1.4"/>
<path d="M571.0 361.9 L582.0 361.9 L576.5 350.7 Z" fill="none" stroke="#9c0c2a" stroke-width="1.4"/>
<path d="M577.2 363.7 L588.2 363.7 L582.7 352.5 Z" fill="none" stroke="#9c0c2a" stroke-width="1.4"/>
<path d="M583.5 364.0 L594.5 364.0 L589.0 352.8 Z" fill="none" stroke="#9c0c2a" stroke-width="1.4"/>
<path d="M589.8 363.6 L600.8 363.6 L595.3 352.4 Z" fill="none" stroke="#9c0c2a" stroke-width="1.4"/>
<path d="M596.0 364.5 L607.0 364.5 L601.5 353.4 Z" fill="none" stroke="#9c0c2a" stroke-width="1.4"/>
<path d="M602.3 364.4 L613.3 364.4 L607.8 353.2 Z" fill="none" stroke="#9c0c2a" stroke-width="1.4"/>
<path d="M608.6 362.2 L619.6 362.2 L614.1 351.1 Z" fill="none" stroke="#9c0c2a" stroke-width="1.4"/>
<path d="M614.8 368.9 L625.8 368.9 L620.3 357.8 Z" fill="none" stroke="#9c0c2a" stroke-width="1.4"/>
<path d="M621.1 364.3 L632.1 364.3 L626.6 353.2 Z" fill="none" stroke="#9c0c2a" stroke-width="1.4"/>
<path d="M627.3 363.6 L638.3 363.6 L632.8 352.4 Z" fill="none" stroke="#9c0c2a" stroke-width="1.4"/>
<path d="M633.6 366.0 L644.6 366.0 L639.1 354.8 Z" fill="none" stroke="#9c0c2a" stroke-width="1.4"/>
<path d="M639.9 362.2 L650.9 362.2 L645.4 351.1 Z" fill="none" stroke="#9c0c2a" stroke-width="1.4"/>
<path d="M646.1 364.4 L657.1 364.4 L651.6 353.3 Z" fill="none" stroke="#9c0c2a" stroke-width="1.4"/>
<path d="M652.4 357.0 L663.4 357.0 L657.9 345.9 Z" fill="none" stroke="#9c0c2a" stroke-width="1.4"/>
<path d="M658.6 357.9 L669.6 357.9 L664.1 346.7 Z" fill="none" stroke="#9c0c2a" stroke-width="1.4"/>
<path d="M664.9 349.2 L675.9 349.2 L670.4 338.0 Z" fill="none" stroke="#9c0c2a" stroke-width="1.4"/>
<path d="M671.2 361.2 L682.2 361.2 L676.7 350.1 Z" fill="none" stroke="#9c0c2a" stroke-width="1.4"/>
<path d="M677.4 349.9 L688.4 349.9 L682.9 338.7 Z" fill="none" stroke="#9c0c2a" stroke-width="1.4"/>
<path d="M683.7 357.9 L694.7 357.9 L689.2 346.8 Z" fill="none" stroke="#9c0c2a" stroke-width="1.4"/>
<path d="M690.0 369.6 L701.0 369.6 L695.5 358.4 Z" fill="none" stroke="#9c0c2a" stroke-width="1.4"/>
<path d="M696.2 379.2 L707.2 379.2 L701.7 368.1 Z" fill="none" stroke="#9c0c2a" stroke-width="1.4"/>
<path d="M702.5 384.2 L713.5 384.2 L708.0 373.1 Z" fill="none" stroke="#9c0c2a" stroke-width="1.4"/>
<path d="M708.7 461.1 L719.7 461.1 L714.2 449.9 Z" fill="none" stroke="#9c0c2a" stroke-width="1.4"/>
<path d="M715.0 429.4 L726.0 429.4 L720.5 418.3 Z" fill="none" stroke="#9c0c2a" stroke-width="1.4"/>
<path d="M721.3 482.1 L732.3 482.1 L726.8 471.0 Z" fill="none" stroke="#9c0c2a" stroke-width="1.4"/>
<polyline points="106.8,293.0 113.1,274.1 119.4,231.0 125.6,200.4 131.9,183.9 138.1,175.7 144.4,173.5 150.7,175.1 156.9,181.0 163.2,189.0 169.5,195.9 175.7,204.7 182.0,212.3 188.2,219.6 194.5,228.5 200.8,233.5 207.0,240.5 213.3,250.3 219.5,255.4 225.8,258.9 232.1,265.1 238.3,269.5 244.6,273.8 250.9,278.5 257.1,281.6 263.4,281.6 269.6,285.9 275.9,291.3 282.2,287.6 288.4,292.3 294.7,296.9 301.0,296.2 307.2,297.0 313.5,300.1 319.7,304.4 326.0,304.9 332.3,309.4 338.5,309.7 344.8,309.2 351.0,311.1 357.3,304.7 363.6,313.9 369.8,314.8 376.1,311.3 382.4,313.2 388.6,311.1 394.9,314.3 401.1,322.4 407.4,324.6 413.7,324.2 419.9,325.9 426.2,321.7 432.5,322.9 438.7,326.5 445.0,321.5 451.2,329.9 457.5,333.1 463.8,333.0 470.0,335.8 476.3,333.4 482.6,337.5 488.8,338.4 495.1,340.2 501.3,338.3 507.6,347.5 513.9,347.1 520.1,339.0 526.4,348.1 532.6,352.1 538.9,347.1 545.2,348.1 551.4,350.6 557.7,353.0 564.0,357.8 570.2,357.8 576.5,356.7 582.7,355.9 589.0,359.2 595.3,368.1 601.5,358.9 607.8,376.7 614.1,362.3 620.3,362.2 626.6,374.5 632.8,374.8 639.1,351.6 645.4,358.2 651.6,365.7 657.9,359.5 664.1,339.5 670.4,341.2 676.7,341.2 682.9,359.6 689.2,342.3 695.5,361.7 701.7,382.8 708.0,397.7 714.2,432.9" fill="none" stroke="#f5325e" stroke-width="1.5" stroke-dasharray="4 4"/>
<path d="M507.6 352.0 L507.6 352.2 M505.2 352.2 L510.0 352.2 M513.9 351.6 L513.9 351.7 M511.5 351.7 L516.3 351.7 M526.4 352.6 L526.4 352.9 M524.0 352.9 L528.8 352.9 M532.6 356.6 L532.6 357.2 M530.2 357.2 L535.0 357.2 M538.9 351.6 L538.9 351.8 M536.5 351.8 L541.3 351.8 M545.2 352.6 L545.2 352.8 M542.8 352.8 L547.6 352.8 M551.4 355.1 L551.4 355.5 M549.0 355.5 L553.8 355.5 M557.7 357.5 L557.7 358.1 M555.3 358.1 L560.1 358.1 M564.0 353.0 L564.0 353.3 M561.6 353.0 L566.4 353.0 M564.0 362.3 L564.0 363.4 M561.6 363.4 L566.4 363.4 M570.2 353.0 L570.2 353.3 M567.8 353.0 L572.6 353.0 M570.2 362.3 L570.2 363.3 M567.8 363.3 L572.6 363.3 M576.5 352.0 L576.5 352.2 M574.1 352.0 L578.9 352.0 M576.5 361.2 L576.5 362.1 M574.1 362.1 L578.9 362.1 M582.7 351.3 L582.7 351.4 M580.3 351.3 L585.1 351.3 M582.7 360.4 L582.7 361.3 M580.3 361.3 L585.1 361.3 M589.0 354.3 L589.0 354.7 M586.6 354.3 L591.4 354.3 M589.0 363.7 L589.0 364.9 M586.6 364.9 L591.4 364.9 M595.3 362.5 L595.3 363.6 M592.9 362.5 L597.7 362.5 M595.3 372.6 L595.3 374.7 M592.9 374.7 L597.7 374.7 M601.5 354.1 L601.5 354.4 M599.1 354.1 L603.9 354.1 M601.5 363.4 L601.5 364.6 M599.1 364.6 L603.9 364.6 M607.8 370.5 L607.8 372.2 M605.4 370.5 L610.2 370.5 M607.8 381.2 L607.8 384.4 M605.4 384.4 L610.2 384.4 M614.1 357.2 L614.1 357.8 M611.7 357.2 L616.5 357.2 M614.1 366.8 L614.1 368.3 M611.7 368.3 L616.5 368.3 M620.3 357.1 L620.3 357.7 M617.9 357.1 L622.7 357.1 M620.3 366.7 L620.3 368.2 M617.9 368.2 L622.7 368.2 M626.6 368.5 L626.6 370.0 M624.2 368.5 L629.0 368.5 M626.6 379.0 L626.6 382.0 M624.2 382.0 L629.0 382.0 M632.8 368.7 L632.8 370.3 M630.4 368.7 L635.2 368.7 M632.8 379.3 L632.8 382.3 M630.4 382.3 L635.2 382.3 M639.1 356.1 L639.1 356.6 M636.7 356.6 L641.5 356.6 M645.4 353.4 L645.4 353.7 M643.0 353.4 L647.8 353.4 M645.4 362.7 L645.4 363.8 M643.0 363.8 L647.8 363.8 M651.6 360.4 L651.6 361.2 M649.2 360.4 L654.0 360.4 M651.6 370.2 L651.6 372.1 M649.2 372.1 L654.0 372.1 M657.9 354.7 L657.9 355.0 M655.5 354.7 L660.3 354.7 M657.9 364.0 L657.9 365.3 M655.5 365.3 L660.3 365.3 M682.9 354.8 L682.9 355.1 M680.5 354.8 L685.3 354.8 M682.9 364.1 L682.9 365.4 M680.5 365.4 L685.3 365.4 M695.5 356.6 L695.5 357.2 M693.1 356.6 L697.9 356.6 M695.5 366.2 L695.5 367.6 M693.1 367.6 L697.9 367.6 M701.7 376.0 L701.7 378.3 M699.3 376.0 L704.1 376.0 M701.7 387.3 L701.7 391.4 M699.3 391.4 L704.1 391.4 M708.0 389.3 L708.0 393.2 M705.6 389.3 L710.4 389.3 M708.0 402.2 L708.0 409.0 M705.6 409.0 L710.4 409.0 M714.2 419.7 L714.2 428.4 M711.8 419.7 L716.6 419.7 M714.2 437.4 L714.2 455.9 M711.8 455.9 L716.6 455.9 " fill="none" stroke="#f5325e" stroke-width="1.4" stroke-dasharray="4 4"/>
<circle cx="106.8" cy="293.0" r="3.75" fill="none" stroke="#f5325e" stroke-width="1.5"/>
<circle cx="113.1" cy="274.1" r="3.75" fill="none" stroke="#f5325e" stroke-width="1.5"/>
<circle cx="119.4" cy="231.0" r="3.75" fill="none" stroke="#f5325e" stroke-width="1.5"/>
<circle cx="125.6" cy="200.4" r="3.75" fill="none" stroke="#f5325e" stroke-width="1.5"/>
<circle cx="131.9" cy="183.9" r="3.75" fill="none" stroke="#f5325e" stroke-width="1.5"/>
<circle cx="138.1" cy="175.7" r="3.75" fill="none" stroke="#f5325e" stroke-width="1.5"/>
<circle cx="144.4" cy="173.5" r="3.75" fill="none" stroke="#f5325e" stroke-width="1.5"/>
<circle cx="150.7" cy="175.1" r="3.75" fill="none" stroke="#f5325e" stroke-width="1.5"/>
<circle cx="156.9" cy="181.0" r="3.75" fill="none" stroke="#f5325e" stroke-width="1.5"/>
<circle cx="163.2" cy="189.0" r="3.75" fill="none" stroke="#f5325e" stroke-width="1.5"/>
<circle cx="169.5" cy="195.9" r="3.75" fill="none" stroke="#f5325e" stroke-width="1.5"/>
<circle cx="175.7" cy="204.7" r="3.75" fill="none" stroke="#f5325e" stroke-width="1.5"/>
<circle cx="182.0" cy="212.3" r="3.75" fill="none" stroke="#f5325e" stroke-width="1.5"/>
<circle cx="188.2" cy="219.6" r="3.75" fill="none" stroke="#f5325e" stroke-width="1.5"/>
<circle cx="194.5" cy="228.5" r="3.75" fill="none" stroke="#f5325e" stroke-width="1.5"/>
<circle cx="200.8" cy="233.5" r="3.75" fill="none" stroke="#f5325e" stroke-width="1.5"/>
<circle cx="207.0" cy="240.5" r="3.75" fill="none" stroke="#f5325e" stroke-width="1.5"/>
<circle cx="213.3" cy="250.3" r="3.75" fill="none" stroke="#f5325e" stroke-width="1.5"/>
<circle cx="219.5" cy="255.4" r="3.75" fill="none" stroke="#f5325e" stroke-width="1.5"/>
<circle cx="225.8" cy="258.9" r="3.75" fill="none" stroke="#f5325e" stroke-width="1.5"/>
<circle cx="232.1" cy="265.1" r="3.75" fill="none" stroke="#f5325e" stroke-width="1.5"/>
<circle cx="238.3" cy="269.5" r="3.75" fill="none" stroke="#f5325e" stroke-width="1.5"/>
<circle cx="244.6" cy="273.8" r="3.75" fill="none" stroke="#f5325e" stroke-width="1.5"/>
<circle cx="250.9" cy="278.5" r="3.75" fill="none" stroke="#f5325e" stroke-width="1.5"/>
<circle cx="257.1" cy="281.6" r="3.75" fill="none" stroke="#f5325e" stroke-width="1.5"/>
<circle cx="263.4" cy="281.6" r="3.75" fill="none" stroke="#f5325e" stroke-width="1.5"/>
<circle cx="269.6" cy="285.9" r="3.75" fill="none" stroke="#f5325e" stroke-width="1.5"/>
<circle cx="275.9" cy="291.3" r="3.75" fill="none" stroke="#f5325e" stroke-width="1.5"/>
<circle cx="282.2" cy="287.6" r="3.75" fill="none" stroke="#f5325e" stroke-width="1.5"/>
<circle cx="288.4" cy="292.3" r="3.75" fill="none" stroke="#f5325e" stroke-width="1.5"/>
<circle cx="294.7" cy="296.9" r="3.75" fill="none" stroke="#f5325e" stroke-width="1.5"/>
<circle cx="301.0" cy="296.2" r="3.75" fill="none" stroke="#f5325e" stroke-width="1.5"/>
<circle cx="307.2" cy="297.0" r="3.75" fill="none" stroke="#f5325e" stroke-width="1.5"/>
<circle cx="313.5" cy="300.1" r="3.75" fill="none" stroke="#f5325e" stroke-width="1.5"/>
<circle cx="319.7" cy="304.4" r="3.75" fill="none" stroke="#f5325e" stroke-width="1.5"/>
<circle cx="326.0" cy="304.9" r="3.75" fill="none" stroke="#f5325e" stroke-width="1.5"/>
<circle cx="332.3" cy="309.4" r="3.75" fill="none" stroke="#f5325e" stroke-width="1.5"/>
<circle cx="338.5" cy="309.7" r="3.75" fill="none" stroke="#f5325e" stroke-width="1.5"/>
<circle cx="344.8" cy="309.2" r="3.75" fill="none" stroke="#f5325e" stroke-width="1.5"/>
<circle cx="351.0" cy="311.1" r="3.75" fill="none" stroke="#f5325e" stroke-width="1.5"/>
<circle cx="357.3" cy="304.7" r="3.75" fill="none" stroke="#f5325e" stroke-width="1.5"/>
<circle cx="363.6" cy="313.9" r="3.75" fill="none" stroke="#f5325e" stroke-width="1.5"/>
<circle cx="369.8" cy="314.8" r="3.75" fill="none" stroke="#f5325e" stroke-width="1.5"/>
<circle cx="376.1" cy="311.3" r="3.75" fill="none" stroke="#f5325e" stroke-width="1.5"/>
<circle cx="382.4" cy="313.2" r="3.75" fill="none" stroke="#f5325e" stroke-width="1.5"/>
<circle cx="388.6" cy="311.1" r="3.75" fill="none" stroke="#f5325e" stroke-width="1.5"/>
<circle cx="394.9" cy="314.3" r="3.75" fill="none" stroke="#f5325e" stroke-width="1.5"/>
<circle cx="401.1" cy="322.4" r="3.75" fill="none" stroke="#f5325e" stroke-width="1.5"/>
<circle cx="407.4" cy="324.6" r="3.75" fill="none" stroke="#f5325e" stroke-width="1.5"/>
<circle cx="413.7" cy="324.2" r="3.75" fill="none" stroke="#f5325e" stroke-width="1.5"/>
<circle cx="419.9" cy="325.9" r="3.75" fill="none" stroke="#f5325e" stroke-width="1.5"/>
<circle cx="426.2" cy="321.7" r="3.75" fill="none" stroke="#f5325e" stroke-width="1.5"/>
<circle cx="432.5" cy="322.9" r="3.75" fill="none" stroke="#f5325e" stroke-width="1.5"/>
<circle cx="438.7" cy="326.5" r="3.75" fill="none" stroke="#f5325e" stroke-width="1.5"/>
<circle cx="445.0" cy="321.5" r="3.75" fill="none" stroke="#f5325e" stroke-width="1.5"/>
<circle cx="451.2" cy="329.9" r="3.75" fill="none" stroke="#f5325e" stroke-width="1.5"/>
<circle cx="457.5" cy="333.1" r="3.75" fill="none" stroke="#f5325e" stroke-width="1.5"/>
<circle cx="463.8" cy="333.0" r="3.75" fill="none" stroke="#f5325e" stroke-width="1.5"/>
<circle cx="470.0" cy="335.8" r="3.75" fill="none" stroke="#f5325e" stroke-width="1.5"/>
<circle cx="476.3" cy="333.4" r="3.75" fill="none" stroke="#f5325e" stroke-width="1.5"/>
<circle cx="482.6" cy="337.5" r="3.75" fill="none" stroke="#f5325e" stroke-width="1.5"/>
<circle cx="488.8" cy="338.4" r="3.75" fill="none" stroke="#f5325e" stroke-width="1.5"/>
<circle cx="495.1" cy="340.2" r="3.75" fill="none" stroke="#f5325e" stroke-width="1.5"/>
<circle cx="501.3" cy="338.3" r="3.75" fill="none" stroke="#f5325e" stroke-width="1.5"/>
<circle cx="507.6" cy="347.5" r="3.75" fill="none" stroke="#f5325e" stroke-width="1.5"/>
<circle cx="513.9" cy="347.1" r="3.75" fill="none" stroke="#f5325e" stroke-width="1.5"/>
<circle cx="520.1" cy="339.0" r="3.75" fill="none" stroke="#f5325e" stroke-width="1.5"/>
<circle cx="526.4" cy="348.1" r="3.75" fill="none" stroke="#f5325e" stroke-width="1.5"/>
<circle cx="532.6" cy="352.1" r="3.75" fill="none" stroke="#f5325e" stroke-width="1.5"/>
<circle cx="538.9" cy="347.1" r="3.75" fill="none" stroke="#f5325e" stroke-width="1.5"/>
<circle cx="545.2" cy="348.1" r="3.75" fill="none" stroke="#f5325e" stroke-width="1.5"/>
<circle cx="551.4" cy="350.6" r="3.75" fill="none" stroke="#f5325e" stroke-width="1.5"/>
<circle cx="557.7" cy="353.0" r="3.75" fill="none" stroke="#f5325e" stroke-width="1.5"/>
<circle cx="564.0" cy="357.8" r="3.75" fill="none" stroke="#f5325e" stroke-width="1.5"/>
<circle cx="570.2" cy="357.8" r="3.75" fill="none" stroke="#f5325e" stroke-width="1.5"/>
<circle cx="576.5" cy="356.7" r="3.75" fill="none" stroke="#f5325e" stroke-width="1.5"/>
<circle cx="582.7" cy="355.9" r="3.75" fill="none" stroke="#f5325e" stroke-width="1.5"/>
<circle cx="589.0" cy="359.2" r="3.75" fill="none" stroke="#f5325e" stroke-width="1.5"/>
<circle cx="595.3" cy="368.1" r="3.75" fill="none" stroke="#f5325e" stroke-width="1.5"/>
<circle cx="601.5" cy="358.9" r="3.75" fill="none" stroke="#f5325e" stroke-width="1.5"/>
<circle cx="607.8" cy="376.7" r="3.75" fill="none" stroke="#f5325e" stroke-width="1.5"/>
<circle cx="614.1" cy="362.3" r="3.75" fill="none" stroke="#f5325e" stroke-width="1.5"/>
<circle cx="620.3" cy="362.2" r="3.75" fill="none" stroke="#f5325e" stroke-width="1.5"/>
<circle cx="626.6" cy="374.5" r="3.75" fill="none" stroke="#f5325e" stroke-width="1.5"/>
<circle cx="632.8" cy="374.8" r="3.75" fill="none" stroke="#f5325e" stroke-width="1.5"/>
<circle cx="639.1" cy="351.6" r="3.75" fill="none" stroke="#f5325e" stroke-width="1.5"/>
<circle cx="645.4" cy="358.2" r="3.75" fill="none" stroke="#f5325e" stroke-width="1.5"/>
<circle cx="651.6" cy="365.7" r="3.75" fill="none" stroke="#f5325e" stroke-width="1.5"/>
<circle cx="657.9" cy="359.5" r="3.75" fill="none" stroke="#f5325e" stroke-width="1.5"/>
<circle cx="664.1" cy="339.5" r="3.75" fill="none" stroke="#f5325e" stroke-width="1.5"/>
<circle cx="670.4" cy="341.2" r="3.75" fill="none" stroke="#f5325e" stroke-width="1.5"/>
<circle cx="676.7" cy="341.2" r="3.75" fill="none" stroke="#f5325e" stroke-width="1.5"/>
<circle cx="682.9" cy="359.6" r="3.75" fill="none" stroke="#f5325e" stroke-width="1.5"/>
<circle cx="689.2" cy="342.3" r="3.75" fill="none" stroke="#f5325e" stroke-width="1.5"/>
<circle cx="695.5" cy="361.7" r="3.75" fill="none" stroke="#f5325e" stroke-width="1.5"/>
<circle cx="701.7" cy="382.8" r="3.75" fill="none" stroke="#f5325e" stroke-width="1.5"/>
<circle cx="708.0" cy="397.7" r="3.75" fill="none" stroke="#f5325e" stroke-width="1.5"/>
<circle cx="714.2" cy="432.9" r="3.75" fill="none" stroke="#f5325e" stroke-width="1.5"/>
<polyline points="106.8,292.7 113.1,254.9 119.4,208.6 125.6,190.4 131.9,179.6 138.1,174.5 144.4,177.0 150.7,180.7 156.9,186.0 163.2,192.3 169.5,199.2 175.7,207.3 182.0,213.8 188.2,220.4 194.5,226.6 200.8,232.4 207.0,239.6 213.3,246.0 219.5,253.1 225.8,257.6 232.1,263.6 238.3,266.1 244.6,273.8 250.9,275.8 257.1,283.9 263.4,281.3 269.6,282.5 275.9,289.1 282.2,291.0 288.4,288.4 294.7,295.7 301.0,298.7 307.2,298.7 313.5,300.2 319.7,299.4 326.0,304.7 332.3,304.2 338.5,306.1 344.8,306.1 351.0,307.9 357.3,310.2 363.6,315.3 369.8,312.5 376.1,311.0 382.4,308.2 388.6,314.0 394.9,319.2 401.1,323.3 407.4,322.3 413.7,317.5 419.9,318.9 426.2,326.5 432.5,325.0 438.7,325.4 445.0,325.7 451.2,333.4 457.5,334.8 463.8,333.0 470.0,334.4 476.3,327.4 482.6,337.4 488.8,342.7 495.1,340.3 501.3,341.3 507.6,342.9 513.9,337.1 520.1,348.7 526.4,349.1 532.6,349.1 538.9,342.3 545.2,347.9 551.4,354.9 557.7,346.1 564.0,342.9 570.2,370.3 576.5,357.2 582.7,363.8 589.0,355.2 595.3,369.2 601.5,364.2 607.8,380.9 614.1,360.1 620.3,361.2 626.6,365.7 632.8,368.5 639.1,360.5 645.4,358.0 651.6,361.3 657.9,351.3 664.1,348.4 670.4,350.8 676.7,345.7 682.9,344.3 689.2,357.1 695.5,349.7 701.7,390.7 708.0,404.4 714.2,477.7" fill="none" stroke="#1fc887" stroke-width="1.5" stroke-dasharray="4 4"/>
<path d="M488.8 346.9 L488.8 347.0 M486.4 347.0 L491.2 347.0 M501.3 345.5 L501.3 345.5 M498.9 345.5 L503.7 345.5 M507.6 347.1 L507.6 347.2 M505.2 347.2 L510.0 347.2 M520.1 352.9 L520.1 353.5 M517.7 353.5 L522.5 353.5 M526.4 353.3 L526.4 353.9 M524.0 353.9 L528.8 353.9 M532.6 353.3 L532.6 353.9 M530.2 353.9 L535.0 353.9 M538.9 346.5 L538.9 346.6 M536.5 346.6 L541.3 346.6 M545.2 352.1 L545.2 352.6 M542.8 352.6 L547.6 352.6 M551.4 350.4 L551.4 350.7 M549.0 350.4 L553.8 350.4 M551.4 359.1 L551.4 360.2 M549.0 360.2 L553.8 360.2 M557.7 350.3 L557.7 350.7 M555.3 350.7 L560.1 350.7 M564.0 347.1 L564.0 347.3 M561.6 347.3 L566.4 347.3 M570.2 364.6 L570.2 366.1 M567.8 364.6 L572.6 364.6 M570.2 374.5 L570.2 377.2 M567.8 377.2 L572.6 377.2 M576.5 352.5 L576.5 353.0 M574.1 352.5 L578.9 352.5 M576.5 361.4 L576.5 362.7 M574.1 362.7 L578.9 362.7 M582.7 358.6 L582.7 359.6 M580.3 358.6 L585.1 358.6 M582.7 368.0 L582.7 370.0 M580.3 370.0 L585.1 370.0 M589.0 350.6 L589.0 351.0 M586.6 350.6 L591.4 350.6 M589.0 359.4 L589.0 360.6 M586.6 360.6 L591.4 360.6 M595.3 363.6 L595.3 365.0 M592.9 363.6 L597.7 363.6 M595.3 373.4 L595.3 376.0 M592.9 376.0 L597.7 376.0 M601.5 359.0 L601.5 360.0 M599.1 359.0 L603.9 359.0 M601.5 368.4 L601.5 370.5 M599.1 370.5 L603.9 370.5 M607.8 374.3 L607.8 376.7 M605.4 374.3 L610.2 374.3 M607.8 385.1 L607.8 389.2 M605.4 389.2 L610.2 389.2 M614.1 355.2 L614.1 355.9 M611.7 355.2 L616.5 355.2 M614.1 364.3 L614.1 365.9 M611.7 365.9 L616.5 365.9 M620.3 356.2 L620.3 357.0 M617.9 356.2 L622.7 356.2 M620.3 365.4 L620.3 367.1 M617.9 367.1 L622.7 367.1 M626.6 360.3 L626.6 361.5 M624.2 360.3 L629.0 360.3 M626.6 369.9 L626.6 372.1 M624.2 372.1 L629.0 372.1 M632.8 362.9 L632.8 364.3 M630.4 362.9 L635.2 362.9 M632.8 372.7 L632.8 375.2 M630.4 375.2 L635.2 375.2 M639.1 355.6 L639.1 356.3 M636.7 355.6 L641.5 355.6 M639.1 364.7 L639.1 366.4 M636.7 366.4 L641.5 366.4 M645.4 353.2 L645.4 353.8 M643.0 353.2 L647.8 353.2 M645.4 362.2 L645.4 363.6 M643.0 363.6 L647.8 363.6 M651.6 356.3 L651.6 357.1 M649.2 356.3 L654.0 356.3 M651.6 365.5 L651.6 367.2 M649.2 367.2 L654.0 367.2 M657.9 347.0 L657.9 347.1 M655.5 347.0 L660.3 347.0 M657.9 355.5 L657.9 356.3 M655.5 356.3 L660.3 356.3 M664.1 352.6 L664.1 353.2 M661.7 353.2 L666.5 353.2 M670.4 346.5 L670.4 346.6 M668.0 346.5 L672.8 346.5 M670.4 355.0 L670.4 355.7 M668.0 355.7 L672.8 355.7 M676.7 349.9 L676.7 350.3 M674.3 350.3 L679.1 350.3 M682.9 348.5 L682.9 348.7 M680.5 348.7 L685.3 348.7 M689.2 352.4 L689.2 352.9 M686.8 352.4 L691.6 352.4 M689.2 361.3 L689.2 362.7 M686.8 362.7 L691.6 362.7 M695.5 345.5 L695.5 345.5 M693.1 345.5 L697.9 345.5 M695.5 353.9 L695.5 354.6 M693.1 354.6 L697.9 354.6 M701.7 383.1 L701.7 386.5 M699.3 383.1 L704.1 383.1 M701.7 394.9 L701.7 400.6 M699.3 400.6 L704.1 400.6 M708.0 395.2 L708.0 400.2 M705.6 395.2 L710.4 395.2 M708.0 408.6 L708.0 417.1 M705.6 417.1 L710.4 417.1 M714.2 455.3 L714.2 473.5 M711.8 455.3 L716.6 455.3 M714.2 481.9 L714.2 675.2 M711.8 675.2 L716.6 675.2 " fill="none" stroke="#1fc887" stroke-width="1.4" stroke-dasharray="4 4"/>
<path d="M102.6 292.7 L111.0 292.7 M103.9 289.7 L109.8 295.6 M106.8 288.5 L106.8 296.9 M109.8 289.7 L103.9 295.6 " stroke="#1fc887" stroke-width="1.5" fill="none"/>
<path d="M108.9 254.9 L117.3 254.9 M110.1 252.0 L116.1 257.9 M113.1 250.7 L113.1 259.1 M116.1 252.0 L110.1 257.9 " stroke="#1fc887" stroke-width="1.5" fill="none"/>
<path d="M115.2 208.6 L123.6 208.6 M116.4 205.6 L122.3 211.6 M119.4 204.4 L119.4 212.8 M122.3 205.6 L116.4 211.6 " stroke="#1fc887" stroke-width="1.5" fill="none"/>
<path d="M121.4 190.4 L129.8 190.4 M122.6 187.4 L128.6 193.3 M125.6 186.2 L125.6 194.6 M128.6 187.4 L122.6 193.3 " stroke="#1fc887" stroke-width="1.5" fill="none"/>
<path d="M127.7 179.6 L136.1 179.6 M128.9 176.7 L134.8 182.6 M131.9 175.4 L131.9 183.8 M134.8 176.7 L128.9 182.6 " stroke="#1fc887" stroke-width="1.5" fill="none"/>
<path d="M133.9 174.5 L142.3 174.5 M135.2 171.6 L141.1 177.5 M138.1 170.3 L138.1 178.7 M141.1 171.6 L135.2 177.5 " stroke="#1fc887" stroke-width="1.5" fill="none"/>
<path d="M140.2 177.0 L148.6 177.0 M141.4 174.1 L147.4 180.0 M144.4 172.8 L144.4 181.2 M147.4 174.1 L141.4 180.0 " stroke="#1fc887" stroke-width="1.5" fill="none"/>
<path d="M146.5 180.7 L154.9 180.7 M147.7 177.7 L153.6 183.7 M150.7 176.5 L150.7 184.9 M153.6 177.7 L147.7 183.7 " stroke="#1fc887" stroke-width="1.5" fill="none"/>
<path d="M152.7 186.0 L161.1 186.0 M154.0 183.1 L159.9 189.0 M156.9 181.8 L156.9 190.2 M159.9 183.1 L154.0 189.0 " stroke="#1fc887" stroke-width="1.5" fill="none"/>
<path d="M159.0 192.3 L167.4 192.3 M160.2 189.4 L166.2 195.3 M163.2 188.1 L163.2 196.5 M166.2 189.4 L160.2 195.3 " stroke="#1fc887" stroke-width="1.5" fill="none"/>
<path d="M165.3 199.2 L173.7 199.2 M166.5 196.3 L172.4 202.2 M169.5 195.0 L169.5 203.4 M172.4 196.3 L166.5 202.2 " stroke="#1fc887" stroke-width="1.5" fill="none"/>
<path d="M171.5 207.3 L179.9 207.3 M172.7 204.3 L178.7 210.3 M175.7 203.1 L175.7 211.5 M178.7 204.3 L172.7 210.3 " stroke="#1fc887" stroke-width="1.5" fill="none"/>
<path d="M177.8 213.8 L186.2 213.8 M179.0 210.8 L184.9 216.8 M182.0 209.6 L182.0 218.0 M184.9 210.8 L179.0 216.8 " stroke="#1fc887" stroke-width="1.5" fill="none"/>
<path d="M184.0 220.4 L192.4 220.4 M185.3 217.4 L191.2 223.4 M188.2 216.2 L188.2 224.6 M191.2 217.4 L185.3 223.4 " stroke="#1fc887" stroke-width="1.5" fill="none"/>
<path d="M190.3 226.6 L198.7 226.6 M191.5 223.6 L197.5 229.6 M194.5 222.4 L194.5 230.8 M197.5 223.6 L191.5 229.6 " stroke="#1fc887" stroke-width="1.5" fill="none"/>
<path d="M196.6 232.4 L205.0 232.4 M197.8 229.5 L203.7 235.4 M200.8 228.2 L200.8 236.6 M203.7 229.5 L197.8 235.4 " stroke="#1fc887" stroke-width="1.5" fill="none"/>
<path d="M202.8 239.6 L211.2 239.6 M204.1 236.6 L210.0 242.5 M207.0 235.4 L207.0 243.8 M210.0 236.6 L204.1 242.5 " stroke="#1fc887" stroke-width="1.5" fill="none"/>
<path d="M209.1 246.0 L217.5 246.0 M210.3 243.0 L216.3 249.0 M213.3 241.8 L213.3 250.2 M216.3 243.0 L210.3 249.0 " stroke="#1fc887" stroke-width="1.5" fill="none"/>
<path d="M215.3 253.1 L223.7 253.1 M216.6 250.1 L222.5 256.1 M219.5 248.9 L219.5 257.3 M222.5 250.1 L216.6 256.1 " stroke="#1fc887" stroke-width="1.5" fill="none"/>
<path d="M221.6 257.6 L230.0 257.6 M222.8 254.6 L228.8 260.6 M225.8 253.4 L225.8 261.8 M228.8 254.6 L222.8 260.6 " stroke="#1fc887" stroke-width="1.5" fill="none"/>
<path d="M227.9 263.6 L236.3 263.6 M229.1 260.7 L235.0 266.6 M232.1 259.4 L232.1 267.8 M235.0 260.7 L229.1 266.6 " stroke="#1fc887" stroke-width="1.5" fill="none"/>
<path d="M234.1 266.1 L242.5 266.1 M235.4 263.2 L241.3 269.1 M238.3 261.9 L238.3 270.3 M241.3 263.2 L235.4 269.1 " stroke="#1fc887" stroke-width="1.5" fill="none"/>
<path d="M240.4 273.8 L248.8 273.8 M241.6 270.8 L247.6 276.8 M244.6 269.6 L244.6 278.0 M247.6 270.8 L241.6 276.8 " stroke="#1fc887" stroke-width="1.5" fill="none"/>
<path d="M246.7 275.8 L255.1 275.8 M247.9 272.8 L253.8 278.8 M250.9 271.6 L250.9 280.0 M253.8 272.8 L247.9 278.8 " stroke="#1fc887" stroke-width="1.5" fill="none"/>
<path d="M252.9 283.9 L261.3 283.9 M254.1 280.9 L260.1 286.9 M257.1 279.7 L257.1 288.1 M260.1 280.9 L254.1 286.9 " stroke="#1fc887" stroke-width="1.5" fill="none"/>
<path d="M259.2 281.3 L267.6 281.3 M260.4 278.3 L266.4 284.2 M263.4 277.1 L263.4 285.5 M266.4 278.3 L260.4 284.2 " stroke="#1fc887" stroke-width="1.5" fill="none"/>
<path d="M265.4 282.5 L273.8 282.5 M266.7 279.6 L272.6 285.5 M269.6 278.3 L269.6 286.7 M272.6 279.6 L266.7 285.5 " stroke="#1fc887" stroke-width="1.5" fill="none"/>
<path d="M271.7 289.1 L280.1 289.1 M272.9 286.1 L278.9 292.0 M275.9 284.9 L275.9 293.3 M278.9 286.1 L272.9 292.0 " stroke="#1fc887" stroke-width="1.5" fill="none"/>
<path d="M278.0 291.0 L286.4 291.0 M279.2 288.0 L285.1 294.0 M282.2 286.8 L282.2 295.2 M285.1 288.0 L279.2 294.0 " stroke="#1fc887" stroke-width="1.5" fill="none"/>
<path d="M284.2 288.4 L292.6 288.4 M285.5 285.4 L291.4 291.3 M288.4 284.2 L288.4 292.6 M291.4 285.4 L285.5 291.3 " stroke="#1fc887" stroke-width="1.5" fill="none"/>
<path d="M290.5 295.7 L298.9 295.7 M291.7 292.7 L297.7 298.7 M294.7 291.5 L294.7 299.9 M297.7 292.7 L291.7 298.7 " stroke="#1fc887" stroke-width="1.5" fill="none"/>
<path d="M296.8 298.7 L305.2 298.7 M298.0 295.7 L303.9 301.7 M301.0 294.5 L301.0 302.9 M303.9 295.7 L298.0 301.7 " stroke="#1fc887" stroke-width="1.5" fill="none"/>
<path d="M303.0 298.7 L311.4 298.7 M304.2 295.7 L310.2 301.7 M307.2 294.5 L307.2 302.9 M310.2 295.7 L304.2 301.7 " stroke="#1fc887" stroke-width="1.5" fill="none"/>
<path d="M309.3 300.2 L317.7 300.2 M310.5 297.2 L316.4 303.1 M313.5 296.0 L313.5 304.4 M316.4 297.2 L310.5 303.1 " stroke="#1fc887" stroke-width="1.5" fill="none"/>
<path d="M315.5 299.4 L323.9 299.4 M316.8 296.4 L322.7 302.4 M319.7 295.2 L319.7 303.6 M322.7 296.4 L316.8 302.4 " stroke="#1fc887" stroke-width="1.5" fill="none"/>
<path d="M321.8 304.7 L330.2 304.7 M323.0 301.8 L329.0 307.7 M326.0 300.5 L326.0 308.9 M329.0 301.8 L323.0 307.7 " stroke="#1fc887" stroke-width="1.5" fill="none"/>
<path d="M328.1 304.2 L336.5 304.2 M329.3 301.2 L335.2 307.1 M332.3 300.0 L332.3 308.4 M335.2 301.2 L329.3 307.1 " stroke="#1fc887" stroke-width="1.5" fill="none"/>
<path d="M334.3 306.1 L342.7 306.1 M335.6 303.1 L341.5 309.0 M338.5 301.9 L338.5 310.3 M341.5 303.1 L335.6 309.0 " stroke="#1fc887" stroke-width="1.5" fill="none"/>
<path d="M340.6 306.1 L349.0 306.1 M341.8 303.1 L347.8 309.1 M344.8 301.9 L344.8 310.3 M347.8 303.1 L341.8 309.1 " stroke="#1fc887" stroke-width="1.5" fill="none"/>
<path d="M346.8 307.9 L355.2 307.9 M348.1 304.9 L354.0 310.9 M351.0 303.7 L351.0 312.1 M354.0 304.9 L348.1 310.9 " stroke="#1fc887" stroke-width="1.5" fill="none"/>
<path d="M353.1 310.2 L361.5 310.2 M354.3 307.2 L360.3 313.1 M357.3 306.0 L357.3 314.4 M360.3 307.2 L354.3 313.1 " stroke="#1fc887" stroke-width="1.5" fill="none"/>
<path d="M359.4 315.3 L367.8 315.3 M360.6 312.3 L366.5 318.2 M363.6 311.1 L363.6 319.5 M366.5 312.3 L360.6 318.2 " stroke="#1fc887" stroke-width="1.5" fill="none"/>
<path d="M365.6 312.5 L374.0 312.5 M366.9 309.5 L372.8 315.5 M369.8 308.3 L369.8 316.7 M372.8 309.5 L366.9 315.5 " stroke="#1fc887" stroke-width="1.5" fill="none"/>
<path d="M371.9 311.0 L380.3 311.0 M373.1 308.0 L379.1 313.9 M376.1 306.8 L376.1 315.2 M379.1 308.0 L373.1 313.9 " stroke="#1fc887" stroke-width="1.5" fill="none"/>
<path d="M378.2 308.2 L386.6 308.2 M379.4 305.3 L385.3 311.2 M382.4 304.0 L382.4 312.4 M385.3 305.3 L379.4 311.2 " stroke="#1fc887" stroke-width="1.5" fill="none"/>
<path d="M384.4 314.0 L392.8 314.0 M385.7 311.0 L391.6 316.9 M388.6 309.8 L388.6 318.2 M391.6 311.0 L385.7 316.9 " stroke="#1fc887" stroke-width="1.5" fill="none"/>
<path d="M390.7 319.2 L399.1 319.2 M391.9 316.3 L397.9 322.2 M394.9 315.0 L394.9 323.4 M397.9 316.3 L391.9 322.2 " stroke="#1fc887" stroke-width="1.5" fill="none"/>
<path d="M396.9 323.3 L405.3 323.3 M398.2 320.4 L404.1 326.3 M401.1 319.1 L401.1 327.5 M404.1 320.4 L398.2 326.3 " stroke="#1fc887" stroke-width="1.5" fill="none"/>
<path d="M403.2 322.3 L411.6 322.3 M404.4 319.3 L410.4 325.3 M407.4 318.1 L407.4 326.5 M410.4 319.3 L404.4 325.3 " stroke="#1fc887" stroke-width="1.5" fill="none"/>
<path d="M409.5 317.5 L417.9 317.5 M410.7 314.5 L416.6 320.5 M413.7 313.3 L413.7 321.7 M416.6 314.5 L410.7 320.5 " stroke="#1fc887" stroke-width="1.5" fill="none"/>
<path d="M415.7 318.9 L424.1 318.9 M417.0 315.9 L422.9 321.9 M419.9 314.7 L419.9 323.1 M422.9 315.9 L417.0 321.9 " stroke="#1fc887" stroke-width="1.5" fill="none"/>
<path d="M422.0 326.5 L430.4 326.5 M423.2 323.5 L429.2 329.5 M426.2 322.3 L426.2 330.7 M429.2 323.5 L423.2 329.5 " stroke="#1fc887" stroke-width="1.5" fill="none"/>
<path d="M428.3 325.0 L436.7 325.0 M429.5 322.0 L435.4 328.0 M432.5 320.8 L432.5 329.2 M435.4 322.0 L429.5 328.0 " stroke="#1fc887" stroke-width="1.5" fill="none"/>
<path d="M434.5 325.4 L442.9 325.4 M435.7 322.4 L441.7 328.4 M438.7 321.2 L438.7 329.6 M441.7 322.4 L435.7 328.4 " stroke="#1fc887" stroke-width="1.5" fill="none"/>
<path d="M440.8 325.7 L449.2 325.7 M442.0 322.8 L447.9 328.7 M445.0 321.5 L445.0 329.9 M447.9 322.8 L442.0 328.7 " stroke="#1fc887" stroke-width="1.5" fill="none"/>
<path d="M447.0 333.4 L455.4 333.4 M448.3 330.4 L454.2 336.3 M451.2 329.2 L451.2 337.6 M454.2 330.4 L448.3 336.3 " stroke="#1fc887" stroke-width="1.5" fill="none"/>
<path d="M453.3 334.8 L461.7 334.8 M454.5 331.8 L460.5 337.8 M457.5 330.6 L457.5 339.0 M460.5 331.8 L454.5 337.8 " stroke="#1fc887" stroke-width="1.5" fill="none"/>
<path d="M459.6 333.0 L468.0 333.0 M460.8 330.1 L466.7 336.0 M463.8 328.8 L463.8 337.2 M466.7 330.1 L460.8 336.0 " stroke="#1fc887" stroke-width="1.5" fill="none"/>
<path d="M465.8 334.4 L474.2 334.4 M467.1 331.4 L473.0 337.3 M470.0 330.2 L470.0 338.6 M473.0 331.4 L467.1 337.3 " stroke="#1fc887" stroke-width="1.5" fill="none"/>
<path d="M472.1 327.4 L480.5 327.4 M473.3 324.5 L479.3 330.4 M476.3 323.2 L476.3 331.6 M479.3 324.5 L473.3 330.4 " stroke="#1fc887" stroke-width="1.5" fill="none"/>
<path d="M478.4 337.4 L486.8 337.4 M479.6 334.4 L485.5 340.4 M482.6 333.2 L482.6 341.6 M485.5 334.4 L479.6 340.4 " stroke="#1fc887" stroke-width="1.5" fill="none"/>
<path d="M484.6 342.7 L493.0 342.7 M485.8 339.7 L491.8 345.7 M488.8 338.5 L488.8 346.9 M491.8 339.7 L485.8 345.7 " stroke="#1fc887" stroke-width="1.5" fill="none"/>
<path d="M490.9 340.3 L499.3 340.3 M492.1 337.3 L498.0 343.3 M495.1 336.1 L495.1 344.5 M498.0 337.3 L492.1 343.3 " stroke="#1fc887" stroke-width="1.5" fill="none"/>
<path d="M497.1 341.3 L505.5 341.3 M498.4 338.3 L504.3 344.2 M501.3 337.1 L501.3 345.5 M504.3 338.3 L498.4 344.2 " stroke="#1fc887" stroke-width="1.5" fill="none"/>
<path d="M503.4 342.9 L511.8 342.9 M504.6 339.9 L510.6 345.9 M507.6 338.7 L507.6 347.1 M510.6 339.9 L504.6 345.9 " stroke="#1fc887" stroke-width="1.5" fill="none"/>
<path d="M509.7 337.1 L518.1 337.1 M510.9 334.2 L516.8 340.1 M513.9 332.9 L513.9 341.3 M516.8 334.2 L510.9 340.1 " stroke="#1fc887" stroke-width="1.5" fill="none"/>
<path d="M515.9 348.7 L524.3 348.7 M517.2 345.8 L523.1 351.7 M520.1 344.5 L520.1 352.9 M523.1 345.8 L517.2 351.7 " stroke="#1fc887" stroke-width="1.5" fill="none"/>
<path d="M522.2 349.1 L530.6 349.1 M523.4 346.1 L529.4 352.0 M526.4 344.9 L526.4 353.3 M529.4 346.1 L523.4 352.0 " stroke="#1fc887" stroke-width="1.5" fill="none"/>
<path d="M528.4 349.1 L536.8 349.1 M529.7 346.1 L535.6 352.0 M532.6 344.9 L532.6 353.3 M535.6 346.1 L529.7 352.0 " stroke="#1fc887" stroke-width="1.5" fill="none"/>
<path d="M534.7 342.3 L543.1 342.3 M535.9 339.3 L541.9 345.3 M538.9 338.1 L538.9 346.5 M541.9 339.3 L535.9 345.3 " stroke="#1fc887" stroke-width="1.5" fill="none"/>
<path d="M541.0 347.9 L549.4 347.9 M542.2 344.9 L548.1 350.9 M545.2 343.7 L545.2 352.1 M548.1 344.9 L542.2 350.9 " stroke="#1fc887" stroke-width="1.5" fill="none"/>
<path d="M547.2 354.9 L555.6 354.9 M548.5 352.0 L554.4 357.9 M551.4 350.7 L551.4 359.1 M554.4 352.0 L548.5 357.9 " stroke="#1fc887" stroke-width="1.5" fill="none"/>
<path d="M553.5 346.1 L561.9 346.1 M554.7 343.1 L560.7 349.0 M557.7 341.9 L557.7 350.3 M560.7 343.1 L554.7 349.0 " stroke="#1fc887" stroke-width="1.5" fill="none"/>
<path d="M559.8 342.9 L568.2 342.9 M561.0 339.9 L566.9 345.9 M564.0 338.7 L564.0 347.1 M566.9 339.9 L561.0 345.9 " stroke="#1fc887" stroke-width="1.5" fill="none"/>
<path d="M566.0 370.3 L574.4 370.3 M567.2 367.3 L573.2 373.2 M570.2 366.1 L570.2 374.5 M573.2 367.3 L567.2 373.2 " stroke="#1fc887" stroke-width="1.5" fill="none"/>
<path d="M572.3 357.2 L580.7 357.2 M573.5 354.2 L579.5 360.2 M576.5 353.0 L576.5 361.4 M579.5 354.2 L573.5 360.2 " stroke="#1fc887" stroke-width="1.5" fill="none"/>
<path d="M578.5 363.8 L586.9 363.8 M579.8 360.9 L585.7 366.8 M582.7 359.6 L582.7 368.0 M585.7 360.9 L579.8 366.8 " stroke="#1fc887" stroke-width="1.5" fill="none"/>
<path d="M584.8 355.2 L593.2 355.2 M586.0 352.2 L592.0 358.2 M589.0 351.0 L589.0 359.4 M592.0 352.2 L586.0 358.2 " stroke="#1fc887" stroke-width="1.5" fill="none"/>
<path d="M591.1 369.2 L599.5 369.2 M592.3 366.2 L598.2 372.1 M595.3 365.0 L595.3 373.4 M598.2 366.2 L592.3 372.1 " stroke="#1fc887" stroke-width="1.5" fill="none"/>
<path d="M597.3 364.2 L605.7 364.2 M598.6 361.3 L604.5 367.2 M601.5 360.0 L601.5 368.4 M604.5 361.3 L598.6 367.2 " stroke="#1fc887" stroke-width="1.5" fill="none"/>
<path d="M603.6 380.9 L612.0 380.9 M604.8 377.9 L610.8 383.9 M607.8 376.7 L607.8 385.1 M610.8 377.9 L604.8 383.9 " stroke="#1fc887" stroke-width="1.5" fill="none"/>
<path d="M609.9 360.1 L618.3 360.1 M611.1 357.1 L617.0 363.1 M614.1 355.9 L614.1 364.3 M617.0 357.1 L611.1 363.1 " stroke="#1fc887" stroke-width="1.5" fill="none"/>
<path d="M616.1 361.2 L624.5 361.2 M617.3 358.2 L623.3 364.2 M620.3 357.0 L620.3 365.4 M623.3 358.2 L617.3 364.2 " stroke="#1fc887" stroke-width="1.5" fill="none"/>
<path d="M622.4 365.7 L630.8 365.7 M623.6 362.7 L629.5 368.6 M626.6 361.5 L626.6 369.9 M629.5 362.7 L623.6 368.6 " stroke="#1fc887" stroke-width="1.5" fill="none"/>
<path d="M628.6 368.5 L637.0 368.5 M629.9 365.5 L635.8 371.5 M632.8 364.3 L632.8 372.7 M635.8 365.5 L629.9 371.5 " stroke="#1fc887" stroke-width="1.5" fill="none"/>
<path d="M634.9 360.5 L643.3 360.5 M636.1 357.5 L642.1 363.5 M639.1 356.3 L639.1 364.7 M642.1 357.5 L636.1 363.5 " stroke="#1fc887" stroke-width="1.5" fill="none"/>
<path d="M641.2 358.0 L649.6 358.0 M642.4 355.0 L648.3 360.9 M645.4 353.8 L645.4 362.2 M648.3 355.0 L642.4 360.9 " stroke="#1fc887" stroke-width="1.5" fill="none"/>
<path d="M647.4 361.3 L655.8 361.3 M648.7 358.4 L654.6 364.3 M651.6 357.1 L651.6 365.5 M654.6 358.4 L648.7 364.3 " stroke="#1fc887" stroke-width="1.5" fill="none"/>
<path d="M653.7 351.3 L662.1 351.3 M654.9 348.3 L660.9 354.3 M657.9 347.1 L657.9 355.5 M660.9 348.3 L654.9 354.3 " stroke="#1fc887" stroke-width="1.5" fill="none"/>
<path d="M659.9 348.4 L668.3 348.4 M661.2 345.4 L667.1 351.4 M664.1 344.2 L664.1 352.6 M667.1 345.4 L661.2 351.4 " stroke="#1fc887" stroke-width="1.5" fill="none"/>
<path d="M666.2 350.8 L674.6 350.8 M667.4 347.8 L673.4 353.8 M670.4 346.6 L670.4 355.0 M673.4 347.8 L667.4 353.8 " stroke="#1fc887" stroke-width="1.5" fill="none"/>
<path d="M672.5 345.7 L680.9 345.7 M673.7 342.7 L679.6 348.7 M676.7 341.5 L676.7 349.9 M679.6 342.7 L673.7 348.7 " stroke="#1fc887" stroke-width="1.5" fill="none"/>
<path d="M678.7 344.3 L687.1 344.3 M680.0 341.3 L685.9 347.2 M682.9 340.1 L682.9 348.5 M685.9 341.3 L680.0 347.2 " stroke="#1fc887" stroke-width="1.5" fill="none"/>
<path d="M685.0 357.1 L693.4 357.1 M686.2 354.2 L692.2 360.1 M689.2 352.9 L689.2 361.3 M692.2 354.2 L686.2 360.1 " stroke="#1fc887" stroke-width="1.5" fill="none"/>
<path d="M691.3 349.7 L699.7 349.7 M692.5 346.8 L698.4 352.7 M695.5 345.5 L695.5 353.9 M698.4 346.8 L692.5 352.7 " stroke="#1fc887" stroke-width="1.5" fill="none"/>
<path d="M697.5 390.7 L705.9 390.7 M698.8 387.7 L704.7 393.6 M701.7 386.5 L701.7 394.9 M704.7 387.7 L698.8 393.6 " stroke="#1fc887" stroke-width="1.5" fill="none"/>
<path d="M703.8 404.4 L712.2 404.4 M705.0 401.4 L711.0 407.3 M708.0 400.2 L708.0 408.6 M711.0 401.4 L705.0 407.3 " stroke="#1fc887" stroke-width="1.5" fill="none"/>
<path d="M710.0 477.7 L718.4 477.7 M711.3 474.7 L717.2 480.7 M714.2 473.5 L714.2 481.9 M717.2 474.7 L711.3 480.7 " stroke="#1fc887" stroke-width="1.5" fill="none"/>
<polyline points="106.8,294.0 113.1,268.9 119.4,220.6 125.6,196.0 131.9,182.1 138.1,176.0 144.4,175.9 150.7,178.5 156.9,183.2 163.2,189.7 169.5,197.2 175.7,204.7 182.0,211.7 188.2,218.5 194.5,225.9 200.8,230.6 207.0,235.3 213.3,244.5 219.5,249.7 225.8,255.4 232.1,261.8 238.3,266.2 244.6,271.0 250.9,274.7 257.1,277.2 263.4,280.4 269.6,280.6 275.9,286.9 282.2,291.5 288.4,290.9 294.7,299.7 301.0,297.9 307.2,295.5 313.5,304.2 319.7,305.1 326.0,305.2 332.3,307.4 338.5,303.6 344.8,306.3 351.0,305.9 357.3,311.9 363.6,314.2 369.8,311.5 376.1,313.6 382.4,317.4 388.6,317.6 394.9,318.3 401.1,314.8 407.4,320.5 413.7,315.1 419.9,324.9 426.2,324.4 432.5,326.9 438.7,332.3 445.0,330.8 451.2,329.9 457.5,333.1 463.8,339.1 470.0,334.6 476.3,339.7 482.6,336.3 488.8,335.0 495.1,336.6 501.3,338.9 507.6,331.5 513.9,344.5 520.1,341.8 526.4,346.2 532.6,341.3 538.9,354.1 545.2,355.9 551.4,342.9 557.7,347.9 564.0,354.8 570.2,361.8 576.5,353.4 582.7,348.9 589.0,350.5 595.3,374.2 601.5,356.7 607.8,362.3 614.1,375.8 620.3,372.6 626.6,368.4 632.8,358.1 639.1,365.6 645.4,363.8 651.6,353.7 657.9,348.4 664.1,351.9 670.4,347.4 676.7,340.1 682.9,344.8 689.2,346.7 695.5,358.8 701.7,355.6 708.0,387.7 714.2,423.7 720.5,453.5" fill="none" stroke="#ff7f32" stroke-width="1.5" stroke-dasharray="7 4 2 4"/>
<path d="M476.3 343.8 L476.3 343.8 M473.9 343.8 L478.7 343.8 M513.9 348.6 L513.9 348.9 M511.5 348.9 L516.3 348.9 M520.1 345.9 L520.1 346.1 M517.7 346.1 L522.5 346.1 M526.4 350.3 L526.4 350.8 M524.0 350.8 L528.8 350.8 M532.6 345.4 L532.6 345.6 M530.2 345.6 L535.0 345.6 M538.9 349.6 L538.9 350.0 M536.5 349.6 L541.3 349.6 M538.9 358.2 L538.9 359.4 M536.5 359.4 L541.3 359.4 M545.2 351.2 L545.2 351.8 M542.8 351.2 L547.6 351.2 M545.2 360.0 L545.2 361.3 M542.8 361.3 L547.6 361.3 M551.4 347.0 L551.4 347.3 M549.0 347.3 L553.8 347.3 M557.7 343.8 L557.7 343.8 M555.3 343.8 L560.1 343.8 M557.7 352.0 L557.7 352.6 M555.3 352.6 L560.1 352.6 M564.0 350.2 L564.0 350.7 M561.6 350.2 L566.4 350.2 M564.0 358.9 L564.0 360.1 M561.6 360.1 L566.4 360.1 M570.2 356.8 L570.2 357.7 M567.8 356.8 L572.6 356.8 M570.2 365.9 L570.2 367.8 M567.8 367.8 L572.6 367.8 M576.5 349.0 L576.5 349.3 M574.1 349.0 L578.9 349.0 M576.5 357.5 L576.5 358.6 M574.1 358.6 L578.9 358.6 M582.7 344.7 L582.7 344.8 M580.3 344.7 L585.1 344.7 M582.7 353.0 L582.7 353.7 M580.3 353.7 L585.1 353.7 M589.0 346.2 L589.0 346.4 M586.6 346.2 L591.4 346.2 M589.0 354.6 L589.0 355.4 M586.6 355.4 L591.4 355.4 M595.3 368.2 L595.3 370.1 M592.9 368.2 L597.7 368.2 M595.3 378.3 L595.3 381.6 M592.9 381.6 L597.7 381.6 M601.5 352.1 L601.5 352.6 M599.1 352.1 L603.9 352.1 M601.5 360.8 L601.5 362.2 M599.1 362.2 L603.9 362.2 M607.8 357.2 L607.8 358.2 M605.4 357.2 L610.2 357.2 M607.8 366.4 L607.8 368.3 M605.4 368.3 L610.2 368.3 M614.1 369.6 L614.1 371.7 M611.7 369.6 L616.5 369.6 M614.1 379.9 L614.1 383.4 M611.7 383.4 L616.5 383.4 M620.3 366.7 L620.3 368.5 M617.9 366.7 L622.7 366.7 M620.3 376.7 L620.3 379.8 M617.9 379.8 L622.7 379.8 M626.6 362.9 L626.6 364.3 M624.2 362.9 L629.0 362.9 M626.6 372.5 L626.6 375.1 M624.2 375.1 L629.0 375.1 M632.8 353.3 L632.8 354.0 M630.4 353.3 L635.2 353.3 M632.8 362.2 L632.8 363.7 M630.4 363.7 L635.2 363.7 M639.1 360.3 L639.1 361.5 M636.7 360.3 L641.5 360.3 M639.1 369.7 L639.1 372.0 M636.7 372.0 L641.5 372.0 M645.4 358.6 L645.4 359.7 M643.0 358.6 L647.8 358.6 M645.4 367.9 L645.4 369.9 M643.0 369.9 L647.8 369.9 M651.6 349.3 L651.6 349.6 M649.2 349.3 L654.0 349.3 M651.6 357.8 L651.6 359.0 M649.2 359.0 L654.0 359.0 M657.9 344.2 L657.9 344.3 M655.5 344.2 L660.3 344.2 M657.9 352.5 L657.9 353.1 M655.5 353.1 L660.3 353.1 M664.1 347.5 L664.1 347.8 M661.7 347.5 L666.5 347.5 M664.1 356.0 L664.1 356.9 M661.7 356.9 L666.5 356.9 M670.4 351.5 L670.4 352.1 M668.0 352.1 L672.8 352.1 M676.7 344.2 L676.7 344.3 M674.3 344.3 L679.1 344.3 M682.9 348.9 L682.9 349.3 M680.5 349.3 L685.3 349.3 M689.2 350.8 L689.2 351.4 M686.8 351.4 L691.6 351.4 M695.5 354.0 L695.5 354.7 M693.1 354.0 L697.9 354.0 M695.5 362.9 L695.5 364.5 M693.1 364.5 L697.9 364.5 M701.7 351.0 L701.7 351.5 M699.3 351.0 L704.1 351.0 M701.7 359.7 L701.7 361.0 M699.3 361.0 L704.1 361.0 M708.0 380.4 L708.0 383.6 M705.6 380.4 L710.4 380.4 M708.0 391.8 L708.0 397.1 M705.6 397.1 L710.4 397.1 M714.2 411.9 L714.2 419.6 M711.8 411.9 L716.6 411.9 M714.2 427.8 L714.2 442.4 M711.8 442.4 L716.6 442.4 M720.5 436.4 L720.5 449.4 M718.1 436.4 L722.9 436.4 M720.5 457.6 L720.5 492.3 M718.1 492.3 L722.9 492.3 " fill="none" stroke="#ff7f32" stroke-width="1.4" stroke-dasharray="7 4 2 4"/>
<rect x="102.7" y="289.9" width="8.2" height="8.2" fill="#ff7f32"/>
<rect x="109.0" y="264.8" width="8.2" height="8.2" fill="#ff7f32"/>
<rect x="115.3" y="216.5" width="8.2" height="8.2" fill="#ff7f32"/>
<rect x="121.5" y="191.9" width="8.2" height="8.2" fill="#ff7f32"/>
<rect x="127.8" y="178.0" width="8.2" height="8.2" fill="#ff7f32"/>
<rect x="134.0" y="171.9" width="8.2" height="8.2" fill="#ff7f32"/>
<rect x="140.3" y="171.8" width="8.2" height="8.2" fill="#ff7f32"/>
<rect x="146.6" y="174.4" width="8.2" height="8.2" fill="#ff7f32"/>
<rect x="152.8" y="179.1" width="8.2" height="8.2" fill="#ff7f32"/>
<rect x="159.1" y="185.6" width="8.2" height="8.2" fill="#ff7f32"/>
<rect x="165.4" y="193.1" width="8.2" height="8.2" fill="#ff7f32"/>
<rect x="171.6" y="200.6" width="8.2" height="8.2" fill="#ff7f32"/>
<rect x="177.9" y="207.6" width="8.2" height="8.2" fill="#ff7f32"/>
<rect x="184.1" y="214.4" width="8.2" height="8.2" fill="#ff7f32"/>
<rect x="190.4" y="221.8" width="8.2" height="8.2" fill="#ff7f32"/>
<rect x="196.7" y="226.5" width="8.2" height="8.2" fill="#ff7f32"/>
<rect x="202.9" y="231.2" width="8.2" height="8.2" fill="#ff7f32"/>
<rect x="209.2" y="240.4" width="8.2" height="8.2" fill="#ff7f32"/>
<rect x="215.4" y="245.6" width="8.2" height="8.2" fill="#ff7f32"/>
<rect x="221.7" y="251.3" width="8.2" height="8.2" fill="#ff7f32"/>
<rect x="228.0" y="257.7" width="8.2" height="8.2" fill="#ff7f32"/>
<rect x="234.2" y="262.1" width="8.2" height="8.2" fill="#ff7f32"/>
<rect x="240.5" y="266.9" width="8.2" height="8.2" fill="#ff7f32"/>
<rect x="246.8" y="270.6" width="8.2" height="8.2" fill="#ff7f32"/>
<rect x="253.0" y="273.1" width="8.2" height="8.2" fill="#ff7f32"/>
<rect x="259.3" y="276.3" width="8.2" height="8.2" fill="#ff7f32"/>
<rect x="265.5" y="276.5" width="8.2" height="8.2" fill="#ff7f32"/>
<rect x="271.8" y="282.8" width="8.2" height="8.2" fill="#ff7f32"/>
<rect x="278.1" y="287.4" width="8.2" height="8.2" fill="#ff7f32"/>
<rect x="284.3" y="286.8" width="8.2" height="8.2" fill="#ff7f32"/>
<rect x="290.6" y="295.6" width="8.2" height="8.2" fill="#ff7f32"/>
<rect x="296.9" y="293.8" width="8.2" height="8.2" fill="#ff7f32"/>
<rect x="303.1" y="291.4" width="8.2" height="8.2" fill="#ff7f32"/>
<rect x="309.4" y="300.1" width="8.2" height="8.2" fill="#ff7f32"/>
<rect x="315.6" y="301.0" width="8.2" height="8.2" fill="#ff7f32"/>
<rect x="321.9" y="301.1" width="8.2" height="8.2" fill="#ff7f32"/>
<rect x="328.2" y="303.3" width="8.2" height="8.2" fill="#ff7f32"/>
<rect x="334.4" y="299.5" width="8.2" height="8.2" fill="#ff7f32"/>
<rect x="340.7" y="302.2" width="8.2" height="8.2" fill="#ff7f32"/>
<rect x="346.9" y="301.8" width="8.2" height="8.2" fill="#ff7f32"/>
<rect x="353.2" y="307.8" width="8.2" height="8.2" fill="#ff7f32"/>
<rect x="359.5" y="310.1" width="8.2" height="8.2" fill="#ff7f32"/>
<rect x="365.7" y="307.4" width="8.2" height="8.2" fill="#ff7f32"/>
<rect x="372.0" y="309.5" width="8.2" height="8.2" fill="#ff7f32"/>
<rect x="378.3" y="313.3" width="8.2" height="8.2" fill="#ff7f32"/>
<rect x="384.5" y="313.5" width="8.2" height="8.2" fill="#ff7f32"/>
<rect x="390.8" y="314.2" width="8.2" height="8.2" fill="#ff7f32"/>
<rect x="397.0" y="310.7" width="8.2" height="8.2" fill="#ff7f32"/>
<rect x="403.3" y="316.4" width="8.2" height="8.2" fill="#ff7f32"/>
<rect x="409.6" y="311.0" width="8.2" height="8.2" fill="#ff7f32"/>
<rect x="415.8" y="320.8" width="8.2" height="8.2" fill="#ff7f32"/>
<rect x="422.1" y="320.3" width="8.2" height="8.2" fill="#ff7f32"/>
<rect x="428.4" y="322.8" width="8.2" height="8.2" fill="#ff7f32"/>
<rect x="434.6" y="328.2" width="8.2" height="8.2" fill="#ff7f32"/>
<rect x="440.9" y="326.7" width="8.2" height="8.2" fill="#ff7f32"/>
<rect x="447.1" y="325.8" width="8.2" height="8.2" fill="#ff7f32"/>
<rect x="453.4" y="329.0" width="8.2" height="8.2" fill="#ff7f32"/>
<rect x="459.7" y="335.0" width="8.2" height="8.2" fill="#ff7f32"/>
<rect x="465.9" y="330.5" width="8.2" height="8.2" fill="#ff7f32"/>
<rect x="472.2" y="335.6" width="8.2" height="8.2" fill="#ff7f32"/>
<rect x="478.5" y="332.2" width="8.2" height="8.2" fill="#ff7f32"/>
<rect x="484.7" y="330.9" width="8.2" height="8.2" fill="#ff7f32"/>
<rect x="491.0" y="332.5" width="8.2" height="8.2" fill="#ff7f32"/>
<rect x="497.2" y="334.8" width="8.2" height="8.2" fill="#ff7f32"/>
<rect x="503.5" y="327.4" width="8.2" height="8.2" fill="#ff7f32"/>
<rect x="509.8" y="340.4" width="8.2" height="8.2" fill="#ff7f32"/>
<rect x="516.0" y="337.7" width="8.2" height="8.2" fill="#ff7f32"/>
<rect x="522.3" y="342.1" width="8.2" height="8.2" fill="#ff7f32"/>
<rect x="528.5" y="337.2" width="8.2" height="8.2" fill="#ff7f32"/>
<rect x="534.8" y="350.0" width="8.2" height="8.2" fill="#ff7f32"/>
<rect x="541.1" y="351.8" width="8.2" height="8.2" fill="#ff7f32"/>
<rect x="547.3" y="338.8" width="8.2" height="8.2" fill="#ff7f32"/>
<rect x="553.6" y="343.8" width="8.2" height="8.2" fill="#ff7f32"/>
<rect x="559.9" y="350.7" width="8.2" height="8.2" fill="#ff7f32"/>
<rect x="566.1" y="357.7" width="8.2" height="8.2" fill="#ff7f32"/>
<rect x="572.4" y="349.3" width="8.2" height="8.2" fill="#ff7f32"/>
<rect x="578.6" y="344.8" width="8.2" height="8.2" fill="#ff7f32"/>
<rect x="584.9" y="346.4" width="8.2" height="8.2" fill="#ff7f32"/>
<rect x="591.2" y="370.1" width="8.2" height="8.2" fill="#ff7f32"/>
<rect x="597.4" y="352.6" width="8.2" height="8.2" fill="#ff7f32"/>
<rect x="603.7" y="358.2" width="8.2" height="8.2" fill="#ff7f32"/>
<rect x="610.0" y="371.7" width="8.2" height="8.2" fill="#ff7f32"/>
<rect x="616.2" y="368.5" width="8.2" height="8.2" fill="#ff7f32"/>
<rect x="622.5" y="364.3" width="8.2" height="8.2" fill="#ff7f32"/>
<rect x="628.7" y="354.0" width="8.2" height="8.2" fill="#ff7f32"/>
<rect x="635.0" y="361.5" width="8.2" height="8.2" fill="#ff7f32"/>
<rect x="641.3" y="359.7" width="8.2" height="8.2" fill="#ff7f32"/>
<rect x="647.5" y="349.6" width="8.2" height="8.2" fill="#ff7f32"/>
<rect x="653.8" y="344.3" width="8.2" height="8.2" fill="#ff7f32"/>
<rect x="660.0" y="347.8" width="8.2" height="8.2" fill="#ff7f32"/>
<rect x="666.3" y="343.3" width="8.2" height="8.2" fill="#ff7f32"/>
<rect x="672.6" y="336.0" width="8.2" height="8.2" fill="#ff7f32"/>
<rect x="678.8" y="340.7" width="8.2" height="8.2" fill="#ff7f32"/>
<rect x="685.1" y="342.6" width="8.2" height="8.2" fill="#ff7f32"/>
<rect x="691.4" y="354.7" width="8.2" height="8.2" fill="#ff7f32"/>
<rect x="697.6" y="351.5" width="8.2" height="8.2" fill="#ff7f32"/>
<rect x="703.9" y="383.6" width="8.2" height="8.2" fill="#ff7f32"/>
<rect x="710.1" y="419.6" width="8.2" height="8.2" fill="#ff7f32"/>
<rect x="716.4" y="449.4" width="8.2" height="8.2" fill="#ff7f32"/>
<polyline points="106.8,291.2 113.1,262.3 119.4,212.4 125.6,190.5 131.9,179.5 138.1,174.2 144.4,176.3 150.7,179.8 156.9,185.7 163.2,192.1 169.5,198.9 175.7,206.3 182.0,213.8 188.2,219.3 194.5,227.3 200.8,233.2 207.0,238.6 213.3,245.1 219.5,252.0 225.8,257.0 232.1,263.3 238.3,266.5 244.6,271.9 250.9,275.6 257.1,282.4 263.4,281.8 269.6,283.8 275.9,287.7 282.2,289.5 288.4,291.7 294.7,294.1 301.0,292.9 307.2,297.2 313.5,301.8 319.7,299.7 326.0,303.4 332.3,307.0 338.5,308.8 344.8,312.4 351.0,313.2 357.3,307.7 363.6,306.7 369.8,313.0 376.1,320.9 382.4,320.1 388.6,313.7 394.9,317.6 401.1,315.4 407.4,331.3 413.7,321.5 419.9,325.7 426.2,328.4 432.5,317.1 438.7,323.4 445.0,327.9 451.2,333.7 457.5,327.5 463.8,334.5 470.0,329.0 476.3,325.3 482.6,336.6 488.8,341.3 495.1,338.0 501.3,329.2 507.6,341.6 513.9,344.8 520.1,336.9 526.4,337.9 532.6,347.6 538.9,349.6 545.2,349.8 551.4,357.8 557.7,356.8 564.0,353.2 570.2,363.7 576.5,344.6 582.7,366.1 589.0,355.9 595.3,378.4 601.5,365.8 607.8,368.0 614.1,369.5 620.3,358.5 626.6,373.1 632.8,365.1 639.1,349.3 645.4,358.0 651.6,359.4 657.9,361.7 664.1,341.8 670.4,347.9 676.7,348.2 682.9,342.0 689.2,359.5 695.5,355.0 701.7,365.8 708.0,376.6 714.2,397.9 720.5,474.9" fill="none" stroke="#0bb00b" stroke-width="1.5" stroke-dasharray="4 4"/>
<path d="M513.9 349.2 L513.9 349.3 M511.5 349.3 L516.3 349.3 M532.6 352.0 L532.6 352.3 M530.2 352.3 L535.0 352.3 M538.9 354.0 L538.9 354.5 M536.5 354.5 L541.3 354.5 M545.2 354.2 L545.2 354.6 M542.8 354.6 L547.6 354.6 M551.4 353.0 L551.4 353.4 M549.0 353.0 L553.8 353.0 M551.4 362.2 L551.4 363.4 M549.0 363.4 L553.8 363.4 M557.7 352.1 L557.7 352.4 M555.3 352.1 L560.1 352.1 M557.7 361.2 L557.7 362.2 M555.3 362.2 L560.1 362.2 M564.0 348.7 L564.0 348.8 M561.6 348.7 L566.4 348.7 M564.0 357.6 L564.0 358.3 M561.6 358.3 L566.4 358.3 M570.2 358.5 L570.2 359.3 M567.8 358.5 L572.6 358.5 M570.2 368.1 L570.2 369.9 M567.8 369.9 L572.6 369.9 M576.5 349.0 L576.5 349.1 M574.1 349.1 L578.9 349.1 M582.7 360.7 L582.7 361.7 M580.3 360.7 L585.1 360.7 M582.7 370.5 L582.7 372.5 M580.3 372.5 L585.1 372.5 M589.0 351.3 L589.0 351.5 M586.6 351.3 L591.4 351.3 M589.0 360.3 L589.0 361.3 M586.6 361.3 L591.4 361.3 M595.3 372.0 L595.3 374.0 M592.9 372.0 L597.7 372.0 M595.3 382.8 L595.3 386.4 M592.9 386.4 L597.7 386.4 M601.5 360.5 L601.5 361.4 M599.1 360.5 L603.9 360.5 M601.5 370.2 L601.5 372.2 M599.1 372.2 L603.9 372.2 M607.8 362.5 L607.8 363.6 M605.4 362.5 L610.2 362.5 M607.8 372.4 L607.8 374.7 M605.4 374.7 L610.2 374.7 M614.1 363.8 L614.1 365.1 M611.7 363.8 L616.5 363.8 M614.1 373.9 L614.1 376.3 M611.7 376.3 L616.5 376.3 M620.3 353.7 L620.3 354.1 M617.9 353.7 L622.7 353.7 M620.3 362.9 L620.3 364.1 M617.9 364.1 L622.7 364.1 M626.6 367.1 L626.6 368.7 M624.2 367.1 L629.0 367.1 M626.6 377.5 L626.6 380.3 M624.2 380.3 L629.0 380.3 M632.8 359.8 L632.8 360.7 M630.4 359.8 L635.2 359.8 M632.8 369.5 L632.8 371.4 M630.4 371.4 L635.2 371.4 M639.1 353.7 L639.1 354.2 M636.7 354.2 L641.5 354.2 M645.4 353.2 L645.4 353.6 M643.0 353.2 L647.8 353.2 M645.4 362.4 L645.4 363.6 M643.0 363.6 L647.8 363.6 M651.6 354.5 L651.6 355.0 M649.2 354.5 L654.0 354.5 M651.6 363.8 L651.6 365.1 M649.2 365.1 L654.0 365.1 M657.9 356.7 L657.9 357.3 M655.5 356.7 L660.3 356.7 M657.9 366.1 L657.9 367.7 M655.5 367.7 L660.3 367.7 M670.4 352.3 L670.4 352.7 M668.0 352.7 L672.8 352.7 M676.7 352.6 L676.7 353.0 M674.3 353.0 L679.1 353.0 M689.2 354.6 L689.2 355.1 M686.8 354.6 L691.6 354.6 M689.2 363.9 L689.2 365.2 M686.8 365.2 L691.6 365.2 M695.5 350.4 L695.5 350.6 M693.1 350.4 L697.9 350.4 M695.5 359.4 L695.5 360.3 M693.1 360.3 L697.9 360.3 M701.7 360.4 L701.7 361.4 M699.3 360.4 L704.1 360.4 M701.7 370.2 L701.7 372.2 M699.3 372.2 L704.1 372.2 M708.0 370.4 L708.0 372.2 M705.6 370.4 L710.4 370.4 M708.0 381.0 L708.0 384.4 M705.6 384.4 L710.4 384.4 M714.2 389.6 L714.2 393.5 M711.8 389.6 L716.6 389.6 M714.2 402.3 L714.2 409.2 M711.8 409.2 L716.6 409.2 M720.5 452.5 L720.5 470.5 M718.1 452.5 L722.9 452.5 M720.5 479.3 L720.5 675.2 M718.1 675.2 L722.9 675.2 " fill="none" stroke="#0bb00b" stroke-width="1.4" stroke-dasharray="4 4"/>
<path d="M102.4 287.2 L111.2 287.2 L106.8 295.8 Z" fill="#0bb00b"/>
<path d="M108.7 258.3 L117.5 258.3 L113.1 266.9 Z" fill="#0bb00b"/>
<path d="M115.0 208.4 L123.8 208.4 L119.4 217.0 Z" fill="#0bb00b"/>
<path d="M121.2 186.5 L130.0 186.5 L125.6 195.1 Z" fill="#0bb00b"/>
<path d="M127.5 175.5 L136.3 175.5 L131.9 184.1 Z" fill="#0bb00b"/>
<path d="M133.7 170.2 L142.5 170.2 L138.1 178.8 Z" fill="#0bb00b"/>
<path d="M140.0 172.3 L148.8 172.3 L144.4 180.9 Z" fill="#0bb00b"/>
<path d="M146.3 175.8 L155.1 175.8 L150.7 184.4 Z" fill="#0bb00b"/>
<path d="M152.5 181.7 L161.3 181.7 L156.9 190.3 Z" fill="#0bb00b"/>
<path d="M158.8 188.1 L167.6 188.1 L163.2 196.7 Z" fill="#0bb00b"/>
<path d="M165.1 194.9 L173.9 194.9 L169.5 203.5 Z" fill="#0bb00b"/>
<path d="M171.3 202.3 L180.1 202.3 L175.7 210.9 Z" fill="#0bb00b"/>
<path d="M177.6 209.8 L186.4 209.8 L182.0 218.4 Z" fill="#0bb00b"/>
<path d="M183.8 215.3 L192.6 215.3 L188.2 223.9 Z" fill="#0bb00b"/>
<path d="M190.1 223.3 L198.9 223.3 L194.5 231.9 Z" fill="#0bb00b"/>
<path d="M196.4 229.2 L205.2 229.2 L200.8 237.8 Z" fill="#0bb00b"/>
<path d="M202.6 234.6 L211.4 234.6 L207.0 243.2 Z" fill="#0bb00b"/>
<path d="M208.9 241.1 L217.7 241.1 L213.3 249.7 Z" fill="#0bb00b"/>
<path d="M215.1 248.0 L223.9 248.0 L219.5 256.6 Z" fill="#0bb00b"/>
<path d="M221.4 253.0 L230.2 253.0 L225.8 261.6 Z" fill="#0bb00b"/>
<path d="M227.7 259.3 L236.5 259.3 L232.1 267.9 Z" fill="#0bb00b"/>
<path d="M233.9 262.5 L242.7 262.5 L238.3 271.1 Z" fill="#0bb00b"/>
<path d="M240.2 267.9 L249.0 267.9 L244.6 276.5 Z" fill="#0bb00b"/>
<path d="M246.5 271.6 L255.3 271.6 L250.9 280.2 Z" fill="#0bb00b"/>
<path d="M252.7 278.4 L261.5 278.4 L257.1 287.0 Z" fill="#0bb00b"/>
<path d="M259.0 277.8 L267.8 277.8 L263.4 286.4 Z" fill="#0bb00b"/>
<path d="M265.2 279.8 L274.0 279.8 L269.6 288.4 Z" fill="#0bb00b"/>
<path d="M271.5 283.7 L280.3 283.7 L275.9 292.3 Z" fill="#0bb00b"/>
<path d="M277.8 285.5 L286.6 285.5 L282.2 294.1 Z" fill="#0bb00b"/>
<path d="M284.0 287.7 L292.8 287.7 L288.4 296.3 Z" fill="#0bb00b"/>
<path d="M290.3 290.1 L299.1 290.1 L294.7 298.7 Z" fill="#0bb00b"/>
<path d="M296.6 288.9 L305.4 288.9 L301.0 297.5 Z" fill="#0bb00b"/>
<path d="M302.8 293.2 L311.6 293.2 L307.2 301.8 Z" fill="#0bb00b"/>
<path d="M309.1 297.8 L317.9 297.8 L313.5 306.4 Z" fill="#0bb00b"/>
<path d="M315.3 295.7 L324.1 295.7 L319.7 304.3 Z" fill="#0bb00b"/>
<path d="M321.6 299.4 L330.4 299.4 L326.0 308.0 Z" fill="#0bb00b"/>
<path d="M327.9 303.0 L336.7 303.0 L332.3 311.6 Z" fill="#0bb00b"/>
<path d="M334.1 304.8 L342.9 304.8 L338.5 313.4 Z" fill="#0bb00b"/>
<path d="M340.4 308.4 L349.2 308.4 L344.8 317.0 Z" fill="#0bb00b"/>
<path d="M346.6 309.2 L355.4 309.2 L351.0 317.8 Z" fill="#0bb00b"/>
<path d="M352.9 303.7 L361.7 303.7 L357.3 312.3 Z" fill="#0bb00b"/>
<path d="M359.2 302.7 L368.0 302.7 L363.6 311.3 Z" fill="#0bb00b"/>
<path d="M365.4 309.0 L374.2 309.0 L369.8 317.6 Z" fill="#0bb00b"/>
<path d="M371.7 316.9 L380.5 316.9 L376.1 325.5 Z" fill="#0bb00b"/>
<path d="M378.0 316.1 L386.8 316.1 L382.4 324.7 Z" fill="#0bb00b"/>
<path d="M384.2 309.7 L393.0 309.7 L388.6 318.3 Z" fill="#0bb00b"/>
<path d="M390.5 313.6 L399.3 313.6 L394.9 322.2 Z" fill="#0bb00b"/>
<path d="M396.7 311.4 L405.5 311.4 L401.1 320.0 Z" fill="#0bb00b"/>
<path d="M403.0 327.3 L411.8 327.3 L407.4 335.9 Z" fill="#0bb00b"/>
<path d="M409.3 317.5 L418.1 317.5 L413.7 326.1 Z" fill="#0bb00b"/>
<path d="M415.5 321.7 L424.3 321.7 L419.9 330.3 Z" fill="#0bb00b"/>
<path d="M421.8 324.4 L430.6 324.4 L426.2 333.0 Z" fill="#0bb00b"/>
<path d="M428.1 313.1 L436.9 313.1 L432.5 321.7 Z" fill="#0bb00b"/>
<path d="M434.3 319.4 L443.1 319.4 L438.7 328.0 Z" fill="#0bb00b"/>
<path d="M440.6 323.9 L449.4 323.9 L445.0 332.5 Z" fill="#0bb00b"/>
<path d="M446.8 329.7 L455.6 329.7 L451.2 338.3 Z" fill="#0bb00b"/>
<path d="M453.1 323.5 L461.9 323.5 L457.5 332.1 Z" fill="#0bb00b"/>
<path d="M459.4 330.5 L468.2 330.5 L463.8 339.1 Z" fill="#0bb00b"/>
<path d="M465.6 325.0 L474.4 325.0 L470.0 333.6 Z" fill="#0bb00b"/>
<path d="M471.9 321.3 L480.7 321.3 L476.3 329.9 Z" fill="#0bb00b"/>
<path d="M478.2 332.6 L487.0 332.6 L482.6 341.2 Z" fill="#0bb00b"/>
<path d="M484.4 337.3 L493.2 337.3 L488.8 345.9 Z" fill="#0bb00b"/>
<path d="M490.7 334.0 L499.5 334.0 L495.1 342.6 Z" fill="#0bb00b"/>
<path d="M496.9 325.2 L505.7 325.2 L501.3 333.8 Z" fill="#0bb00b"/>
<path d="M503.2 337.6 L512.0 337.6 L507.6 346.2 Z" fill="#0bb00b"/>
<path d="M509.5 340.8 L518.3 340.8 L513.9 349.4 Z" fill="#0bb00b"/>
<path d="M515.7 332.9 L524.5 332.9 L520.1 341.5 Z" fill="#0bb00b"/>
<path d="M522.0 333.9 L530.8 333.9 L526.4 342.5 Z" fill="#0bb00b"/>
<path d="M528.2 343.6 L537.0 343.6 L532.6 352.2 Z" fill="#0bb00b"/>
<path d="M534.5 345.6 L543.3 345.6 L538.9 354.2 Z" fill="#0bb00b"/>
<path d="M540.8 345.8 L549.6 345.8 L545.2 354.4 Z" fill="#0bb00b"/>
<path d="M547.0 353.8 L555.8 353.8 L551.4 362.4 Z" fill="#0bb00b"/>
<path d="M553.3 352.8 L562.1 352.8 L557.7 361.4 Z" fill="#0bb00b"/>
<path d="M559.6 349.2 L568.4 349.2 L564.0 357.8 Z" fill="#0bb00b"/>
<path d="M565.8 359.7 L574.6 359.7 L570.2 368.3 Z" fill="#0bb00b"/>
<path d="M572.1 340.6 L580.9 340.6 L576.5 349.2 Z" fill="#0bb00b"/>
<path d="M578.3 362.1 L587.1 362.1 L582.7 370.7 Z" fill="#0bb00b"/>
<path d="M584.6 351.9 L593.4 351.9 L589.0 360.5 Z" fill="#0bb00b"/>
<path d="M590.9 374.4 L599.7 374.4 L595.3 383.0 Z" fill="#0bb00b"/>
<path d="M597.1 361.8 L605.9 361.8 L601.5 370.4 Z" fill="#0bb00b"/>
<path d="M603.4 364.0 L612.2 364.0 L607.8 372.6 Z" fill="#0bb00b"/>
<path d="M609.7 365.5 L618.5 365.5 L614.1 374.1 Z" fill="#0bb00b"/>
<path d="M615.9 354.5 L624.7 354.5 L620.3 363.1 Z" fill="#0bb00b"/>
<path d="M622.2 369.1 L631.0 369.1 L626.6 377.7 Z" fill="#0bb00b"/>
<path d="M628.4 361.1 L637.2 361.1 L632.8 369.7 Z" fill="#0bb00b"/>
<path d="M634.7 345.3 L643.5 345.3 L639.1 353.9 Z" fill="#0bb00b"/>
<path d="M641.0 354.0 L649.8 354.0 L645.4 362.6 Z" fill="#0bb00b"/>
<path d="M647.2 355.4 L656.0 355.4 L651.6 364.0 Z" fill="#0bb00b"/>
<path d="M653.5 357.7 L662.3 357.7 L657.9 366.3 Z" fill="#0bb00b"/>
<path d="M659.7 337.8 L668.5 337.8 L664.1 346.4 Z" fill="#0bb00b"/>
<path d="M666.0 343.9 L674.8 343.9 L670.4 352.5 Z" fill="#0bb00b"/>
<path d="M672.3 344.2 L681.1 344.2 L676.7 352.8 Z" fill="#0bb00b"/>
<path d="M678.5 338.0 L687.3 338.0 L682.9 346.6 Z" fill="#0bb00b"/>
<path d="M684.8 355.5 L693.6 355.5 L689.2 364.1 Z" fill="#0bb00b"/>
<path d="M691.1 351.0 L699.9 351.0 L695.5 359.6 Z" fill="#0bb00b"/>
<path d="M697.3 361.8 L706.1 361.8 L701.7 370.4 Z" fill="#0bb00b"/>
<path d="M703.6 372.6 L712.4 372.6 L708.0 381.2 Z" fill="#0bb00b"/>
<path d="M709.8 393.9 L718.6 393.9 L714.2 402.5 Z" fill="#0bb00b"/>
<path d="M716.1 470.9 L724.9 470.9 L720.5 479.5 Z" fill="#0bb00b"/>
<polyline points="106.8,294.4 113.1,288.5 119.4,254.7 125.6,220.9 131.9,198.5 138.1,182.7 144.4,176.0 150.7,174.7 156.9,176.6 163.2,182.3 169.5,188.7 175.7,196.2 182.0,203.9 188.2,212.3 194.5,220.0 200.8,225.6 207.0,233.1 213.3,241.0 219.5,247.2 225.8,253.8 232.1,261.5 238.3,265.4 244.6,271.6 250.9,275.7 257.1,277.1 263.4,282.1 269.6,284.2 275.9,290.2 282.2,290.2 288.4,290.9 294.7,295.6 301.0,295.0 307.2,298.0 313.5,299.7 319.7,302.3 326.0,303.4 332.3,309.1 338.5,305.1 344.8,308.1 351.0,308.1 357.3,312.3 363.6,314.6 369.8,314.0 376.1,317.0 382.4,318.4 388.6,315.1 394.9,317.9 401.1,318.6 407.4,320.7 413.7,321.0 419.9,321.1 426.2,325.4 432.5,328.5 438.7,331.0 445.0,333.4 451.2,332.4 457.5,331.8 463.8,334.0 470.0,331.8 476.3,335.3 482.6,334.3 488.8,331.8 495.1,342.0 501.3,343.5 507.6,337.6 513.9,344.2 520.1,337.7 526.4,341.4 532.6,345.5 538.9,353.8 545.2,355.2 551.4,347.5 557.7,355.7 564.0,349.3 570.2,358.5 576.5,358.6 582.7,359.8 589.0,362.1 595.3,365.0 601.5,363.5 607.8,362.6 614.1,363.3 620.3,355.9 626.6,357.8 632.8,356.9 639.1,354.6 645.4,357.4 651.6,353.6 657.9,355.2 664.1,347.5 670.4,349.4 676.7,336.6 682.9,349.1 689.2,353.5 695.5,360.8 701.7,389.5 708.0,390.0 714.2,416.7 720.5,456.8" fill="none" stroke="#404040" stroke-width="1.7"/>
<path d="M538.9 358.5 L538.9 359.0 M536.5 359.0 L541.3 359.0 M545.2 359.9 L545.2 360.6 M542.8 360.6 L547.6 360.6 M557.7 360.4 L557.7 361.0 M555.3 361.0 L560.1 361.0 M564.0 354.0 L564.0 354.1 M561.6 354.1 L566.4 354.1 M570.2 353.7 L570.2 353.8 M567.8 353.7 L572.6 353.7 M570.2 363.2 L570.2 364.1 M567.8 364.1 L572.6 364.1 M576.5 353.8 L576.5 353.9 M574.1 353.8 L578.9 353.8 M576.5 363.3 L576.5 364.3 M574.1 364.3 L578.9 364.3 M582.7 354.9 L582.7 355.1 M580.3 354.9 L585.1 354.9 M582.7 364.5 L582.7 365.6 M580.3 365.6 L585.1 365.6 M589.0 357.1 L589.0 357.4 M586.6 357.1 L591.4 357.1 M589.0 366.8 L589.0 368.2 M586.6 368.2 L591.4 368.2 M595.3 359.7 L595.3 360.3 M592.9 359.7 L597.7 359.7 M595.3 369.7 L595.3 371.3 M592.9 371.3 L597.7 371.3 M601.5 358.3 L601.5 358.8 M599.1 358.3 L603.9 358.3 M601.5 368.2 L601.5 369.6 M599.1 369.6 L603.9 369.6 M607.8 357.5 L607.8 357.9 M605.4 357.5 L610.2 357.5 M607.8 367.3 L607.8 368.7 M605.4 368.7 L610.2 368.7 M614.1 358.2 L614.1 358.6 M611.7 358.2 L616.5 358.2 M614.1 368.0 L614.1 369.5 M611.7 369.5 L616.5 369.5 M620.3 360.6 L620.3 361.4 M617.9 361.4 L622.7 361.4 M626.6 353.0 L626.6 353.1 M624.2 353.0 L629.0 353.0 M626.6 362.5 L626.6 363.4 M624.2 363.4 L629.0 363.4 M632.8 361.6 L632.8 362.4 M630.4 362.4 L635.2 362.4 M639.1 359.3 L639.1 359.9 M636.7 359.9 L641.5 359.9 M645.4 352.7 L645.4 352.7 M643.0 352.7 L647.8 352.7 M645.4 362.1 L645.4 362.9 M643.0 362.9 L647.8 362.9 M651.6 358.3 L651.6 358.8 M649.2 358.8 L654.0 358.8 M657.9 359.9 L657.9 360.5 M655.5 360.5 L660.3 360.5 M670.4 354.1 L670.4 354.2 M668.0 354.2 L672.8 354.2 M682.9 353.8 L682.9 353.9 M680.5 353.9 L685.3 353.9 M689.2 358.2 L689.2 358.7 M686.8 358.7 L691.6 358.7 M695.5 355.8 L695.5 356.1 M693.1 355.8 L697.9 355.8 M695.5 365.5 L695.5 366.7 M693.1 366.7 L697.9 366.7 M701.7 382.1 L701.7 384.8 M699.3 382.1 L704.1 382.1 M701.7 394.2 L701.7 399.2 M699.3 399.2 L704.1 399.2 M708.0 382.5 L708.0 385.3 M705.6 382.5 L710.4 382.5 M708.0 394.7 L708.0 399.8 M705.6 399.8 L710.4 399.8 M714.2 405.9 L714.2 412.0 M711.8 405.9 L716.6 405.9 M714.2 421.4 L714.2 433.0 M711.8 433.0 L716.6 433.0 M720.5 439.0 L720.5 452.1 M718.1 439.0 L722.9 439.0 M720.5 461.5 L720.5 499.9 M718.1 499.9 L722.9 499.9 " fill="none" stroke="#404040" stroke-width="1.4"/>
<circle cx="106.8" cy="294.4" r="4.0" fill="none" stroke="#404040" stroke-width="1.6"/>
<circle cx="113.1" cy="288.5" r="4.0" fill="none" stroke="#404040" stroke-width="1.6"/>
<circle cx="119.4" cy="254.7" r="4.0" fill="none" stroke="#404040" stroke-width="1.6"/>
<circle cx="125.6" cy="220.9" r="4.0" fill="none" stroke="#404040" stroke-width="1.6"/>
<circle cx="131.9" cy="198.5" r="4.0" fill="none" stroke="#404040" stroke-width="1.6"/>
<circle cx="138.1" cy="182.7" r="4.0" fill="none" stroke="#404040" stroke-width="1.6"/>
<circle cx="144.4" cy="176.0" r="4.0" fill="none" stroke="#404040" stroke-width="1.6"/>
<circle cx="150.7" cy="174.7" r="4.0" fill="none" stroke="#404040" stroke-width="1.6"/>
<circle cx="156.9" cy="176.6" r="4.0" fill="none" stroke="#404040" stroke-width="1.6"/>
<circle cx="163.2" cy="182.3" r="4.0" fill="none" stroke="#404040" stroke-width="1.6"/>
<circle cx="169.5" cy="188.7" r="4.0" fill="none" stroke="#404040" stroke-width="1.6"/>
<circle cx="175.7" cy="196.2" r="4.0" fill="none" stroke="#404040" stroke-width="1.6"/>
<circle cx="182.0" cy="203.9" r="4.0" fill="none" stroke="#404040" stroke-width="1.6"/>
<circle cx="188.2" cy="212.3" r="4.0" fill="none" stroke="#404040" stroke-width="1.6"/>
<circle cx="194.5" cy="220.0" r="4.0" fill="none" stroke="#404040" stroke-width="1.6"/>
<circle cx="200.8" cy="225.6" r="4.0" fill="none" stroke="#404040" stroke-width="1.6"/>
<circle cx="207.0" cy="233.1" r="4.0" fill="none" stroke="#404040" stroke-width="1.6"/>
<circle cx="213.3" cy="241.0" r="4.0" fill="none" stroke="#404040" stroke-width="1.6"/>
<circle cx="219.5" cy="247.2" r="4.0" fill="none" stroke="#404040" stroke-width="1.6"/>
<circle cx="225.8" cy="253.8" r="4.0" fill="none" stroke="#404040" stroke-width="1.6"/>
<circle cx="232.1" cy="261.5" r="4.0" fill="none" stroke="#404040" stroke-width="1.6"/>
<circle cx="238.3" cy="265.4" r="4.0" fill="none" stroke="#404040" stroke-width="1.6"/>
<circle cx="244.6" cy="271.6" r="4.0" fill="none" stroke="#404040" stroke-width="1.6"/>
<circle cx="250.9" cy="275.7" r="4.0" fill="none" stroke="#404040" stroke-width="1.6"/>
<circle cx="257.1" cy="277.1" r="4.0" fill="none" stroke="#404040" stroke-width="1.6"/>
<circle cx="263.4" cy="282.1" r="4.0" fill="none" stroke="#404040" stroke-width="1.6"/>
<circle cx="269.6" cy="284.2" r="4.0" fill="none" stroke="#404040" stroke-width="1.6"/>
<circle cx="275.9" cy="290.2" r="4.0" fill="none" stroke="#404040" stroke-width="1.6"/>
<circle cx="282.2" cy="290.2" r="4.0" fill="none" stroke="#404040" stroke-width="1.6"/>
<circle cx="288.4" cy="290.9" r="4.0" fill="none" stroke="#404040" stroke-width="1.6"/>
<circle cx="294.7" cy="295.6" r="4.0" fill="none" stroke="#404040" stroke-width="1.6"/>
<circle cx="301.0" cy="295.0" r="4.0" fill="none" stroke="#404040" stroke-width="1.6"/>
<circle cx="307.2" cy="298.0" r="4.0" fill="none" stroke="#404040" stroke-width="1.6"/>
<circle cx="313.5" cy="299.7" r="4.0" fill="none" stroke="#404040" stroke-width="1.6"/>
<circle cx="319.7" cy="302.3" r="4.0" fill="none" stroke="#404040" stroke-width="1.6"/>
<circle cx="326.0" cy="303.4" r="4.0" fill="none" stroke="#404040" stroke-width="1.6"/>
<circle cx="332.3" cy="309.1" r="4.0" fill="none" stroke="#404040" stroke-width="1.6"/>
<circle cx="338.5" cy="305.1" r="4.0" fill="none" stroke="#404040" stroke-width="1.6"/>
<circle cx="344.8" cy="308.1" r="4.0" fill="none" stroke="#404040" stroke-width="1.6"/>
<circle cx="351.0" cy="308.1" r="4.0" fill="none" stroke="#404040" stroke-width="1.6"/>
<circle cx="357.3" cy="312.3" r="4.0" fill="none" stroke="#404040" stroke-width="1.6"/>
<circle cx="363.6" cy="314.6" r="4.0" fill="none" stroke="#404040" stroke-width="1.6"/>
<circle cx="369.8" cy="314.0" r="4.0" fill="none" stroke="#404040" stroke-width="1.6"/>
<circle cx="376.1" cy="317.0" r="4.0" fill="none" stroke="#404040" stroke-width="1.6"/>
<circle cx="382.4" cy="318.4" r="4.0" fill="none" stroke="#404040" stroke-width="1.6"/>
<circle cx="388.6" cy="315.1" r="4.0" fill="none" stroke="#404040" stroke-width="1.6"/>
<circle cx="394.9" cy="317.9" r="4.0" fill="none" stroke="#404040" stroke-width="1.6"/>
<circle cx="401.1" cy="318.6" r="4.0" fill="none" stroke="#404040" stroke-width="1.6"/>
<circle cx="407.4" cy="320.7" r="4.0" fill="none" stroke="#404040" stroke-width="1.6"/>
<circle cx="413.7" cy="321.0" r="4.0" fill="none" stroke="#404040" stroke-width="1.6"/>
<circle cx="419.9" cy="321.1" r="4.0" fill="none" stroke="#404040" stroke-width="1.6"/>
<circle cx="426.2" cy="325.4" r="4.0" fill="none" stroke="#404040" stroke-width="1.6"/>
<circle cx="432.5" cy="328.5" r="4.0" fill="none" stroke="#404040" stroke-width="1.6"/>
<circle cx="438.7" cy="331.0" r="4.0" fill="none" stroke="#404040" stroke-width="1.6"/>
<circle cx="445.0" cy="333.4" r="4.0" fill="none" stroke="#404040" stroke-width="1.6"/>
<circle cx="451.2" cy="332.4" r="4.0" fill="none" stroke="#404040" stroke-width="1.6"/>
<circle cx="457.5" cy="331.8" r="4.0" fill="none" stroke="#404040" stroke-width="1.6"/>
<circle cx="463.8" cy="334.0" r="4.0" fill="none" stroke="#404040" stroke-width="1.6"/>
<circle cx="470.0" cy="331.8" r="4.0" fill="none" stroke="#404040" stroke-width="1.6"/>
<circle cx="476.3" cy="335.3" r="4.0" fill="none" stroke="#404040" stroke-width="1.6"/>
<circle cx="482.6" cy="334.3" r="4.0" fill="none" stroke="#404040" stroke-width="1.6"/>
<circle cx="488.8" cy="331.8" r="4.0" fill="none" stroke="#404040" stroke-width="1.6"/>
<circle cx="495.1" cy="342.0" r="4.0" fill="none" stroke="#404040" stroke-width="1.6"/>
<circle cx="501.3" cy="343.5" r="4.0" fill="none" stroke="#404040" stroke-width="1.6"/>
<circle cx="507.6" cy="337.6" r="4.0" fill="none" stroke="#404040" stroke-width="1.6"/>
<circle cx="513.9" cy="344.2" r="4.0" fill="none" stroke="#404040" stroke-width="1.6"/>
<circle cx="520.1" cy="337.7" r="4.0" fill="none" stroke="#404040" stroke-width="1.6"/>
<circle cx="526.4" cy="341.4" r="4.0" fill="none" stroke="#404040" stroke-width="1.6"/>
<circle cx="532.6" cy="345.5" r="4.0" fill="none" stroke="#404040" stroke-width="1.6"/>
<circle cx="538.9" cy="353.8" r="4.0" fill="none" stroke="#404040" stroke-width="1.6"/>
<circle cx="545.2" cy="355.2" r="4.0" fill="none" stroke="#404040" stroke-width="1.6"/>
<circle cx="551.4" cy="347.5" r="4.0" fill="none" stroke="#404040" stroke-width="1.6"/>
<circle cx="557.7" cy="355.7" r="4.0" fill="none" stroke="#404040" stroke-width="1.6"/>
<circle cx="564.0" cy="349.3" r="4.0" fill="none" stroke="#404040" stroke-width="1.6"/>
<circle cx="570.2" cy="358.5" r="4.0" fill="none" stroke="#404040" stroke-width="1.6"/>
<circle cx="576.5" cy="358.6" r="4.0" fill="none" stroke="#404040" stroke-width="1.6"/>
<circle cx="582.7" cy="359.8" r="4.0" fill="none" stroke="#404040" stroke-width="1.6"/>
<circle cx="589.0" cy="362.1" r="4.0" fill="none" stroke="#404040" stroke-width="1.6"/>
<circle cx="595.3" cy="365.0" r="4.0" fill="none" stroke="#404040" stroke-width="1.6"/>
<circle cx="601.5" cy="363.5" r="4.0" fill="none" stroke="#404040" stroke-width="1.6"/>
<circle cx="607.8" cy="362.6" r="4.0" fill="none" stroke="#404040" stroke-width="1.6"/>
<circle cx="614.1" cy="363.3" r="4.0" fill="none" stroke="#404040" stroke-width="1.6"/>
<circle cx="620.3" cy="355.9" r="4.0" fill="none" stroke="#404040" stroke-width="1.6"/>
<circle cx="626.6" cy="357.8" r="4.0" fill="none" stroke="#404040" stroke-width="1.6"/>
<circle cx="632.8" cy="356.9" r="4.0" fill="none" stroke="#404040" stroke-width="1.6"/>
<circle cx="639.1" cy="354.6" r="4.0" fill="none" stroke="#404040" stroke-width="1.6"/>
<circle cx="645.4" cy="357.4" r="4.0" fill="none" stroke="#404040" stroke-width="1.6"/>
<circle cx="651.6" cy="353.6" r="4.0" fill="none" stroke="#404040" stroke-width="1.6"/>
<circle cx="657.9" cy="355.2" r="4.0" fill="none" stroke="#404040" stroke-width="1.6"/>
<circle cx="664.1" cy="347.5" r="4.0" fill="none" stroke="#404040" stroke-width="1.6"/>
<circle cx="670.4" cy="349.4" r="4.0" fill="none" stroke="#404040" stroke-width="1.6"/>
<circle cx="676.7" cy="336.6" r="4.0" fill="none" stroke="#404040" stroke-width="1.6"/>
<circle cx="682.9" cy="349.1" r="4.0" fill="none" stroke="#404040" stroke-width="1.6"/>
<circle cx="689.2" cy="353.5" r="4.0" fill="none" stroke="#404040" stroke-width="1.6"/>
<circle cx="695.5" cy="360.8" r="4.0" fill="none" stroke="#404040" stroke-width="1.6"/>
<circle cx="701.7" cy="389.5" r="4.0" fill="none" stroke="#404040" stroke-width="1.6"/>
<circle cx="708.0" cy="390.0" r="4.0" fill="none" stroke="#404040" stroke-width="1.6"/>
<circle cx="714.2" cy="416.7" r="4.0" fill="none" stroke="#404040" stroke-width="1.6"/>
<circle cx="720.5" cy="456.8" r="4.0" fill="none" stroke="#404040" stroke-width="1.6"/>
</g>
<path d="M103.7 35.3 v15.5 M103.7 619.7 v24.5 M103.7 956.0 v-10.0 M119.4 35.3 v4.2 M119.4 631.0 v6.9 M119.4 956.0 v-2.8 M135.0 35.3 v7.7 M135.0 627.5 v12.2 M135.0 956.0 v-5.0 M150.7 35.3 v4.2 M150.7 631.0 v6.9 M150.7 956.0 v-2.8 M166.3 35.3 v7.7 M166.3 627.5 v12.2 M166.3 956.0 v-5.0 M182.0 35.3 v4.2 M182.0 631.0 v6.9 M182.0 956.0 v-2.8 M197.6 35.3 v7.7 M197.6 627.5 v12.2 M197.6 956.0 v-5.0 M213.3 35.3 v4.2 M213.3 631.0 v6.9 M213.3 956.0 v-2.8 M228.9 35.3 v7.7 M228.9 627.5 v12.2 M228.9 956.0 v-5.0 M244.6 35.3 v4.2 M244.6 631.0 v6.9 M244.6 956.0 v-2.8 M260.2 35.3 v15.5 M260.2 619.7 v24.5 M260.2 956.0 v-10.0 M275.9 35.3 v4.2 M275.9 631.0 v6.9 M275.9 956.0 v-2.8 M291.6 35.3 v7.7 M291.6 627.5 v12.2 M291.6 956.0 v-5.0 M307.2 35.3 v4.2 M307.2 631.0 v6.9 M307.2 956.0 v-2.8 M322.9 35.3 v7.7 M322.9 627.5 v12.2 M322.9 956.0 v-5.0 M338.5 35.3 v4.2 M338.5 631.0 v6.9 M338.5 956.0 v-2.8 M354.2 35.3 v7.7 M354.2 627.5 v12.2 M354.2 956.0 v-5.0 M369.8 35.3 v4.2 M369.8 631.0 v6.9 M369.8 956.0 v-2.8 M385.5 35.3 v7.7 M385.5 627.5 v12.2 M385.5 956.0 v-5.0 M401.1 35.3 v4.2 M401.1 631.0 v6.9 M401.1 956.0 v-2.8 M416.8 35.3 v15.5 M416.8 619.7 v24.5 M416.8 956.0 v-10.0 M432.5 35.3 v4.2 M432.5 631.0 v6.9 M432.5 956.0 v-2.8 M448.1 35.3 v7.7 M448.1 627.5 v12.2 M448.1 956.0 v-5.0 M463.8 35.3 v4.2 M463.8 631.0 v6.9 M463.8 956.0 v-2.8 M479.4 35.3 v7.7 M479.4 627.5 v12.2 M479.4 956.0 v-5.0 M495.1 35.3 v4.2 M495.1 631.0 v6.9 M495.1 956.0 v-2.8 M510.7 35.3 v7.7 M510.7 627.5 v12.2 M510.7 956.0 v-5.0 M526.4 35.3 v4.2 M526.4 631.0 v6.9 M526.4 956.0 v-2.8 M542.0 35.3 v7.7 M542.0 627.5 v12.2 M542.0 956.0 v-5.0 M557.7 35.3 v4.2 M557.7 631.0 v6.9 M557.7 956.0 v-2.8 M573.4 35.3 v15.5 M573.4 619.7 v24.5 M573.4 956.0 v-10.0 M589.0 35.3 v4.2 M589.0 631.0 v6.9 M589.0 956.0 v-2.8 M604.7 35.3 v7.7 M604.7 627.5 v12.2 M604.7 956.0 v-5.0 M620.3 35.3 v4.2 M620.3 631.0 v6.9 M620.3 956.0 v-2.8 M636.0 35.3 v7.7 M636.0 627.5 v12.2 M636.0 956.0 v-5.0 M651.6 35.3 v4.2 M651.6 631.0 v6.9 M651.6 956.0 v-2.8 M667.3 35.3 v7.7 M667.3 627.5 v12.2 M667.3 956.0 v-5.0 M682.9 35.3 v4.2 M682.9 631.0 v6.9 M682.9 956.0 v-2.8 M698.6 35.3 v7.7 M698.6 627.5 v12.2 M698.6 956.0 v-5.0 M714.2 35.3 v4.2 M714.2 631.0 v6.9 M714.2 956.0 v-2.8 M729.9 35.3 v15.5 M729.9 619.7 v24.5 M729.9 956.0 v-10.0 M91.0 628.8 h11.8 M742.0 628.8 h-10.9 M91.0 619.5 h11.8 M742.0 619.5 h-10.9 M91.0 612.3 h11.8 M742.0 612.3 h-10.9 M91.0 606.4 h11.8 M742.0 606.4 h-10.9 M91.0 601.4 h11.8 M742.0 601.4 h-10.9 M91.0 597.1 h11.8 M742.0 597.1 h-10.9 M91.0 593.3 h11.8 M742.0 593.3 h-10.9 M91.0 589.9 h22.8 M742.0 589.9 h-21.7 M91.0 567.6 h11.8 M742.0 567.6 h-10.9 M91.0 554.5 h11.8 M742.0 554.5 h-10.9 M91.0 545.2 h11.8 M742.0 545.2 h-10.9 M91.0 538.0 h11.8 M742.0 538.0 h-10.9 M91.0 532.1 h11.8 M742.0 532.1 h-10.9 M91.0 527.1 h11.8 M742.0 527.1 h-10.9 M91.0 522.8 h11.8 M742.0 522.8 h-10.9 M91.0 519.0 h11.8 M742.0 519.0 h-10.9 M91.0 515.6 h22.8 M742.0 515.6 h-21.7 M91.0 493.3 h11.8 M742.0 493.3 h-10.9 M91.0 480.2 h11.8 M742.0 480.2 h-10.9 M91.0 470.9 h11.8 M742.0 470.9 h-10.9 M91.0 463.7 h11.8 M742.0 463.7 h-10.9 M91.0 457.8 h11.8 M742.0 457.8 h-10.9 M91.0 452.9 h11.8 M742.0 452.9 h-10.9 M91.0 448.5 h11.8 M742.0 448.5 h-10.9 M91.0 444.7 h11.8 M742.0 444.7 h-10.9 M91.0 441.4 h22.8 M742.0 441.4 h-21.7 M91.0 419.0 h11.8 M742.0 419.0 h-10.9 M91.0 405.9 h11.8 M742.0 405.9 h-10.9 M91.0 396.6 h11.8 M742.0 396.6 h-10.9 M91.0 389.4 h11.8 M742.0 389.4 h-10.9 M91.0 383.5 h11.8 M742.0 383.5 h-10.9 M91.0 378.6 h11.8 M742.0 378.6 h-10.9 M91.0 374.3 h11.8 M742.0 374.3 h-10.9 M91.0 370.5 h11.8 M742.0 370.5 h-10.9 M91.0 367.1 h22.8 M742.0 367.1 h-21.7 M91.0 344.7 h11.8 M742.0 344.7 h-10.9 M91.0 331.6 h11.8 M742.0 331.6 h-10.9 M91.0 322.3 h11.8 M742.0 322.3 h-10.9 M91.0 315.1 h11.8 M742.0 315.1 h-10.9 M91.0 309.3 h11.8 M742.0 309.3 h-10.9 M91.0 304.3 h11.8 M742.0 304.3 h-10.9 M91.0 300.0 h11.8 M742.0 300.0 h-10.9 M91.0 296.2 h11.8 M742.0 296.2 h-10.9 M91.0 292.8 h22.8 M742.0 292.8 h-21.7 M91.0 270.4 h11.8 M742.0 270.4 h-10.9 M91.0 257.3 h11.8 M742.0 257.3 h-10.9 M91.0 248.0 h11.8 M742.0 248.0 h-10.9 M91.0 240.8 h11.8 M742.0 240.8 h-10.9 M91.0 235.0 h11.8 M742.0 235.0 h-10.9 M91.0 230.0 h11.8 M742.0 230.0 h-10.9 M91.0 225.7 h11.8 M742.0 225.7 h-10.9 M91.0 221.9 h11.8 M742.0 221.9 h-10.9 M91.0 218.5 h22.8 M742.0 218.5 h-21.7 M91.0 196.1 h11.8 M742.0 196.1 h-10.9 M91.0 183.0 h11.8 M742.0 183.0 h-10.9 M91.0 173.8 h11.8 M742.0 173.8 h-10.9 M91.0 166.6 h11.8 M742.0 166.6 h-10.9 M91.0 160.7 h11.8 M742.0 160.7 h-10.9 M91.0 155.7 h11.8 M742.0 155.7 h-10.9 M91.0 151.4 h11.8 M742.0 151.4 h-10.9 M91.0 147.6 h11.8 M742.0 147.6 h-10.9 M91.0 144.2 h22.8 M742.0 144.2 h-21.7 M91.0 121.8 h11.8 M742.0 121.8 h-10.9 M91.0 108.7 h11.8 M742.0 108.7 h-10.9 M91.0 99.5 h11.8 M742.0 99.5 h-10.9 M91.0 92.3 h11.8 M742.0 92.3 h-10.9 M91.0 86.4 h11.8 M742.0 86.4 h-10.9 M91.0 81.4 h11.8 M742.0 81.4 h-10.9 M91.0 77.1 h11.8 M742.0 77.1 h-10.9 M91.0 73.3 h11.8 M742.0 73.3 h-10.9 M91.0 69.9 h22.8 M742.0 69.9 h-21.7 M91.0 47.5 h11.8 M742.0 47.5 h-10.9 M91.0 916.8 h14.8 M742.0 916.8 h-14.0 M91.0 884.8 h10.2 M742.0 884.8 h-9.2 M91.0 857.8 h10.2 M742.0 857.8 h-9.2 M91.0 834.5 h10.2 M742.0 834.5 h-9.2 M91.0 813.8 h10.2 M742.0 813.8 h-9.2 M91.0 795.4 h14.8 M742.0 795.4 h-14.0 M91.0 778.7 h10.2 M742.0 778.7 h-9.2 M91.0 763.5 h10.2 M742.0 763.5 h-9.2 M91.0 749.5 h10.2 M742.0 749.5 h-9.2 M91.0 736.5 h10.2 M742.0 736.5 h-9.2 M91.0 724.4 h14.8 M742.0 724.4 h-14.0 M91.0 713.1 h10.2 M742.0 713.1 h-9.2 M91.0 702.5 h10.2 M742.0 702.5 h-9.2 M91.0 692.5 h10.2 M742.0 692.5 h-9.2 M91.0 683.0 h10.2 M742.0 683.0 h-9.2 M91.0 674.0 h14.8 M742.0 674.0 h-14.0 M91.0 665.5 h10.2 M742.0 665.5 h-9.2 M91.0 657.4 h10.2 M742.0 657.4 h-9.2 M91.0 649.6 h10.2 M742.0 649.6 h-9.2 M91.0 642.1 h10.2 M742.0 642.1 h-9.2 " stroke="#000" stroke-width="1.5" fill="none"/>
<rect x="91.0" y="35.3" width="651.0" height="920.7" fill="none" stroke="#000" stroke-width="2"/>
<line x1="91.0" y1="635.2" x2="742.0" y2="635.2" stroke="#000" stroke-width="2"/>
<g style="opacity:0.999">
<line x1="128.7" y1="422.3" x2="177.2" y2="422.3" stroke="#9c0c2a" stroke-width="1.5"/>
<path d="M147.8 428.1 L158.8 428.1 L153.3 416.9 Z" fill="none" stroke="#9c0c2a" stroke-width="1.4"/>
<text transform="translate(187.4,428.8) scale(0.955,1)" font-size="19.69" fill="#000" text-anchor="start">Pythia 6.428 370</text>
<line x1="128.7" y1="447.9" x2="177.2" y2="447.9" stroke="#f5325e" stroke-width="1.5" stroke-dasharray="4 4"/>
<circle cx="153.3" cy="447.9" r="3.75" fill="none" stroke="#f5325e" stroke-width="1.5"/>
<text transform="translate(187.4,454.4) scale(0.955,1)" font-size="19.69" fill="#000" text-anchor="start">Pythia 6.428 atlas-csc</text>
<line x1="128.7" y1="473.9" x2="177.2" y2="473.9" stroke="#1fc887" stroke-width="1.5" stroke-dasharray="4 4"/>
<path d="M149.1 473.9 L157.5 473.9 M150.3 470.9 L156.3 476.9 M153.3 469.7 L153.3 478.1 M156.3 470.9 L150.3 476.9 " stroke="#1fc887" stroke-width="1.5" fill="none"/>
<text transform="translate(187.4,480.4) scale(0.955,1)" font-size="19.69" fill="#000" text-anchor="start">Pythia 6.428 d6t</text>
<line x1="128.7" y1="499.8" x2="177.2" y2="499.8" stroke="#ff7f32" stroke-width="1.5" stroke-dasharray="7 4 2 4"/>
<rect x="149.2" y="495.7" width="8.2" height="8.2" fill="#ff7f32"/>
<text transform="translate(187.4,506.3) scale(0.955,1)" font-size="19.69" fill="#000" text-anchor="start">Pythia 6.428 default</text>
<line x1="128.7" y1="525.9" x2="177.2" y2="525.9" stroke="#0bb00b" stroke-width="1.5" stroke-dasharray="4 4"/>
<path d="M148.9 521.9 L157.7 521.9 L153.3 530.5 Z" fill="#0bb00b"/>
<text transform="translate(187.4,532.4) scale(0.955,1)" font-size="19.69" fill="#000" text-anchor="start">Pythia 6.428 dw</text>
<line x1="128.7" y1="551.9" x2="177.2" y2="551.9" stroke="#404040" stroke-width="1.5"/>
<circle cx="153.3" cy="551.9" r="4.0" fill="none" stroke="#404040" stroke-width="1.6"/>
<text transform="translate(187.4,558.4) scale(0.955,1)" font-size="19.69" fill="#000" text-anchor="start">Pythia 6.428 p0</text>
<text transform="translate(103.2,29.0) scale(0.955,1)" font-size="25.03" fill="#000" text-anchor="start">7000 GeV pp</text>
<text transform="translate(732.8,29.0) scale(0.955,1)" font-size="25.03" fill="#000" text-anchor="end">Soft QCD</text>
<text transform="translate(357.3,82.6) scale(0.955,1)" font-size="20.84" fill="#000" text-anchor="start">(p<tspan font-size="13.6" dy="10.8">T</tspan><tspan dy="-10.8"> &gt; 0.2 GeV)</tspan></text>
<text transform="translate(416.6,603.3) scale(0.955,1)" font-size="16.13" fill="#a6a6a6" text-anchor="middle">(MC_GAPS)</text>
<text transform="translate(760.8,253.2) rotate(-90) scale(0.917,1)" font-size="20.30" fill="#7a7a7a" text-anchor="start">Rivet 4.1.0, &#8805; 100k events</text>
<text transform="translate(760.8,628.6) rotate(-90) scale(0.930,1)" font-size="20.30" fill="#7a7a7a" text-anchor="start">mcplots.cern.ch [arXiv:1306.3436]</text>
<text transform="translate(34.0,891.8) rotate(-90) scale(0.955,1)" font-size="18.53" fill="#000" text-anchor="start">Ratio to Pythia 6.428 370</text>
<text transform="translate(79.3,600.8) scale(0.955,1)" font-size="23.04" fill="#000" text-anchor="end">10<tspan font-size="15.2" dy="-7.7">&#8722;</tspan><tspan font-size="15.2" dy="-1.6">4</tspan></text>
<text transform="translate(79.3,526.5) scale(0.955,1)" font-size="23.04" fill="#000" text-anchor="end">10<tspan font-size="15.2" dy="-7.7">&#8722;</tspan><tspan font-size="15.2" dy="-1.6">3</tspan></text>
<text transform="translate(79.3,452.2) scale(0.955,1)" font-size="23.04" fill="#000" text-anchor="end">10<tspan font-size="15.2" dy="-7.7">&#8722;</tspan><tspan font-size="15.2" dy="-1.6">2</tspan></text>
<text transform="translate(79.3,378.0) scale(0.955,1)" font-size="23.04" fill="#000" text-anchor="end">10<tspan font-size="15.2" dy="-7.7">&#8722;</tspan><tspan font-size="15.2" dy="-1.6">1</tspan></text>
<text transform="translate(81.0,301.8) scale(0.955,1)" font-size="23.04" fill="#000" text-anchor="end">1</text>
<text transform="translate(78.8,227.5) scale(0.955,1)" font-size="23.04" fill="#000" text-anchor="end">10</text>
<text transform="translate(79.3,155.1) scale(0.955,1)" font-size="23.04" fill="#000" text-anchor="end">10<tspan font-size="15.2" dy="-9.3">2</tspan></text>
<text transform="translate(79.3,80.8) scale(0.955,1)" font-size="23.04" fill="#000" text-anchor="end">10<tspan font-size="15.2" dy="-9.3">3</tspan></text>
<text transform="translate(76.0,682.6) scale(0.955,1)" font-size="23.04" fill="#000" text-anchor="end">2</text>
<text transform="translate(747.6,682.6) scale(0.955,1)" font-size="23.04" fill="#000" text-anchor="start">2</text>
<text transform="translate(76.0,804.0) scale(0.955,1)" font-size="23.04" fill="#000" text-anchor="end">1</text>
<text transform="translate(747.6,804.0) scale(0.955,1)" font-size="23.04" fill="#000" text-anchor="start">1</text>
<text transform="translate(76.0,925.4) scale(0.955,1)" font-size="23.04" fill="#000" text-anchor="end">0.5</text>
<text transform="translate(747.6,925.4) scale(0.955,1)" font-size="23.04" fill="#000" text-anchor="start">0.5</text>
<text transform="translate(103.7,979.3) scale(0.955,1)" font-size="23.04" fill="#000" text-anchor="middle">0</text>
<text transform="translate(260.2,979.3) scale(0.955,1)" font-size="23.04" fill="#000" text-anchor="middle">5</text>
<text transform="translate(416.8,979.3) scale(0.955,1)" font-size="23.04" fill="#000" text-anchor="middle">10</text>
<text transform="translate(573.4,979.3) scale(0.955,1)" font-size="23.04" fill="#000" text-anchor="middle">15</text>
<text transform="translate(729.9,979.3) scale(0.955,1)" font-size="23.04" fill="#000" text-anchor="middle">20</text>
</g>
</svg>
</body></html>
